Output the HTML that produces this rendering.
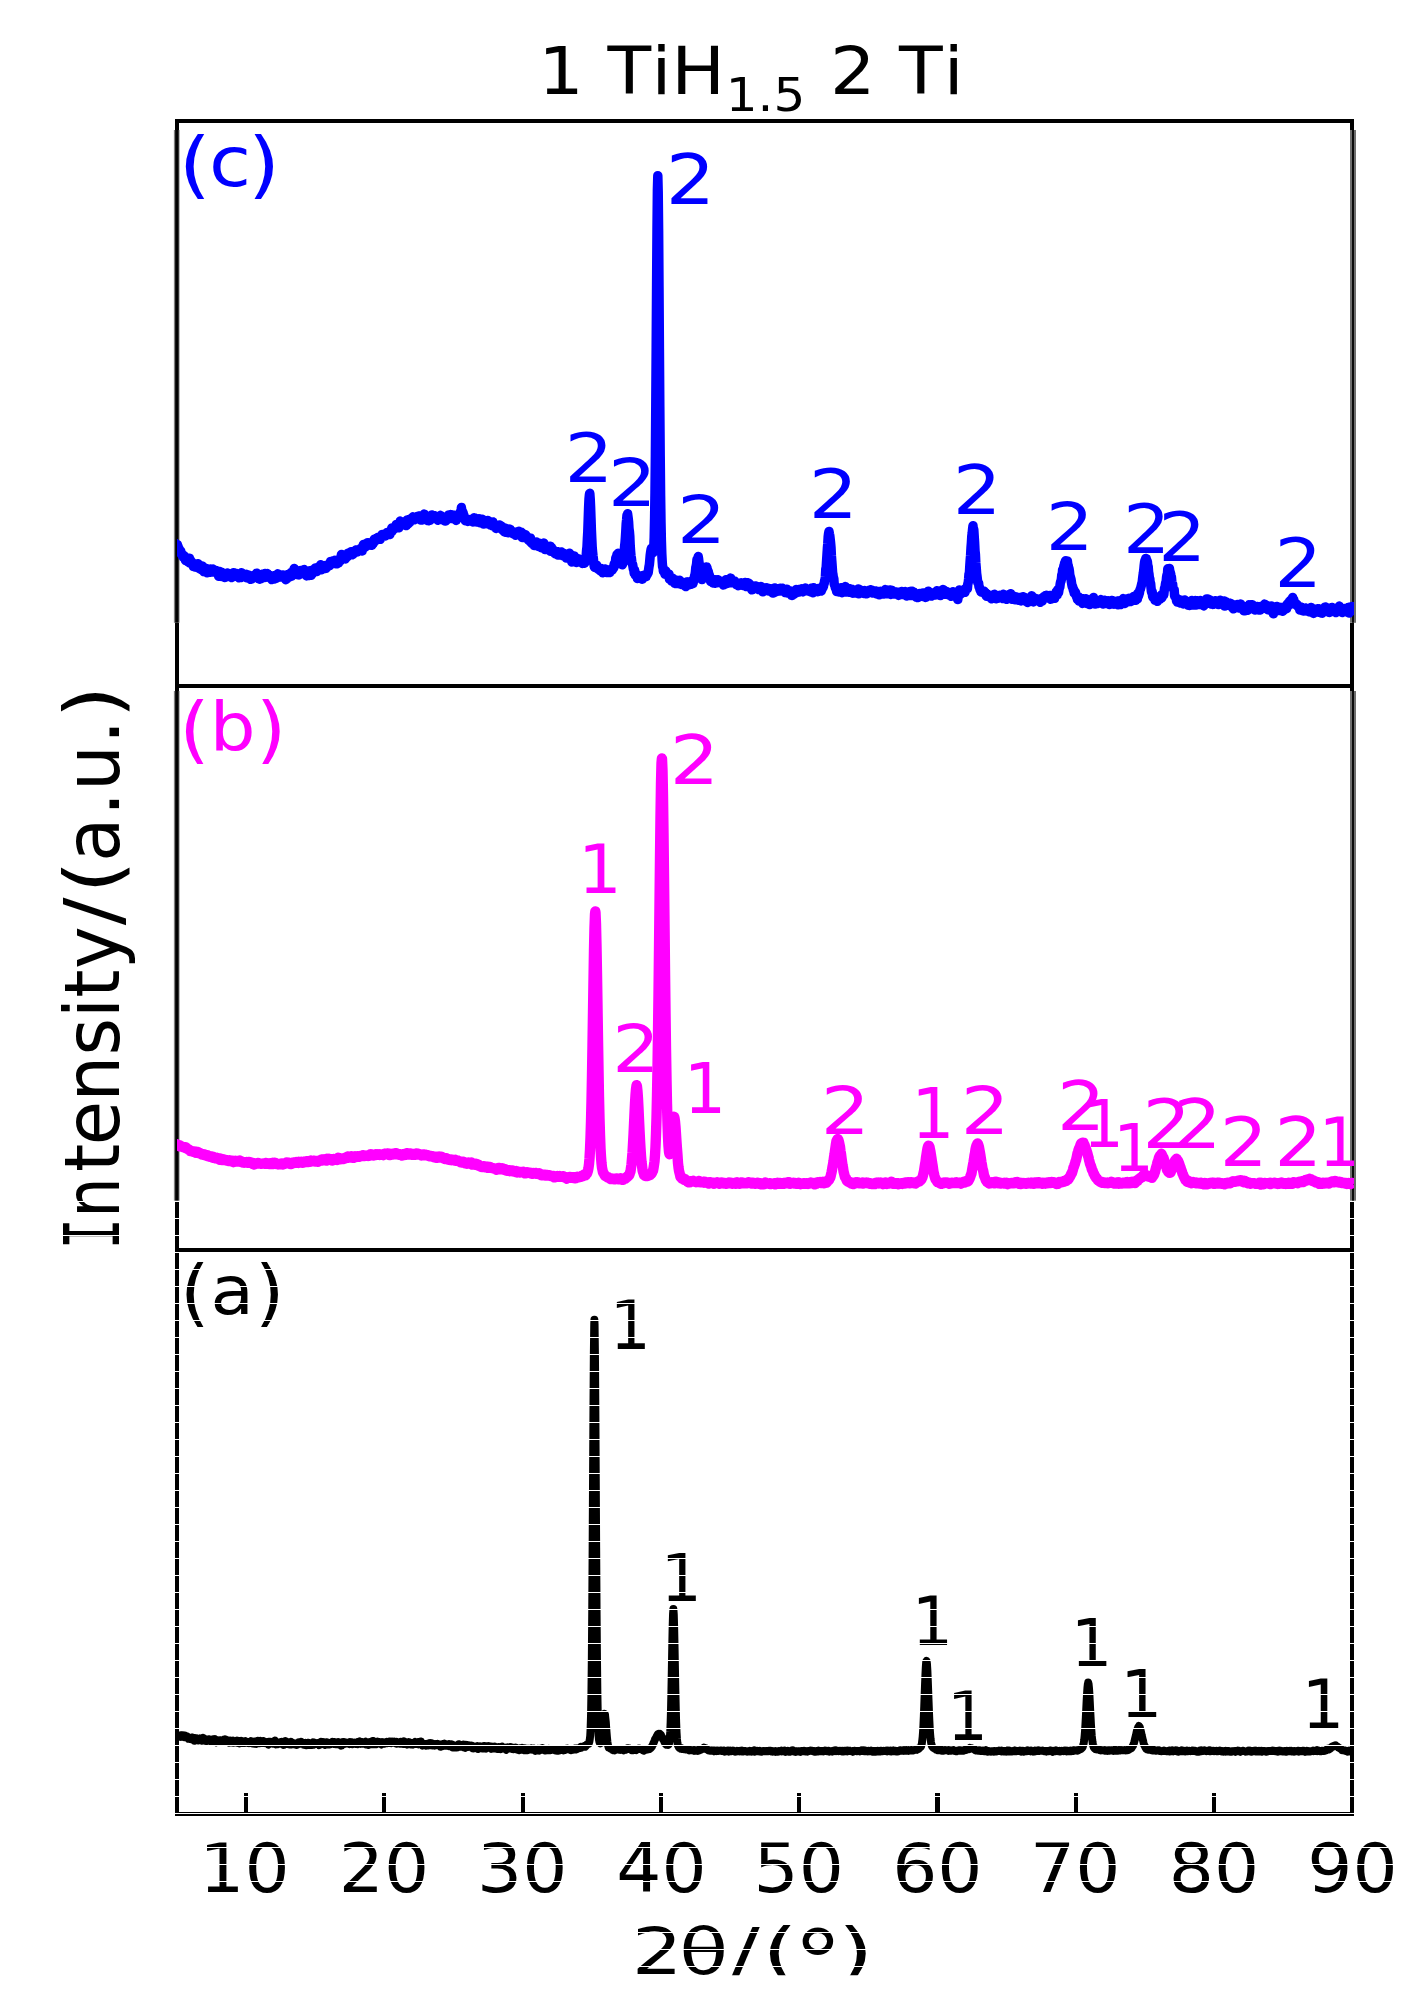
<!DOCTYPE html>
<html lang="en"><head><meta charset="utf-8"><title>XRD patterns</title>
<style>
html,body{margin:0;padding:0;background:#fff;}
svg{display:block;}
text{font-family:"DejaVu Sans","Liberation Sans",sans-serif;font-size:100px;font-kerning:none;font-variant-ligatures:none;white-space:pre;}
</style></head><body>
<svg width="1419" height="2002" viewBox="0 0 1419 2002">
<rect width="1419" height="2002" fill="#fff"/>
<defs><linearGradient id="gl" x1="0" x2="1" y1="0" y2="0"><stop offset="0" stop-color="#000" stop-opacity="0"/><stop offset="0.36" stop-color="#000"/><stop offset="0.72" stop-color="#000"/><stop offset="1" stop-color="#000" stop-opacity="0"/></linearGradient></defs>
<g fill="#000" shape-rendering="crispEdges">
<rect x="175" y="118.9" width="1178.8" height="3.9"/>
<rect x="175" y="684" width="1178.8" height="3.8"/>
<rect x="175" y="1247.8" width="1178.8" height="3.9"/>
<rect x="175" y="1811.9" width="1179.2" height="4.2"/>
<rect x="175" y="118.9" width="3.95" height="11.1"/>
<rect x="1350" y="118.9" width="3.9" height="11.1"/>
<rect x="175" y="622.8" width="3.95" height="68.2"/>
<rect x="1350" y="622.8" width="3.9" height="68.2"/>
<rect x="175" y="1200.7" width="3.95" height="615.3"/>
<rect x="1350" y="1200.7" width="4.2" height="615.3"/>
<rect x="243.9" y="1792.8" width="4.1" height="19.5"/>
<rect x="382.2" y="1792.8" width="4.1" height="19.5"/>
<rect x="520.5" y="1792.8" width="4.1" height="19.5"/>
<rect x="658.8" y="1792.8" width="4.1" height="19.5"/>
<rect x="797.1" y="1792.8" width="4.1" height="19.5"/>
<rect x="935.4" y="1792.8" width="4.1" height="19.5"/>
<rect x="1073.7" y="1792.8" width="4.1" height="19.5"/>
<rect x="1212.0" y="1792.8" width="4.1" height="19.5"/>
</g>
<rect x="173.3" y="130" width="6.7" height="492.8" fill="url(#gl)"/>
<rect x="1350" y="130" width="6" height="492.8" fill="#6e6e6e"/><rect x="1352.1" y="130" width="1.8" height="492.8" fill="#000"/>
<rect x="173.3" y="691" width="6.7" height="509.7" fill="url(#gl)"/>
<rect x="1350" y="691" width="6" height="509.7" fill="#6e6e6e"/><rect x="1352.1" y="691" width="1.8" height="509.7" fill="#000"/>
<clipPath id="cf"><rect x="177" y="100" width="1176.9" height="1720"/></clipPath><g clip-path="url(#cf)" fill="none" stroke-linejoin="round">
<path d="M175.0 548.5 L175.4 543.2 L175.8 547.0 L176.2 546.0 L176.6 546.2 L177.0 546.6 L177.4 544.6 L177.8 546.9 L178.2 546.5 L178.6 552.1 L179.0 549.0 L179.4 549.1 L179.8 550.0 L180.2 550.4 L180.6 550.7 L181.0 552.3 L181.4 553.9 L181.8 553.6 L182.2 555.6 L182.6 554.6 L183.0 555.3 L183.4 557.4 L183.8 556.5 L184.2 555.7 L184.6 556.5 L185.0 558.0 L185.4 560.3 L185.8 558.2 L186.2 558.8 L186.6 560.8 L187.0 558.9 L187.4 560.0 L187.8 561.8 L188.2 561.7 L188.6 561.4 L189.0 562.2 L189.4 558.2 L189.8 563.0 L190.2 560.8 L190.6 560.2 L191.0 562.9 L191.4 563.7 L191.8 562.7 L192.2 562.3 L192.6 564.1 L193.0 564.4 L193.4 566.5 L193.8 566.1 L194.2 565.6 L194.6 566.9 L195.0 565.4 L195.4 564.6 L195.8 566.4 L196.2 566.4 L196.6 565.6 L197.0 565.1 L197.4 566.6 L197.8 563.8 L198.2 568.0 L198.6 568.1 L199.0 565.9 L199.4 568.1 L199.8 567.0 L200.2 569.1 L200.6 565.8 L201.0 567.1 L201.4 569.1 L201.8 569.8 L202.2 566.0 L202.6 568.3 L203.0 569.5 L203.4 568.7 L203.8 571.6 L204.2 568.5 L204.6 570.6 L205.0 569.1 L205.4 572.1 L205.8 570.5 L206.2 570.2 L206.6 568.6 L207.0 572.8 L207.4 571.7 L207.8 571.7 L208.2 572.1 L208.6 571.0 L209.0 569.7 L209.4 569.4 L209.8 569.5 L210.2 572.2 L210.6 568.9 L211.0 570.1 L211.4 570.6 L211.8 571.5 L212.2 571.9 L212.6 569.7 L213.0 569.0 L213.4 570.8 L213.8 572.1 L214.2 571.5 L214.6 570.8 L215.0 570.3 L215.4 571.2 L215.8 570.8 L216.2 572.4 L216.6 570.7 L217.0 572.1 L217.4 572.1 L217.8 573.2 L218.2 573.1 L218.6 576.2 L219.0 575.3 L219.4 575.6 L219.8 571.6 L220.2 573.9 L220.6 573.8 L221.0 575.4 L221.4 572.2 L221.8 576.5 L222.2 576.5 L222.6 573.7 L223.0 574.2 L223.4 574.4 L223.8 575.4 L224.2 576.0 L224.6 577.5 L225.0 574.6 L225.4 575.4 L225.8 574.4 L226.2 576.2 L226.6 574.9 L227.0 575.7 L227.4 573.0 L227.8 574.2 L228.2 573.7 L228.6 576.6 L229.0 575.7 L229.4 574.5 L229.8 574.4 L230.2 575.5 L230.6 574.1 L231.0 573.7 L231.4 575.3 L231.8 577.5 L232.2 574.2 L232.6 573.8 L233.0 573.0 L233.4 572.7 L233.8 574.9 L234.2 575.3 L234.6 574.4 L235.0 574.9 L235.4 574.8 L235.8 575.1 L236.2 573.4 L236.6 575.0 L237.0 576.0 L237.4 575.3 L237.8 575.9 L238.2 575.8 L238.6 576.4 L239.0 577.8 L239.4 576.1 L239.8 576.2 L240.2 577.0 L240.6 576.6 L241.0 577.6 L241.4 572.8 L241.8 576.2 L242.2 574.5 L242.6 575.1 L243.0 575.8 L243.4 576.0 L243.8 575.9 L244.2 574.8 L244.6 576.5 L245.0 574.3 L245.4 574.5 L245.8 575.8 L246.2 574.3 L246.6 577.7 L247.0 576.4 L247.4 577.9 L247.8 575.3 L248.2 575.0 L248.6 575.9 L249.0 576.9 L249.4 575.6 L249.8 577.1 L250.2 577.0 L250.6 579.3 L251.0 576.9 L251.4 579.1 L251.8 577.1 L252.2 576.5 L252.6 576.5 L253.0 575.6 L253.4 576.8 L253.8 577.4 L254.2 576.0 L254.6 576.2 L255.0 577.1 L255.4 575.3 L255.8 575.2 L256.2 574.7 L256.6 573.2 L257.0 576.3 L257.4 573.7 L257.8 577.1 L258.2 576.9 L258.6 578.8 L259.0 578.0 L259.4 577.5 L259.8 579.2 L260.2 578.2 L260.6 578.6 L261.0 578.7 L261.4 578.2 L261.8 577.7 L262.2 576.5 L262.6 576.8 L263.0 574.1 L263.4 576.2 L263.8 574.8 L264.2 577.5 L264.6 577.5 L265.0 573.5 L265.4 575.9 L265.8 575.5 L266.2 574.3 L266.6 576.2 L267.0 575.0 L267.4 573.5 L267.8 575.4 L268.2 575.7 L268.6 576.2 L269.0 574.9 L269.4 577.4 L269.8 577.8 L270.2 575.9 L270.6 576.7 L271.0 577.5 L271.4 576.9 L271.8 579.6 L272.2 577.6 L272.6 575.9 L273.0 575.9 L273.4 576.5 L273.8 579.1 L274.2 575.9 L274.6 576.1 L275.0 576.5 L275.4 575.7 L275.8 578.4 L276.2 574.9 L276.6 576.4 L277.0 575.5 L277.4 576.0 L277.8 573.8 L278.2 577.4 L278.6 575.2 L279.0 575.6 L279.4 574.6 L279.8 574.9 L280.2 576.5 L280.6 576.9 L281.0 576.5 L281.4 576.9 L281.8 576.1 L282.2 575.1 L282.6 576.0 L283.0 575.8 L283.4 575.1 L283.8 576.4 L284.2 577.5 L284.6 576.7 L285.0 576.5 L285.4 578.1 L285.8 579.7 L286.2 577.2 L286.6 577.3 L287.0 577.1 L287.4 578.4 L287.8 574.4 L288.2 576.7 L288.6 577.3 L289.0 574.5 L289.4 576.9 L289.8 575.5 L290.2 574.0 L290.6 574.8 L291.0 572.6 L291.4 573.5 L291.8 576.0 L292.2 572.4 L292.6 575.2 L293.0 572.3 L293.4 573.1 L293.8 571.5 L294.2 568.4 L294.6 570.2 L295.0 571.2 L295.4 569.8 L295.8 570.0 L296.2 572.6 L296.6 572.0 L297.0 571.2 L297.4 572.8 L297.8 574.8 L298.2 573.1 L298.6 574.6 L299.0 575.0 L299.4 572.9 L299.8 571.2 L300.2 570.6 L300.6 571.9 L301.0 572.8 L301.4 571.9 L301.8 572.2 L302.2 570.9 L302.6 571.7 L303.0 570.8 L303.4 570.9 L303.8 569.8 L304.2 569.6 L304.6 571.0 L305.0 570.3 L305.4 570.6 L305.8 572.8 L306.2 572.1 L306.6 575.9 L307.0 573.8 L307.4 572.2 L307.8 574.1 L308.2 574.0 L308.6 573.0 L309.0 575.5 L309.4 573.4 L309.8 570.7 L310.2 575.2 L310.6 573.2 L311.0 575.3 L311.4 572.2 L311.8 571.0 L312.2 573.8 L312.6 570.1 L313.0 571.1 L313.4 572.1 L313.8 570.1 L314.2 569.5 L314.6 569.5 L315.0 570.2 L315.4 568.0 L315.8 569.6 L316.2 569.5 L316.6 571.6 L317.0 568.4 L317.4 567.6 L317.8 569.4 L318.2 567.9 L318.6 568.5 L319.0 568.1 L319.4 569.1 L319.8 566.9 L320.2 567.6 L320.6 564.7 L321.0 566.8 L321.4 569.8 L321.8 567.2 L322.2 567.3 L322.6 566.6 L323.0 568.6 L323.4 567.8 L323.8 565.8 L324.2 567.8 L324.6 567.0 L325.0 567.4 L325.4 565.6 L325.8 568.4 L326.2 566.7 L326.6 566.0 L327.0 565.4 L327.4 565.5 L327.8 566.5 L328.2 564.8 L328.6 566.1 L329.0 565.2 L329.4 565.8 L329.8 565.0 L330.2 563.8 L330.6 561.4 L331.0 563.9 L331.4 564.2 L331.8 563.2 L332.2 563.3 L332.6 561.8 L333.0 561.6 L333.4 560.7 L333.8 563.3 L334.2 561.9 L334.6 561.2 L335.0 560.3 L335.4 561.8 L335.8 563.8 L336.2 562.7 L336.6 561.2 L337.0 563.8 L337.4 563.7 L337.8 563.1 L338.2 562.7 L338.6 562.8 L339.0 561.6 L339.4 561.4 L339.8 558.9 L340.2 560.9 L340.6 558.6 L341.0 560.0 L341.4 554.5 L341.8 557.4 L342.2 557.5 L342.6 555.9 L343.0 557.0 L343.4 557.6 L343.8 557.7 L344.2 556.7 L344.6 557.3 L345.0 558.8 L345.4 558.9 L345.8 557.2 L346.2 556.8 L346.6 556.4 L347.0 557.0 L347.4 554.0 L347.8 553.3 L348.2 554.7 L348.6 552.9 L349.0 553.2 L349.4 553.8 L349.8 554.2 L350.2 552.3 L350.6 554.7 L351.0 551.7 L351.4 554.6 L351.8 552.1 L352.2 552.5 L352.6 554.8 L353.0 553.4 L353.4 552.7 L353.8 552.7 L354.2 553.3 L354.6 552.1 L355.0 551.6 L355.4 552.5 L355.8 550.1 L356.2 550.2 L356.6 549.9 L357.0 551.8 L357.4 551.5 L357.8 551.7 L358.2 550.1 L358.6 549.9 L359.0 551.0 L359.4 549.4 L359.8 550.7 L360.2 550.4 L360.6 548.4 L361.0 548.8 L361.4 548.4 L361.8 550.3 L362.2 551.0 L362.6 547.5 L363.0 547.4 L363.4 544.4 L363.8 547.2 L364.2 546.8 L364.6 545.3 L365.0 547.2 L365.4 544.0 L365.8 545.2 L366.2 545.2 L366.6 543.2 L367.0 545.5 L367.4 545.6 L367.8 542.7 L368.2 542.7 L368.6 545.2 L369.0 544.4 L369.4 542.9 L369.8 543.9 L370.2 544.0 L370.6 543.8 L371.0 544.7 L371.4 543.9 L371.8 545.3 L372.2 544.5 L372.6 543.4 L373.0 543.5 L373.4 543.4 L373.8 542.1 L374.2 539.2 L374.6 541.1 L375.0 539.5 L375.4 540.9 L375.8 538.6 L376.2 538.8 L376.6 538.4 L377.0 539.9 L377.4 538.1 L377.8 537.5 L378.2 538.2 L378.6 537.4 L379.0 538.0 L379.4 537.7 L379.8 537.7 L380.2 539.3 L380.6 536.2 L381.0 536.4 L381.4 535.8 L381.8 536.7 L382.2 534.4 L382.6 534.9 L383.0 535.7 L383.4 536.3 L383.8 535.5 L384.2 534.7 L384.6 534.0 L385.0 535.3 L385.4 536.0 L385.8 534.4 L386.2 534.0 L386.6 534.2 L387.0 532.5 L387.4 533.2 L387.8 533.3 L388.2 533.9 L388.6 533.5 L389.0 531.9 L389.4 534.4 L389.8 534.6 L390.2 531.7 L390.6 532.0 L391.0 531.2 L391.4 531.2 L391.8 527.9 L392.2 531.1 L392.6 528.2 L393.0 529.9 L393.4 528.2 L393.8 527.4 L394.2 527.6 L394.6 528.7 L395.0 526.4 L395.4 526.7 L395.8 526.2 L396.2 524.5 L396.6 527.8 L397.0 526.8 L397.4 525.9 L397.8 527.2 L398.2 524.6 L398.6 525.7 L399.0 527.8 L399.4 526.8 L399.8 522.7 L400.2 521.1 L400.6 523.5 L401.0 525.5 L401.4 523.2 L401.8 523.2 L402.2 524.0 L402.6 522.2 L403.0 523.5 L403.4 524.2 L403.8 523.7 L404.2 523.6 L404.6 522.3 L405.0 523.5 L405.4 522.2 L405.8 524.2 L406.2 525.6 L406.6 521.6 L407.0 520.0 L407.4 522.1 L407.8 523.1 L408.2 523.8 L408.6 523.5 L409.0 520.9 L409.4 520.4 L409.8 522.3 L410.2 519.0 L410.6 521.2 L411.0 519.1 L411.4 519.9 L411.8 519.4 L412.2 519.2 L412.6 519.0 L413.0 516.8 L413.4 518.4 L413.8 518.1 L414.2 518.6 L414.6 519.8 L415.0 518.0 L415.4 517.5 L415.8 517.4 L416.2 517.7 L416.6 518.8 L417.0 516.6 L417.4 518.7 L417.8 517.6 L418.2 517.1 L418.6 515.9 L419.0 518.1 L419.4 518.9 L419.8 516.1 L420.2 519.6 L420.6 519.9 L421.0 518.1 L421.4 518.0 L421.8 520.1 L422.2 518.5 L422.6 515.9 L423.0 516.8 L423.4 516.6 L423.8 516.7 L424.2 514.1 L424.6 518.0 L425.0 516.4 L425.4 517.5 L425.8 517.3 L426.2 518.6 L426.6 517.5 L427.0 517.2 L427.4 519.2 L427.8 520.6 L428.2 518.8 L428.6 520.8 L429.0 519.4 L429.4 518.2 L429.8 520.3 L430.2 517.1 L430.6 518.9 L431.0 516.6 L431.4 517.3 L431.8 515.0 L432.2 515.3 L432.6 517.6 L433.0 516.6 L433.4 516.6 L433.8 516.3 L434.2 517.6 L434.6 515.7 L435.0 516.3 L435.4 517.6 L435.8 517.0 L436.2 517.2 L436.6 518.1 L437.0 518.0 L437.4 517.9 L437.8 520.2 L438.2 519.4 L438.6 519.7 L439.0 518.1 L439.4 517.4 L439.8 516.2 L440.2 517.5 L440.6 515.3 L441.0 517.0 L441.4 518.6 L441.8 519.7 L442.2 518.9 L442.6 516.8 L443.0 518.5 L443.4 517.0 L443.8 519.0 L444.2 517.9 L444.6 519.1 L445.0 521.1 L445.4 519.2 L445.8 520.9 L446.2 518.3 L446.6 517.6 L447.0 519.4 L447.4 519.6 L447.8 516.5 L448.2 517.0 L448.6 514.9 L449.0 516.2 L449.4 517.3 L449.8 516.1 L450.2 515.6 L450.6 514.6 L451.0 516.7 L451.4 517.3 L451.8 517.1 L452.2 516.7 L452.6 515.0 L453.0 518.7 L453.4 516.7 L453.8 516.9 L454.2 518.4 L454.6 515.3 L455.0 518.3 L455.4 518.5 L455.8 519.3 L456.2 520.4 L456.6 519.2 L457.0 516.2 L457.4 517.8 L457.8 518.3 L458.2 518.0 L458.6 516.0 L459.0 515.1 L459.4 517.2 L459.8 516.1 L460.2 514.7 L460.6 511.4 L461.0 514.3 L461.4 507.6 L461.8 510.2 L461.8 513.0 L462.2 510.8 L462.6 512.4 L463.0 512.3 L463.4 516.9 L463.8 515.0 L464.2 517.9 L464.6 518.6 L465.0 517.9 L465.4 520.8 L465.8 518.4 L466.2 519.5 L466.6 520.4 L467.0 520.0 L467.4 521.0 L467.8 521.4 L468.2 519.8 L468.6 519.4 L469.0 519.4 L469.4 519.6 L469.8 521.0 L470.2 519.9 L470.6 520.7 L471.0 520.2 L471.4 519.4 L471.8 521.4 L472.2 519.1 L472.6 520.2 L473.0 521.9 L473.4 518.6 L473.8 519.7 L474.2 517.8 L474.6 519.0 L475.0 517.9 L475.4 519.3 L475.8 519.2 L476.2 520.1 L476.6 521.9 L477.0 520.5 L477.4 521.1 L477.8 520.4 L478.2 520.3 L478.6 519.7 L479.0 518.7 L479.4 520.9 L479.8 522.7 L480.2 521.2 L480.6 519.9 L481.0 522.5 L481.4 520.0 L481.8 519.8 L482.2 519.3 L482.6 519.8 L483.0 521.0 L483.4 524.1 L483.8 521.8 L484.2 521.1 L484.6 521.9 L485.0 522.5 L485.4 520.8 L485.8 523.0 L486.2 523.5 L486.6 522.9 L487.0 523.2 L487.4 520.9 L487.8 520.4 L488.2 524.1 L488.6 524.0 L489.0 521.1 L489.4 523.5 L489.8 523.7 L490.2 524.8 L490.6 524.8 L491.0 524.4 L491.4 525.5 L491.8 525.6 L492.2 525.4 L492.6 523.3 L493.0 521.9 L493.4 524.6 L493.8 523.6 L494.2 526.0 L494.6 526.8 L495.0 526.5 L495.4 526.1 L495.8 527.0 L496.2 528.5 L496.6 526.3 L497.0 528.2 L497.4 527.7 L497.8 526.9 L498.2 528.1 L498.6 525.3 L499.0 527.2 L499.4 525.0 L499.8 525.4 L500.2 525.2 L500.6 527.4 L501.0 526.0 L501.4 527.4 L501.8 526.2 L502.2 529.0 L502.6 530.1 L503.0 528.3 L503.4 530.3 L503.8 529.3 L504.2 531.7 L504.6 529.7 L505.0 528.2 L505.4 532.3 L505.8 530.7 L506.2 529.8 L506.6 530.4 L507.0 529.2 L507.4 530.9 L507.8 529.7 L508.2 532.7 L508.6 531.8 L509.0 529.1 L509.4 529.4 L509.8 530.8 L510.2 529.3 L510.6 531.6 L511.0 531.6 L511.4 530.7 L511.8 531.0 L512.2 532.3 L512.6 533.5 L513.0 533.8 L513.4 532.4 L513.8 533.8 L514.2 532.3 L514.6 534.1 L515.0 532.9 L515.4 535.2 L515.8 533.0 L516.2 533.3 L516.6 534.2 L517.0 534.5 L517.4 531.7 L517.8 532.4 L518.2 532.8 L518.6 532.6 L519.0 531.2 L519.4 532.4 L519.8 532.3 L520.2 534.7 L520.6 534.3 L521.0 532.7 L521.4 532.3 L521.8 535.7 L522.2 537.5 L522.6 536.6 L523.0 537.6 L523.4 536.0 L523.8 534.9 L524.2 537.4 L524.6 536.4 L525.0 537.1 L525.4 534.6 L525.8 536.6 L526.2 535.8 L526.6 537.9 L527.0 536.6 L527.4 536.9 L527.8 537.2 L528.2 539.8 L528.6 538.7 L529.0 538.1 L529.4 538.1 L529.8 538.4 L530.2 541.8 L530.6 538.3 L531.0 540.0 L531.4 542.4 L531.8 543.5 L532.2 542.4 L532.6 543.9 L533.0 544.1 L533.4 544.6 L533.8 543.5 L534.2 545.5 L534.6 543.9 L535.0 545.5 L535.4 542.4 L535.8 544.9 L536.2 542.3 L536.6 542.1 L537.0 544.6 L537.4 543.1 L537.8 544.8 L538.2 543.0 L538.6 546.4 L539.0 544.5 L539.4 543.3 L539.8 545.0 L540.2 546.0 L540.6 544.2 L541.0 545.9 L541.4 547.8 L541.8 546.5 L542.2 545.7 L542.6 545.2 L543.0 546.8 L543.4 544.6 L543.8 543.0 L544.2 546.2 L544.6 546.0 L545.0 549.6 L545.4 547.9 L545.8 546.8 L546.2 546.7 L546.6 548.7 L547.0 547.1 L547.4 547.4 L547.8 548.0 L548.2 548.2 L548.6 548.2 L549.0 548.2 L549.4 549.6 L549.8 550.2 L550.2 546.2 L550.6 551.3 L551.0 548.5 L551.4 549.9 L551.8 547.7 L552.2 549.3 L552.6 549.6 L553.0 550.0 L553.4 551.5 L553.8 551.9 L554.2 550.6 L554.6 552.2 L555.0 553.6 L555.4 554.0 L555.8 552.9 L556.2 553.1 L556.6 553.2 L557.0 552.0 L557.4 551.7 L557.8 555.1 L558.2 552.7 L558.6 553.2 L559.0 552.1 L559.4 554.4 L559.8 554.9 L560.2 552.4 L560.6 553.3 L561.0 551.9 L561.4 555.2 L561.8 554.4 L562.2 552.7 L562.6 555.6 L563.0 554.9 L563.4 555.4 L563.8 555.7 L564.2 554.8 L564.6 555.1 L565.0 556.6 L565.4 555.8 L565.8 554.6 L566.2 558.0 L566.6 555.1 L567.0 554.4 L567.4 553.9 L567.8 555.3 L568.2 555.6 L568.6 554.8 L569.0 555.8 L569.4 553.3 L569.8 555.2 L570.2 555.7 L570.6 556.8 L571.0 557.9 L571.4 555.4 L571.8 561.9 L572.2 557.3 L572.6 558.9 L573.0 559.6 L573.4 559.8 L573.8 559.3 L574.2 555.9 L574.6 558.6 L575.0 561.3 L575.4 559.6 L575.8 559.7 L576.2 558.2 L576.6 562.5 L577.0 561.5 L577.4 559.6 L577.8 560.3 L578.2 560.2 L578.6 558.9 L579.0 559.8 L579.4 560.5 L579.8 561.0 L580.2 562.1 L580.6 560.8 L581.0 560.5 L581.4 561.7 L581.8 560.7 L582.2 560.2 L582.6 563.4 L583.0 561.8 L583.4 562.6 L583.8 563.3 L584.2 561.2 L584.6 563.1 L585.0 562.4 L585.4 560.8 L585.8 559.8 L586.2 555.8 L586.6 550.2 L587.0 546.9 L587.4 538.6 L587.8 531.4 L588.2 519.8 L588.6 507.9 L589.0 499.1 L589.4 494.9 L589.6 493.6 L589.8 493.3 L590.2 498.8 L590.6 507.3 L591.0 518.4 L591.4 530.1 L591.8 539.0 L592.2 547.5 L592.6 551.9 L593.0 555.8 L593.4 558.9 L593.8 562.7 L594.2 566.3 L594.6 567.2 L595.0 565.2 L595.4 564.9 L595.8 567.8 L596.2 567.4 L596.6 565.2 L597.0 568.2 L597.4 567.3 L597.8 569.0 L598.2 568.3 L598.6 569.5 L599.0 569.2 L599.4 568.1 L599.8 569.4 L600.2 569.1 L600.6 571.1 L601.0 569.1 L601.4 568.6 L601.8 571.4 L602.2 572.1 L602.6 572.7 L603.0 572.5 L603.4 569.5 L603.8 570.6 L604.2 570.9 L604.6 571.5 L605.0 568.9 L605.4 571.4 L605.8 571.7 L606.2 570.1 L606.6 571.2 L607.0 572.4 L607.4 571.0 L607.8 572.2 L608.2 572.1 L608.6 571.4 L609.0 571.4 L609.4 570.6 L609.8 572.5 L610.2 570.4 L610.6 569.9 L611.0 571.2 L611.4 569.0 L611.8 569.9 L612.2 570.1 L612.6 568.4 L613.0 568.0 L613.4 568.5 L613.8 567.7 L614.2 564.1 L614.6 563.4 L615.0 565.3 L615.4 562.7 L615.8 558.0 L616.2 557.2 L616.6 557.1 L617.0 554.5 L617.4 555.3 L617.8 554.5 L617.8 555.0 L618.2 553.3 L618.6 556.4 L619.0 559.3 L619.4 557.6 L619.8 561.7 L620.2 562.6 L620.6 563.4 L621.0 563.4 L621.4 562.6 L621.8 563.1 L622.2 564.8 L622.6 564.1 L623.0 562.9 L623.4 560.3 L623.8 557.2 L624.2 551.8 L624.6 546.3 L625.0 542.8 L625.4 537.5 L625.8 531.2 L626.2 523.7 L626.6 520.0 L627.0 515.2 L627.4 515.3 L627.6 513.8 L627.8 515.4 L628.2 518.3 L628.6 522.0 L629.0 528.7 L629.4 531.5 L629.8 536.2 L630.2 545.6 L630.6 551.4 L631.0 556.0 L631.4 558.4 L631.8 561.9 L632.2 563.9 L632.6 564.2 L633.0 566.7 L633.4 569.3 L633.8 569.2 L634.2 573.3 L634.6 570.2 L635.0 572.5 L635.4 575.2 L635.8 573.9 L636.2 574.0 L636.6 574.3 L637.0 575.5 L637.4 578.5 L637.8 577.4 L638.2 577.7 L638.6 576.6 L639.0 578.2 L639.4 577.2 L639.8 575.9 L640.2 576.3 L640.6 577.0 L641.0 578.1 L641.4 576.6 L641.8 577.3 L642.2 579.2 L642.6 575.9 L643.0 575.4 L643.4 578.0 L643.8 577.3 L644.2 576.5 L644.6 576.8 L645.0 575.9 L645.4 576.7 L645.8 575.5 L646.2 576.6 L646.6 574.0 L647.0 573.9 L647.4 574.3 L647.8 572.5 L648.2 572.5 L648.6 569.7 L649.0 566.6 L649.4 564.6 L649.8 560.3 L650.2 555.5 L650.6 552.5 L651.0 549.9 L651.4 548.3 L651.6 548.6 L651.8 549.7 L652.2 549.9 L652.6 552.6 L653.0 552.6 L653.4 549.7 L653.8 547.5 L654.2 537.3 L654.6 518.1 L655.0 492.1 L655.4 454.8 L655.8 404.4 L656.2 347.4 L656.6 285.8 L657.0 230.8 L657.4 190.0 L657.8 176.5 L657.8 175.7 L658.2 191.8 L658.6 229.0 L659.0 287.1 L659.4 349.4 L659.8 406.9 L660.2 456.2 L660.6 495.9 L661.0 522.4 L661.4 541.4 L661.8 553.9 L662.2 561.4 L662.6 567.0 L663.0 567.3 L663.4 571.2 L663.8 569.1 L664.2 570.8 L664.6 572.3 L665.0 574.2 L665.4 572.5 L665.8 571.1 L666.2 574.4 L666.6 574.1 L667.0 573.0 L667.4 573.2 L667.8 573.9 L668.2 575.2 L668.6 576.3 L669.0 574.2 L669.4 579.1 L669.8 576.8 L670.2 576.7 L670.6 578.3 L671.0 578.0 L671.4 580.9 L671.8 579.6 L672.2 578.1 L672.6 578.4 L673.0 578.6 L673.4 579.3 L673.8 581.0 L674.2 579.9 L674.6 583.2 L675.0 581.6 L675.4 582.0 L675.8 583.6 L676.2 580.3 L676.6 581.7 L677.0 583.6 L677.4 582.9 L677.8 582.8 L678.2 583.3 L678.6 582.0 L679.0 582.5 L679.4 581.0 L679.8 580.3 L680.2 584.1 L680.6 581.5 L681.0 581.9 L681.4 584.5 L681.8 584.2 L682.2 582.5 L682.6 582.7 L683.0 583.5 L683.4 582.8 L683.8 584.9 L684.2 584.6 L684.6 584.7 L685.0 585.4 L685.4 585.3 L685.8 586.6 L686.2 586.1 L686.6 582.1 L687.0 585.1 L687.4 582.5 L687.8 582.0 L688.2 584.5 L688.6 582.8 L689.0 583.2 L689.4 584.7 L689.8 582.5 L690.2 582.0 L690.6 583.3 L691.0 584.3 L691.4 583.4 L691.8 580.7 L692.2 581.6 L692.6 581.8 L693.0 583.7 L693.4 581.6 L693.8 580.4 L694.2 579.4 L694.6 575.8 L695.0 574.7 L695.4 572.2 L695.8 567.7 L696.2 566.0 L696.6 563.8 L697.0 559.3 L697.4 559.6 L697.8 558.4 L698.0 558.6 L698.2 556.6 L698.6 558.9 L699.0 562.5 L699.4 564.4 L699.8 565.3 L700.2 569.3 L700.6 573.3 L701.0 573.6 L701.4 575.8 L701.8 579.6 L702.2 577.3 L702.6 577.5 L703.0 576.3 L703.4 576.2 L703.8 577.9 L704.2 574.7 L704.6 572.0 L705.0 570.7 L705.4 570.2 L705.8 569.8 L706.2 567.0 L706.6 568.4 L706.6 566.9 L707.0 568.3 L707.4 569.5 L707.8 570.9 L708.2 571.2 L708.6 573.2 L709.0 575.6 L709.4 575.0 L709.8 578.2 L710.2 579.8 L710.6 581.4 L711.0 580.9 L711.4 581.3 L711.8 582.1 L712.2 581.4 L712.6 582.1 L713.0 582.9 L713.4 582.8 L713.8 581.1 L714.2 581.9 L714.6 579.7 L715.0 583.2 L715.4 581.6 L715.8 582.5 L716.2 580.7 L716.6 581.8 L717.0 582.2 L717.4 582.7 L717.8 579.8 L718.2 582.3 L718.6 581.1 L719.0 580.5 L719.4 582.2 L719.8 581.4 L720.2 581.7 L720.6 581.6 L721.0 583.0 L721.4 583.1 L721.8 583.1 L722.2 582.4 L722.6 583.0 L723.0 584.1 L723.4 585.0 L723.8 583.3 L724.2 584.6 L724.6 582.4 L725.0 580.6 L725.4 582.2 L725.8 579.8 L726.2 581.2 L726.6 581.8 L727.0 580.1 L727.4 580.3 L727.8 583.4 L728.2 580.8 L728.6 581.0 L729.0 581.7 L729.4 580.7 L729.8 580.7 L730.2 581.3 L730.6 578.1 L731.0 582.8 L731.4 580.1 L731.8 580.4 L732.2 582.6 L732.6 582.2 L733.0 580.8 L733.4 582.7 L733.8 581.2 L734.2 581.9 L734.6 581.1 L735.0 582.1 L735.4 583.7 L735.8 583.6 L736.2 584.0 L736.6 584.8 L737.0 583.8 L737.4 583.1 L737.8 583.5 L738.2 585.7 L738.6 583.7 L739.0 583.9 L739.4 583.3 L739.8 583.6 L740.2 583.8 L740.6 583.4 L741.0 583.4 L741.4 582.8 L741.8 583.0 L742.2 584.7 L742.6 585.2 L743.0 585.5 L743.4 584.5 L743.8 583.4 L744.2 585.1 L744.6 585.1 L745.0 582.5 L745.4 585.3 L745.8 585.1 L746.2 586.5 L746.6 583.3 L747.0 583.2 L747.4 585.8 L747.8 582.8 L748.2 584.2 L748.6 584.0 L749.0 584.3 L749.4 583.6 L749.8 586.0 L750.2 587.8 L750.6 587.6 L751.0 588.0 L751.4 587.4 L751.8 589.8 L752.2 588.9 L752.6 589.6 L753.0 586.5 L753.4 588.6 L753.8 586.6 L754.2 588.2 L754.6 587.7 L755.0 585.9 L755.4 587.4 L755.8 588.6 L756.2 587.9 L756.6 588.1 L757.0 586.5 L757.4 586.9 L757.8 586.6 L758.2 588.2 L758.6 589.5 L759.0 588.7 L759.4 588.2 L759.8 587.0 L760.2 589.0 L760.6 588.4 L761.0 586.6 L761.4 587.1 L761.8 589.0 L762.2 588.5 L762.6 591.7 L763.0 589.7 L763.4 588.3 L763.8 588.9 L764.2 591.1 L764.6 587.9 L765.0 589.7 L765.4 589.2 L765.8 590.2 L766.2 589.0 L766.6 587.8 L767.0 588.8 L767.4 588.3 L767.8 589.4 L768.2 588.3 L768.6 590.9 L769.0 588.6 L769.4 589.6 L769.8 588.5 L770.2 589.8 L770.6 590.0 L771.0 590.5 L771.4 591.8 L771.8 590.4 L772.2 590.3 L772.6 592.9 L773.0 591.3 L773.4 590.8 L773.8 592.9 L774.2 592.2 L774.6 587.9 L775.0 590.3 L775.4 591.3 L775.8 591.0 L776.2 589.2 L776.6 591.5 L777.0 588.6 L777.4 589.3 L777.8 589.7 L778.2 589.6 L778.6 590.6 L779.0 590.9 L779.4 589.5 L779.8 591.0 L780.2 588.3 L780.6 588.7 L781.0 590.8 L781.4 588.7 L781.8 589.9 L782.2 588.2 L782.6 588.6 L783.0 589.1 L783.4 589.8 L783.8 589.6 L784.2 590.5 L784.6 591.6 L785.0 592.5 L785.4 591.3 L785.8 591.9 L786.2 592.2 L786.6 589.8 L787.0 589.2 L787.4 593.1 L787.8 592.9 L788.2 591.7 L788.6 592.3 L789.0 591.0 L789.4 590.7 L789.8 592.9 L790.2 590.9 L790.6 593.9 L791.0 592.1 L791.4 593.3 L791.8 595.4 L792.2 595.4 L792.6 592.8 L793.0 594.3 L793.4 591.7 L793.8 592.0 L794.2 592.9 L794.6 593.8 L795.0 591.1 L795.4 592.1 L795.8 591.3 L796.2 589.6 L796.6 590.8 L797.0 592.7 L797.4 590.7 L797.8 591.3 L798.2 591.5 L798.6 589.5 L799.0 591.6 L799.4 591.8 L799.8 591.9 L800.2 591.4 L800.6 589.3 L801.0 589.1 L801.4 588.9 L801.8 588.8 L802.2 589.1 L802.6 591.3 L803.0 591.9 L803.4 589.4 L803.8 591.2 L804.2 588.7 L804.6 589.7 L805.0 588.9 L805.4 588.1 L805.8 590.1 L806.2 590.2 L806.6 589.7 L807.0 589.8 L807.4 589.4 L807.8 590.6 L808.2 590.2 L808.6 591.2 L809.0 589.3 L809.4 590.9 L809.8 591.0 L810.2 591.7 L810.6 591.3 L811.0 590.2 L811.4 589.2 L811.8 587.9 L812.2 590.3 L812.6 592.2 L813.0 592.7 L813.4 587.8 L813.8 590.1 L814.2 590.7 L814.6 590.0 L815.0 591.5 L815.4 591.4 L815.8 590.7 L816.2 591.2 L816.6 589.3 L817.0 589.9 L817.4 589.8 L817.8 591.7 L818.2 588.4 L818.6 589.9 L819.0 590.9 L819.4 589.7 L819.8 590.5 L820.2 588.6 L820.6 589.6 L821.0 589.8 L821.4 591.0 L821.8 588.7 L822.2 589.0 L822.6 586.6 L823.0 585.9 L823.4 586.7 L823.8 584.2 L824.2 583.6 L824.6 580.7 L825.0 579.8 L825.4 576.8 L825.8 569.0 L826.2 567.5 L826.6 560.4 L827.0 554.7 L827.4 548.2 L827.8 543.6 L828.2 536.6 L828.6 533.4 L829.0 531.5 L829.2 532.7 L829.4 533.9 L829.8 535.8 L830.2 539.2 L830.6 543.1 L831.0 547.4 L831.4 555.8 L831.8 561.1 L832.2 566.6 L832.6 572.6 L833.0 574.7 L833.4 578.1 L833.8 578.4 L834.2 584.0 L834.6 585.1 L835.0 585.6 L835.4 588.0 L835.8 587.1 L836.2 588.1 L836.6 591.4 L837.0 590.0 L837.4 590.3 L837.8 590.0 L838.2 589.8 L838.6 589.3 L839.0 592.0 L839.4 589.4 L839.8 590.7 L840.2 589.9 L840.6 590.1 L841.0 587.8 L841.4 588.6 L841.8 592.7 L842.2 592.5 L842.6 590.0 L843.0 590.3 L843.4 590.9 L843.8 588.8 L844.2 592.0 L844.6 588.6 L845.0 589.0 L845.4 586.6 L845.8 591.7 L846.2 590.0 L846.6 591.9 L847.0 588.8 L847.4 590.4 L847.8 590.0 L848.2 590.0 L848.6 592.1 L849.0 592.2 L849.4 591.0 L849.8 588.7 L850.2 590.3 L850.6 590.9 L851.0 590.1 L851.4 590.4 L851.8 590.7 L852.2 589.4 L852.6 591.2 L853.0 593.2 L853.4 590.4 L853.8 591.9 L854.2 593.0 L854.6 590.6 L855.0 592.2 L855.4 590.5 L855.8 591.8 L856.2 590.8 L856.6 591.3 L857.0 591.6 L857.4 591.7 L857.8 591.7 L858.2 589.0 L858.6 593.8 L859.0 591.6 L859.4 590.6 L859.8 591.1 L860.2 592.2 L860.6 590.6 L861.0 591.2 L861.4 591.0 L861.8 592.2 L862.2 590.6 L862.6 592.0 L863.0 592.0 L863.4 591.6 L863.8 593.4 L864.2 592.0 L864.6 590.5 L865.0 592.1 L865.4 591.6 L865.8 591.2 L866.2 591.3 L866.6 593.8 L867.0 591.2 L867.4 591.6 L867.8 590.9 L868.2 592.8 L868.6 591.3 L869.0 590.6 L869.4 590.2 L869.8 592.4 L870.2 592.6 L870.6 589.8 L871.0 590.8 L871.4 592.4 L871.8 592.9 L872.2 590.2 L872.6 591.4 L873.0 593.1 L873.4 591.6 L873.8 591.8 L874.2 591.8 L874.6 590.9 L875.0 592.7 L875.4 593.0 L875.8 591.0 L876.2 592.8 L876.6 593.9 L877.0 592.8 L877.4 593.7 L877.8 591.9 L878.2 594.2 L878.6 591.6 L879.0 594.8 L879.4 591.9 L879.8 591.6 L880.2 591.4 L880.6 592.1 L881.0 592.1 L881.4 591.9 L881.8 592.4 L882.2 593.7 L882.6 593.9 L883.0 592.4 L883.4 594.1 L883.8 591.2 L884.2 590.9 L884.6 590.5 L885.0 592.3 L885.4 589.6 L885.8 589.8 L886.2 593.1 L886.6 593.7 L887.0 593.5 L887.4 590.3 L887.8 592.2 L888.2 593.3 L888.6 592.5 L889.0 590.3 L889.4 591.7 L889.8 589.9 L890.2 590.3 L890.6 594.4 L891.0 592.7 L891.4 590.3 L891.8 590.4 L892.2 593.0 L892.6 592.0 L893.0 593.7 L893.4 592.5 L893.8 593.3 L894.2 594.0 L894.6 592.7 L895.0 591.7 L895.4 592.7 L895.8 593.3 L896.2 593.9 L896.6 593.9 L897.0 593.7 L897.4 594.2 L897.8 592.2 L898.2 594.8 L898.6 595.4 L899.0 593.4 L899.4 593.1 L899.8 594.4 L900.2 593.6 L900.6 593.0 L901.0 592.6 L901.4 591.9 L901.8 591.4 L902.2 593.7 L902.6 594.4 L903.0 591.9 L903.4 593.4 L903.8 594.0 L904.2 593.4 L904.6 593.1 L905.0 593.5 L905.4 591.6 L905.8 593.7 L906.2 593.3 L906.6 596.0 L907.0 594.5 L907.4 592.7 L907.8 593.0 L908.2 595.0 L908.6 594.8 L909.0 593.2 L909.4 592.9 L909.8 591.5 L910.2 593.0 L910.6 593.3 L911.0 592.7 L911.4 595.6 L911.8 591.3 L912.2 593.3 L912.6 593.9 L913.0 593.9 L913.4 595.5 L913.8 592.0 L914.2 593.2 L914.6 594.7 L915.0 595.2 L915.4 595.0 L915.8 594.8 L916.2 597.1 L916.6 594.6 L917.0 595.0 L917.4 597.3 L917.8 597.6 L918.2 596.4 L918.6 594.2 L919.0 594.1 L919.4 593.9 L919.8 593.5 L920.2 594.3 L920.6 596.2 L921.0 594.9 L921.4 593.8 L921.8 593.9 L922.2 593.6 L922.6 596.6 L923.0 593.0 L923.4 595.8 L923.8 593.8 L924.2 594.0 L924.6 593.3 L925.0 595.9 L925.4 594.3 L925.8 597.4 L926.2 592.7 L926.6 592.4 L927.0 594.4 L927.4 594.3 L927.8 593.2 L928.2 591.2 L928.6 595.5 L929.0 594.6 L929.4 594.6 L929.8 593.6 L930.2 595.2 L930.6 593.9 L931.0 594.7 L931.4 594.4 L931.8 596.1 L932.2 593.9 L932.6 593.8 L933.0 595.3 L933.4 594.1 L933.8 593.5 L934.2 593.1 L934.6 594.3 L935.0 592.2 L935.4 593.3 L935.8 594.9 L936.2 592.7 L936.6 591.2 L937.0 590.7 L937.4 592.4 L937.8 591.0 L938.2 590.9 L938.6 592.3 L939.0 592.2 L939.4 594.8 L939.8 592.1 L940.2 595.6 L940.6 592.7 L941.0 593.4 L941.4 593.8 L941.8 592.9 L942.2 593.3 L942.6 591.1 L943.0 589.5 L943.4 592.1 L943.8 590.6 L944.2 592.2 L944.6 594.3 L945.0 593.1 L945.4 592.7 L945.8 592.1 L946.2 593.1 L946.6 593.3 L947.0 591.6 L947.4 593.9 L947.8 592.2 L948.2 593.8 L948.6 593.1 L949.0 595.0 L949.4 595.0 L949.8 594.2 L950.2 594.3 L950.6 595.1 L951.0 596.3 L951.4 595.9 L951.8 594.6 L952.2 594.5 L952.6 595.8 L953.0 591.7 L953.4 594.1 L953.8 592.2 L954.2 594.9 L954.6 592.8 L955.0 593.5 L955.4 592.8 L955.8 594.6 L956.2 595.9 L956.6 597.2 L957.0 593.7 L957.4 594.6 L957.8 599.6 L958.2 595.7 L958.6 594.1 L959.0 594.2 L959.4 590.0 L959.8 594.7 L960.2 592.6 L960.6 590.5 L961.0 593.6 L961.4 591.4 L961.8 591.0 L962.2 592.9 L962.6 592.6 L963.0 591.5 L963.4 591.7 L963.8 590.0 L964.2 589.6 L964.6 592.2 L965.0 592.3 L965.4 590.9 L965.8 590.5 L966.2 589.1 L966.6 588.7 L967.0 586.7 L967.4 588.6 L967.8 584.0 L968.2 582.8 L968.6 579.2 L969.0 573.8 L969.4 573.6 L969.8 565.9 L970.2 560.1 L970.6 555.3 L971.0 547.9 L971.4 542.9 L971.8 536.1 L972.2 533.1 L972.6 529.0 L973.0 525.8 L973.1 528.7 L973.4 528.4 L973.8 529.8 L974.2 536.3 L974.6 542.4 L975.0 550.8 L975.4 554.3 L975.8 562.8 L976.2 567.4 L976.6 573.1 L977.0 576.1 L977.4 579.5 L977.8 582.7 L978.2 582.6 L978.6 583.0 L979.0 586.7 L979.4 587.2 L979.8 588.7 L980.2 590.1 L980.6 589.7 L981.0 591.9 L981.4 590.7 L981.8 591.2 L982.2 592.2 L982.6 592.1 L983.0 591.5 L983.4 591.9 L983.8 591.1 L984.2 591.4 L984.6 592.5 L985.0 593.6 L985.4 592.4 L985.8 594.2 L986.2 595.7 L986.6 596.2 L987.0 593.9 L987.4 595.4 L987.8 595.1 L988.2 595.6 L988.6 596.1 L989.0 596.1 L989.4 597.0 L989.8 596.7 L990.2 596.6 L990.6 597.5 L991.0 597.9 L991.4 598.7 L991.8 597.5 L992.2 597.6 L992.6 598.1 L993.0 594.9 L993.4 595.4 L993.8 596.2 L994.2 595.5 L994.6 594.2 L995.0 596.7 L995.4 595.7 L995.8 595.0 L996.2 598.8 L996.6 595.4 L997.0 597.2 L997.4 596.7 L997.8 597.7 L998.2 598.3 L998.6 596.5 L999.0 597.1 L999.4 596.8 L999.8 595.3 L1000.2 597.6 L1000.6 596.1 L1001.0 595.5 L1001.4 595.2 L1001.8 595.8 L1002.2 596.7 L1002.6 596.2 L1003.0 598.6 L1003.4 594.3 L1003.8 594.9 L1004.2 597.3 L1004.6 595.5 L1005.0 597.6 L1005.4 596.9 L1005.8 598.4 L1006.2 598.3 L1006.6 599.3 L1007.0 598.8 L1007.4 599.0 L1007.8 597.8 L1008.2 598.1 L1008.6 597.1 L1009.0 595.5 L1009.4 594.5 L1009.8 594.6 L1010.2 596.8 L1010.6 593.8 L1011.0 597.4 L1011.4 596.8 L1011.8 599.2 L1012.2 599.0 L1012.6 598.2 L1013.0 599.2 L1013.4 596.4 L1013.8 599.3 L1014.2 599.4 L1014.6 596.5 L1015.0 599.7 L1015.4 598.5 L1015.8 598.9 L1016.2 597.0 L1016.6 599.5 L1017.0 599.4 L1017.4 598.7 L1017.8 597.6 L1018.2 599.7 L1018.6 600.2 L1019.0 599.1 L1019.4 599.7 L1019.8 597.6 L1020.2 598.2 L1020.6 598.2 L1021.0 597.7 L1021.4 600.9 L1021.8 598.1 L1022.2 597.0 L1022.6 598.9 L1023.0 596.7 L1023.4 598.6 L1023.8 599.2 L1024.2 597.9 L1024.6 598.2 L1025.0 597.6 L1025.4 599.0 L1025.8 598.3 L1026.2 601.5 L1026.6 600.5 L1027.0 599.7 L1027.4 598.4 L1027.8 602.6 L1028.2 601.5 L1028.6 600.2 L1029.0 599.5 L1029.4 599.1 L1029.8 598.0 L1030.2 600.7 L1030.6 598.7 L1031.0 596.8 L1031.4 597.9 L1031.8 595.8 L1032.2 600.0 L1032.6 600.3 L1033.0 601.6 L1033.4 602.0 L1033.8 598.6 L1034.2 600.0 L1034.6 600.5 L1035.0 600.1 L1035.4 598.4 L1035.8 600.0 L1036.2 599.7 L1036.6 600.8 L1037.0 599.3 L1037.4 599.2 L1037.8 599.1 L1038.2 599.6 L1038.6 599.3 L1039.0 600.0 L1039.4 601.2 L1039.8 601.3 L1040.2 602.3 L1040.6 601.9 L1041.0 601.2 L1041.4 598.8 L1041.8 600.7 L1042.2 601.1 L1042.6 597.8 L1043.0 597.6 L1043.4 597.3 L1043.8 596.8 L1044.2 597.4 L1044.6 596.4 L1045.0 597.7 L1045.4 595.6 L1045.8 596.7 L1046.2 596.1 L1046.6 595.3 L1047.0 597.6 L1047.4 596.3 L1047.8 596.9 L1048.2 596.0 L1048.6 597.4 L1049.0 597.6 L1049.4 597.0 L1049.8 595.4 L1050.2 599.0 L1050.6 599.2 L1051.0 598.8 L1051.4 598.9 L1051.8 598.6 L1052.2 598.4 L1052.6 596.6 L1053.0 597.3 L1053.4 597.4 L1053.8 595.9 L1054.2 595.2 L1054.6 598.3 L1055.0 596.6 L1055.4 595.3 L1055.8 594.8 L1056.2 591.9 L1056.6 592.9 L1057.0 593.6 L1057.4 594.7 L1057.8 589.7 L1058.2 590.3 L1058.6 592.4 L1059.0 589.6 L1059.4 587.9 L1059.8 587.2 L1060.2 583.9 L1060.6 581.9 L1061.0 581.0 L1061.4 579.0 L1061.8 574.6 L1062.2 575.7 L1062.6 569.8 L1063.0 569.2 L1063.4 572.1 L1063.8 566.3 L1064.2 566.3 L1064.6 563.0 L1065.0 562.6 L1065.4 561.1 L1065.8 560.7 L1066.2 561.5 L1066.3 562.5 L1066.6 561.5 L1067.0 562.7 L1067.4 561.2 L1067.8 564.8 L1068.2 565.4 L1068.6 568.4 L1069.0 568.4 L1069.4 570.9 L1069.8 575.2 L1070.2 576.5 L1070.6 578.1 L1071.0 579.3 L1071.4 582.0 L1071.8 584.6 L1072.2 586.6 L1072.6 586.6 L1073.0 588.2 L1073.4 590.4 L1073.8 589.6 L1074.2 593.1 L1074.6 593.0 L1075.0 593.8 L1075.4 592.1 L1075.8 594.0 L1076.2 595.5 L1076.6 596.9 L1077.0 596.9 L1077.4 599.1 L1077.8 599.1 L1078.2 598.8 L1078.6 596.8 L1079.0 601.0 L1079.4 599.1 L1079.8 600.2 L1080.2 598.9 L1080.6 599.9 L1081.0 601.0 L1081.4 600.7 L1081.8 601.9 L1082.2 600.7 L1082.6 603.4 L1083.0 598.8 L1083.4 600.4 L1083.8 602.3 L1084.2 600.8 L1084.6 600.5 L1085.0 598.9 L1085.4 602.4 L1085.8 598.7 L1086.2 601.6 L1086.6 601.5 L1087.0 602.7 L1087.4 603.8 L1087.8 601.7 L1088.2 601.9 L1088.6 602.9 L1089.0 601.4 L1089.4 604.5 L1089.8 602.9 L1090.2 603.4 L1090.6 601.5 L1091.0 602.5 L1091.4 601.3 L1091.8 601.5 L1092.2 599.9 L1092.6 602.2 L1093.0 599.9 L1093.4 597.5 L1093.8 601.4 L1094.2 600.4 L1094.6 599.9 L1095.0 604.1 L1095.4 601.3 L1095.8 600.1 L1096.2 601.2 L1096.6 602.5 L1097.0 601.8 L1097.4 603.6 L1097.8 603.2 L1098.2 600.8 L1098.6 601.6 L1099.0 602.1 L1099.4 600.8 L1099.8 600.6 L1100.2 602.2 L1100.6 601.7 L1101.0 599.6 L1101.4 600.8 L1101.8 601.2 L1102.2 601.8 L1102.6 601.3 L1103.0 604.0 L1103.4 601.5 L1103.8 601.5 L1104.2 603.1 L1104.6 600.2 L1105.0 601.6 L1105.4 603.4 L1105.8 600.9 L1106.2 601.3 L1106.6 603.4 L1107.0 602.4 L1107.4 601.8 L1107.8 601.8 L1108.2 600.7 L1108.6 601.8 L1109.0 601.2 L1109.4 604.5 L1109.8 602.3 L1110.2 601.4 L1110.6 601.9 L1111.0 602.1 L1111.4 600.5 L1111.8 601.3 L1112.2 604.1 L1112.6 600.6 L1113.0 601.6 L1113.4 603.6 L1113.8 604.2 L1114.2 601.1 L1114.6 604.0 L1115.0 601.7 L1115.4 604.0 L1115.8 602.5 L1116.2 601.6 L1116.6 602.8 L1117.0 602.7 L1117.4 601.1 L1117.8 604.8 L1118.2 601.9 L1118.6 603.9 L1119.0 602.2 L1119.4 600.7 L1119.8 601.5 L1120.2 602.6 L1120.6 603.4 L1121.0 604.5 L1121.4 602.3 L1121.8 601.7 L1122.2 600.4 L1122.6 601.6 L1123.0 601.8 L1123.4 598.6 L1123.8 602.6 L1124.2 602.2 L1124.6 603.5 L1125.0 599.5 L1125.4 600.6 L1125.8 600.5 L1126.2 598.9 L1126.6 599.4 L1127.0 599.1 L1127.4 600.8 L1127.8 600.6 L1128.2 601.7 L1128.6 599.5 L1129.0 598.3 L1129.4 600.5 L1129.8 600.4 L1130.2 600.8 L1130.6 601.6 L1131.0 599.4 L1131.4 601.0 L1131.8 598.6 L1132.2 599.7 L1132.6 600.1 L1133.0 598.7 L1133.4 598.7 L1133.8 596.4 L1134.2 597.0 L1134.6 597.7 L1135.0 595.9 L1135.4 596.3 L1135.8 600.2 L1136.2 597.7 L1136.6 596.4 L1137.0 596.1 L1137.4 598.8 L1137.8 593.4 L1138.2 595.6 L1138.6 595.9 L1139.0 593.3 L1139.4 593.3 L1139.8 590.0 L1140.2 589.8 L1140.6 588.4 L1141.0 586.8 L1141.4 585.3 L1141.8 583.4 L1142.2 582.5 L1142.6 578.5 L1143.0 575.4 L1143.4 572.8 L1143.8 569.7 L1144.2 565.3 L1144.6 562.1 L1145.0 560.4 L1145.4 560.6 L1145.8 558.4 L1146.2 558.5 L1146.2 562.6 L1146.6 561.0 L1147.0 560.6 L1147.4 561.9 L1147.8 566.6 L1148.2 566.7 L1148.6 572.0 L1149.0 574.2 L1149.4 578.2 L1149.8 578.7 L1150.2 583.6 L1150.6 583.1 L1151.0 587.6 L1151.4 591.4 L1151.8 592.9 L1152.2 591.7 L1152.6 596.3 L1153.0 597.3 L1153.4 597.6 L1153.8 597.5 L1154.2 598.4 L1154.6 598.3 L1155.0 600.2 L1155.4 599.6 L1155.8 600.2 L1156.2 599.7 L1156.6 597.2 L1157.0 598.9 L1157.4 601.3 L1157.8 597.4 L1158.2 599.1 L1158.6 597.7 L1159.0 597.4 L1159.4 598.6 L1159.8 599.2 L1160.2 598.7 L1160.6 598.1 L1161.0 598.5 L1161.4 595.1 L1161.8 597.8 L1162.2 597.0 L1162.6 595.8 L1163.0 595.4 L1163.4 593.5 L1163.8 594.7 L1164.2 590.8 L1164.6 588.0 L1165.0 587.6 L1165.4 584.5 L1165.8 582.5 L1166.2 581.7 L1166.6 577.0 L1167.0 574.8 L1167.4 575.0 L1167.8 568.7 L1168.2 569.5 L1168.6 569.7 L1169.0 570.1 L1169.0 571.2 L1169.4 568.4 L1169.8 571.2 L1170.2 572.1 L1170.6 573.7 L1171.0 575.6 L1171.4 577.0 L1171.8 581.5 L1172.2 584.1 L1172.6 584.0 L1173.0 588.2 L1173.4 588.6 L1173.8 589.9 L1174.2 589.7 L1174.6 595.8 L1175.0 596.8 L1175.4 596.9 L1175.8 598.0 L1176.2 598.0 L1176.6 601.0 L1177.0 600.9 L1177.4 602.0 L1177.8 601.9 L1178.2 600.0 L1178.6 599.9 L1179.0 602.3 L1179.4 599.7 L1179.8 602.1 L1180.2 602.9 L1180.6 600.3 L1181.0 602.8 L1181.4 602.1 L1181.8 602.7 L1182.2 601.3 L1182.6 601.9 L1183.0 602.3 L1183.4 603.9 L1183.8 602.5 L1184.2 602.2 L1184.6 600.0 L1185.0 602.0 L1185.4 600.9 L1185.8 601.8 L1186.2 602.4 L1186.6 603.6 L1187.0 603.4 L1187.4 603.2 L1187.8 603.2 L1188.2 605.2 L1188.6 602.7 L1189.0 603.9 L1189.4 605.4 L1189.8 603.4 L1190.2 604.4 L1190.6 604.2 L1191.0 605.2 L1191.4 604.0 L1191.8 600.5 L1192.2 602.4 L1192.6 602.8 L1193.0 603.5 L1193.4 603.1 L1193.8 605.0 L1194.2 604.2 L1194.6 601.6 L1195.0 602.3 L1195.4 600.6 L1195.8 605.1 L1196.2 602.8 L1196.6 602.6 L1197.0 600.7 L1197.4 602.0 L1197.8 603.0 L1198.2 601.9 L1198.6 601.9 L1199.0 601.5 L1199.4 604.6 L1199.8 601.6 L1200.2 600.5 L1200.6 601.8 L1201.0 602.1 L1201.4 602.5 L1201.8 602.5 L1202.2 601.6 L1202.6 602.9 L1203.0 603.9 L1203.4 601.8 L1203.8 605.9 L1204.2 605.4 L1204.6 600.9 L1205.0 602.4 L1205.4 603.7 L1205.8 603.7 L1206.2 603.8 L1206.6 599.0 L1207.0 599.6 L1207.4 600.1 L1207.8 601.3 L1208.2 599.2 L1208.6 601.2 L1209.0 601.4 L1209.4 602.0 L1209.8 599.9 L1210.2 602.1 L1210.6 602.2 L1211.0 601.9 L1211.4 604.1 L1211.8 602.2 L1212.2 604.3 L1212.6 601.7 L1213.0 604.4 L1213.4 604.2 L1213.8 601.1 L1214.2 602.4 L1214.6 602.3 L1215.0 600.7 L1215.4 602.8 L1215.8 602.6 L1216.2 600.8 L1216.6 602.0 L1217.0 603.1 L1217.4 602.0 L1217.8 601.5 L1218.2 604.5 L1218.6 601.5 L1219.0 603.2 L1219.4 604.1 L1219.8 603.6 L1220.2 600.3 L1220.6 602.0 L1221.0 602.2 L1221.4 602.1 L1221.8 603.1 L1222.2 603.1 L1222.6 602.8 L1223.0 603.1 L1223.4 604.2 L1223.8 604.7 L1224.2 601.0 L1224.6 606.1 L1225.0 602.9 L1225.4 604.6 L1225.8 601.8 L1226.2 603.3 L1226.6 602.5 L1227.0 605.4 L1227.4 605.2 L1227.8 604.1 L1228.2 604.0 L1228.6 604.7 L1229.0 603.2 L1229.4 603.7 L1229.8 603.6 L1230.2 605.7 L1230.6 604.9 L1231.0 603.5 L1231.4 605.7 L1231.8 606.1 L1232.2 607.4 L1232.6 605.3 L1233.0 606.6 L1233.4 608.8 L1233.8 605.9 L1234.2 605.8 L1234.6 606.7 L1235.0 605.3 L1235.4 605.8 L1235.8 605.1 L1236.2 604.7 L1236.6 606.7 L1237.0 605.3 L1237.4 604.5 L1237.8 605.5 L1238.2 605.7 L1238.6 606.2 L1239.0 607.0 L1239.4 608.1 L1239.8 604.5 L1240.2 605.8 L1240.6 604.1 L1241.0 606.9 L1241.4 607.6 L1241.8 606.5 L1242.2 606.5 L1242.6 606.6 L1243.0 606.2 L1243.4 608.9 L1243.8 610.7 L1244.2 607.1 L1244.6 610.7 L1245.0 608.7 L1245.4 607.3 L1245.8 609.7 L1246.2 609.9 L1246.6 609.4 L1247.0 608.3 L1247.4 610.3 L1247.8 607.6 L1248.2 608.5 L1248.6 608.3 L1249.0 606.2 L1249.4 604.9 L1249.8 605.0 L1250.2 606.5 L1250.6 607.3 L1251.0 604.7 L1251.4 605.9 L1251.8 608.7 L1252.2 604.7 L1252.6 607.6 L1253.0 607.7 L1253.4 608.5 L1253.8 606.1 L1254.2 608.6 L1254.6 606.7 L1255.0 610.1 L1255.4 607.4 L1255.8 608.9 L1256.2 607.4 L1256.6 608.5 L1257.0 606.4 L1257.4 608.6 L1257.8 608.9 L1258.2 608.2 L1258.6 610.1 L1259.0 608.6 L1259.4 609.0 L1259.8 608.5 L1260.2 609.9 L1260.6 606.6 L1261.0 606.9 L1261.4 606.8 L1261.8 607.8 L1262.2 607.4 L1262.6 608.1 L1263.0 607.5 L1263.4 606.5 L1263.8 607.0 L1264.2 607.6 L1264.6 604.1 L1265.0 608.4 L1265.4 606.0 L1265.8 606.2 L1266.2 607.0 L1266.6 606.6 L1267.0 605.4 L1267.4 607.2 L1267.8 609.6 L1268.2 609.5 L1268.6 609.9 L1269.0 607.8 L1269.4 608.2 L1269.8 609.6 L1270.2 610.0 L1270.6 608.1 L1271.0 606.9 L1271.4 605.9 L1271.8 610.3 L1272.2 607.1 L1272.6 609.8 L1273.0 610.7 L1273.4 613.8 L1273.8 610.1 L1274.2 609.7 L1274.6 610.3 L1275.0 610.1 L1275.4 611.0 L1275.8 610.0 L1276.2 608.1 L1276.6 606.4 L1277.0 609.3 L1277.4 608.0 L1277.8 610.5 L1278.2 607.0 L1278.6 608.8 L1279.0 607.5 L1279.4 607.3 L1279.8 610.4 L1280.2 608.6 L1280.6 608.1 L1281.0 609.3 L1281.4 607.5 L1281.8 608.1 L1282.2 607.9 L1282.6 611.2 L1283.0 609.3 L1283.4 609.7 L1283.8 610.3 L1284.2 608.7 L1284.6 608.8 L1285.0 606.8 L1285.4 609.1 L1285.8 608.5 L1286.2 607.2 L1286.6 608.6 L1287.0 604.3 L1287.4 606.4 L1287.8 603.6 L1288.2 603.2 L1288.6 603.8 L1289.0 605.2 L1289.4 601.5 L1289.8 601.3 L1290.2 600.5 L1290.6 604.1 L1291.0 601.8 L1291.4 601.2 L1291.8 603.0 L1292.2 600.5 L1292.6 597.5 L1292.7 599.6 L1293.0 599.0 L1293.4 603.5 L1293.8 599.8 L1294.2 602.7 L1294.6 602.3 L1295.0 603.1 L1295.4 604.3 L1295.8 604.6 L1296.2 604.4 L1296.6 604.0 L1297.0 605.1 L1297.4 604.9 L1297.8 605.3 L1298.2 606.8 L1298.6 606.7 L1299.0 607.7 L1299.4 607.1 L1299.8 610.1 L1300.2 607.0 L1300.6 607.0 L1301.0 609.8 L1301.4 607.9 L1301.8 609.2 L1302.2 610.5 L1302.6 609.4 L1303.0 609.2 L1303.4 611.0 L1303.8 610.3 L1304.2 609.2 L1304.6 608.4 L1305.0 609.5 L1305.4 607.9 L1305.8 608.9 L1306.2 608.7 L1306.6 610.4 L1307.0 611.1 L1307.4 609.5 L1307.8 610.0 L1308.2 609.3 L1308.6 609.1 L1309.0 610.4 L1309.4 611.8 L1309.8 611.7 L1310.2 611.8 L1310.6 610.6 L1311.0 607.5 L1311.4 611.9 L1311.8 612.1 L1312.2 611.4 L1312.6 611.3 L1313.0 611.4 L1313.4 613.4 L1313.8 610.5 L1314.2 612.1 L1314.6 611.2 L1315.0 611.2 L1315.4 610.3 L1315.8 610.2 L1316.2 609.2 L1316.6 611.3 L1317.0 610.1 L1317.4 608.8 L1317.8 609.3 L1318.2 608.7 L1318.6 612.2 L1319.0 609.9 L1319.4 610.5 L1319.8 609.1 L1320.2 609.5 L1320.6 612.2 L1321.0 610.7 L1321.4 611.3 L1321.8 613.1 L1322.2 613.2 L1322.6 611.0 L1323.0 610.4 L1323.4 609.6 L1323.8 608.7 L1324.2 611.4 L1324.6 607.3 L1325.0 608.9 L1325.4 606.9 L1325.8 608.1 L1326.2 610.7 L1326.6 611.2 L1327.0 611.5 L1327.4 611.0 L1327.8 610.7 L1328.2 610.9 L1328.6 610.9 L1329.0 612.4 L1329.4 612.5 L1329.8 610.8 L1330.2 609.3 L1330.6 608.6 L1331.0 610.0 L1331.4 609.3 L1331.8 607.4 L1332.2 611.6 L1332.6 610.0 L1333.0 609.8 L1333.4 609.3 L1333.8 609.4 L1334.2 611.7 L1334.6 609.5 L1335.0 610.8 L1335.4 611.3 L1335.8 612.6 L1336.2 610.8 L1336.6 609.6 L1337.0 608.7 L1337.4 609.9 L1337.8 609.6 L1338.2 607.5 L1338.6 608.5 L1339.0 607.6 L1339.4 606.0 L1339.8 607.3 L1340.2 610.2 L1340.6 611.8 L1341.0 611.5 L1341.4 610.9 L1341.8 610.7 L1342.2 612.5 L1342.6 612.2 L1343.0 609.6 L1343.4 612.1 L1343.8 610.1 L1344.2 611.4 L1344.6 610.9 L1345.0 610.8 L1345.4 611.0 L1345.8 610.4 L1346.2 608.2 L1346.6 608.2 L1347.0 610.8 L1347.4 610.2 L1347.8 607.9 L1348.2 607.5 L1348.6 611.3 L1349.0 613.1 L1349.4 611.5 L1349.8 610.2 L1350.2 610.8 L1350.6 606.9 L1351.0 608.7 L1351.4 610.9 L1351.8 610.5 L1352.2 606.5 L1352.6 610.5 L1353.0 609.6 L1353.4 610.2 L1353.8 608.9" stroke="#0000ff" stroke-width="9.5"/>
<path d="M175.0 1143.5 L175.5 1144.3 L176.0 1144.5 L176.5 1144.3 L177.0 1144.7 L177.5 1144.9 L178.0 1145.6 L178.5 1145.5 L179.0 1145.9 L179.5 1145.1 L180.0 1146.4 L180.5 1145.9 L181.0 1146.4 L181.5 1146.3 L182.0 1146.5 L182.5 1147.0 L183.0 1147.2 L183.5 1147.0 L184.0 1147.1 L184.5 1147.6 L185.0 1147.2 L185.5 1147.2 L186.0 1148.2 L186.5 1148.2 L187.0 1148.2 L187.5 1148.9 L188.0 1149.4 L188.5 1149.4 L189.0 1149.6 L189.5 1150.3 L190.0 1150.9 L190.5 1150.7 L191.0 1150.6 L191.5 1151.2 L192.0 1151.4 L192.5 1151.2 L193.0 1151.6 L193.5 1151.8 L194.0 1151.5 L194.5 1151.5 L195.0 1152.1 L195.5 1152.2 L196.0 1152.7 L196.5 1152.0 L197.0 1152.3 L197.5 1152.3 L198.0 1152.1 L198.5 1152.9 L199.0 1153.2 L199.5 1152.9 L200.0 1153.8 L200.5 1153.8 L201.0 1154.0 L201.5 1154.2 L202.0 1154.6 L202.5 1154.0 L203.0 1154.8 L203.5 1155.0 L204.0 1154.2 L204.5 1155.0 L205.0 1154.9 L205.5 1155.4 L206.0 1155.1 L206.5 1155.5 L207.0 1155.8 L207.5 1155.5 L208.0 1156.2 L208.5 1156.1 L209.0 1156.5 L209.5 1156.3 L210.0 1156.9 L210.5 1156.8 L211.0 1156.6 L211.5 1157.0 L212.0 1157.3 L212.5 1157.7 L213.0 1156.7 L213.5 1157.8 L214.0 1157.9 L214.5 1157.8 L215.0 1157.6 L215.5 1158.4 L216.0 1157.6 L216.5 1158.4 L217.0 1158.8 L217.5 1158.0 L218.0 1158.7 L218.5 1158.5 L219.0 1159.1 L219.5 1159.6 L220.0 1159.8 L220.5 1158.5 L221.0 1159.0 L221.5 1159.5 L222.0 1160.0 L222.5 1159.7 L223.0 1159.4 L223.5 1159.9 L224.0 1159.8 L224.5 1159.9 L225.0 1159.8 L225.5 1160.3 L226.0 1160.5 L226.5 1160.5 L227.0 1160.5 L227.5 1160.2 L228.0 1160.5 L228.5 1161.1 L229.0 1160.6 L229.5 1160.1 L230.0 1161.0 L230.5 1160.8 L231.0 1161.4 L231.5 1160.9 L232.0 1160.9 L232.5 1160.7 L233.0 1161.8 L233.5 1162.2 L234.0 1161.0 L234.5 1161.0 L235.0 1161.4 L235.5 1160.8 L236.0 1161.0 L236.5 1160.9 L237.0 1161.1 L237.5 1161.5 L238.0 1161.1 L238.5 1161.5 L239.0 1161.1 L239.5 1161.4 L240.0 1160.7 L240.5 1161.0 L241.0 1161.9 L241.5 1161.5 L242.0 1162.0 L242.5 1162.1 L243.0 1162.6 L243.5 1162.5 L244.0 1162.7 L244.5 1162.4 L245.0 1162.2 L245.5 1162.2 L246.0 1162.3 L246.5 1162.1 L247.0 1162.4 L247.5 1162.6 L248.0 1162.8 L248.5 1162.6 L249.0 1162.0 L249.5 1162.6 L250.0 1162.7 L250.5 1163.0 L251.0 1162.9 L251.5 1162.6 L252.0 1162.8 L252.5 1163.9 L253.0 1163.7 L253.5 1164.1 L254.0 1164.3 L254.5 1163.3 L255.0 1163.7 L255.5 1163.7 L256.0 1163.7 L256.5 1163.7 L257.0 1163.6 L257.5 1163.5 L258.0 1162.9 L258.5 1163.4 L259.0 1163.3 L259.5 1163.6 L260.0 1163.4 L260.5 1163.8 L261.0 1163.8 L261.5 1163.6 L262.0 1163.7 L262.5 1163.6 L263.0 1163.5 L263.5 1163.6 L264.0 1163.5 L264.5 1163.8 L265.0 1163.6 L265.5 1163.7 L266.0 1163.0 L266.5 1163.8 L267.0 1163.3 L267.5 1163.4 L268.0 1163.7 L268.5 1163.6 L269.0 1163.9 L269.5 1163.5 L270.0 1163.3 L270.5 1163.4 L271.0 1164.1 L271.5 1163.7 L272.0 1163.2 L272.5 1163.6 L273.0 1162.9 L273.5 1164.0 L274.0 1162.8 L274.5 1163.5 L275.0 1163.5 L275.5 1162.9 L276.0 1163.7 L276.5 1164.1 L277.0 1164.1 L277.5 1164.1 L278.0 1164.4 L278.5 1164.2 L279.0 1164.2 L279.5 1164.1 L280.0 1164.3 L280.5 1163.7 L281.0 1164.3 L281.5 1163.8 L282.0 1163.6 L282.5 1164.0 L283.0 1164.4 L283.5 1164.1 L284.0 1163.6 L284.5 1163.9 L285.0 1163.4 L285.5 1163.4 L286.0 1163.4 L286.5 1162.4 L287.0 1163.3 L287.5 1162.8 L288.0 1162.9 L288.5 1162.7 L289.0 1162.8 L289.5 1163.0 L290.0 1163.7 L290.5 1164.1 L291.0 1163.5 L291.5 1163.8 L292.0 1163.3 L292.5 1162.6 L293.0 1163.2 L293.5 1163.1 L294.0 1162.7 L294.5 1162.8 L295.0 1162.8 L295.5 1162.2 L296.0 1162.0 L296.5 1162.5 L297.0 1162.5 L297.5 1162.4 L298.0 1162.8 L298.5 1162.9 L299.0 1161.9 L299.5 1162.1 L300.0 1162.1 L300.5 1162.0 L301.0 1162.2 L301.5 1161.9 L302.0 1162.4 L302.5 1162.9 L303.0 1162.4 L303.5 1161.9 L304.0 1162.2 L304.5 1162.3 L305.0 1161.8 L305.5 1161.4 L306.0 1162.1 L306.5 1161.1 L307.0 1161.7 L307.5 1161.6 L308.0 1161.2 L308.5 1162.0 L309.0 1161.7 L309.5 1161.1 L310.0 1161.7 L310.5 1161.2 L311.0 1160.6 L311.5 1160.9 L312.0 1161.2 L312.5 1161.2 L313.0 1160.9 L313.5 1160.8 L314.0 1160.9 L314.5 1160.7 L315.0 1161.3 L315.5 1161.0 L316.0 1161.2 L316.5 1161.5 L317.0 1161.0 L317.5 1161.1 L318.0 1161.8 L318.5 1161.2 L319.0 1160.8 L319.5 1160.7 L320.0 1160.2 L320.5 1160.2 L321.0 1159.8 L321.5 1160.2 L322.0 1159.5 L322.5 1160.6 L323.0 1160.1 L323.5 1159.7 L324.0 1160.1 L324.5 1160.0 L325.0 1160.0 L325.5 1159.3 L326.0 1159.6 L326.5 1160.6 L327.0 1158.8 L327.5 1159.3 L328.0 1159.1 L328.5 1159.4 L329.0 1158.9 L329.5 1159.2 L330.0 1159.8 L330.5 1159.6 L331.0 1160.2 L331.5 1159.3 L332.0 1159.6 L332.5 1160.5 L333.0 1159.1 L333.5 1159.0 L334.0 1159.3 L334.5 1159.2 L335.0 1159.5 L335.5 1159.2 L336.0 1158.9 L336.5 1159.2 L337.0 1160.0 L337.5 1159.4 L338.0 1157.8 L338.5 1158.7 L339.0 1158.3 L339.5 1158.8 L340.0 1158.5 L340.5 1159.2 L341.0 1158.8 L341.5 1158.8 L342.0 1158.6 L342.5 1158.5 L343.0 1158.6 L343.5 1158.9 L344.0 1158.5 L344.5 1158.1 L345.0 1158.4 L345.5 1157.8 L346.0 1157.5 L346.5 1157.1 L347.0 1157.1 L347.5 1157.1 L348.0 1156.4 L348.5 1157.7 L349.0 1157.5 L349.5 1157.2 L350.0 1157.5 L350.5 1157.1 L351.0 1157.1 L351.5 1156.1 L352.0 1157.0 L352.5 1157.3 L353.0 1157.8 L353.5 1157.9 L354.0 1157.7 L354.5 1156.7 L355.0 1156.2 L355.5 1157.1 L356.0 1156.8 L356.5 1157.1 L357.0 1156.8 L357.5 1156.9 L358.0 1156.3 L358.5 1156.9 L359.0 1156.4 L359.5 1156.6 L360.0 1156.4 L360.5 1156.0 L361.0 1155.9 L361.5 1155.6 L362.0 1155.7 L362.5 1155.6 L363.0 1155.2 L363.5 1155.2 L364.0 1156.1 L364.5 1155.5 L365.0 1156.0 L365.5 1155.9 L366.0 1155.7 L366.5 1155.6 L367.0 1155.9 L367.5 1155.9 L368.0 1156.0 L368.5 1155.2 L369.0 1155.3 L369.5 1155.3 L370.0 1155.7 L370.5 1154.2 L371.0 1155.1 L371.5 1154.7 L372.0 1155.0 L372.5 1154.7 L373.0 1155.1 L373.5 1155.5 L374.0 1155.1 L374.5 1155.1 L375.0 1155.0 L375.5 1154.5 L376.0 1154.9 L376.5 1154.5 L377.0 1154.3 L377.5 1154.6 L378.0 1154.5 L378.5 1154.8 L379.0 1154.5 L379.5 1154.3 L380.0 1155.0 L380.5 1154.8 L381.0 1154.9 L381.5 1154.7 L382.0 1154.5 L382.5 1154.5 L383.0 1154.5 L383.5 1155.0 L384.0 1154.6 L384.5 1154.0 L385.0 1154.3 L385.5 1153.7 L386.0 1154.1 L386.5 1153.6 L387.0 1153.5 L387.5 1154.1 L388.0 1154.1 L388.5 1153.7 L389.0 1154.6 L389.5 1155.1 L390.0 1153.8 L390.5 1155.0 L391.0 1154.0 L391.5 1154.1 L392.0 1154.1 L392.5 1153.6 L393.0 1154.5 L393.5 1154.2 L394.0 1153.7 L394.5 1153.8 L395.0 1153.3 L395.5 1153.7 L396.0 1154.2 L396.5 1153.3 L397.0 1153.8 L397.5 1154.1 L398.0 1154.5 L398.5 1154.7 L399.0 1154.1 L399.5 1154.1 L400.0 1154.6 L400.5 1154.4 L401.0 1154.6 L401.5 1155.2 L402.0 1155.5 L402.5 1155.1 L403.0 1154.9 L403.5 1155.0 L404.0 1153.9 L404.5 1154.3 L405.0 1153.8 L405.5 1154.8 L406.0 1154.2 L406.5 1154.0 L407.0 1153.9 L407.5 1153.1 L408.0 1154.2 L408.5 1154.5 L409.0 1153.6 L409.5 1154.1 L410.0 1154.2 L410.5 1153.5 L411.0 1154.4 L411.5 1154.7 L412.0 1154.4 L412.5 1154.3 L413.0 1154.7 L413.5 1153.9 L414.0 1154.5 L414.5 1154.9 L415.0 1154.0 L415.5 1154.8 L416.0 1154.2 L416.5 1153.5 L417.0 1154.1 L417.5 1153.8 L418.0 1154.2 L418.5 1153.7 L419.0 1154.6 L419.5 1154.1 L420.0 1154.7 L420.5 1154.5 L421.0 1154.7 L421.5 1155.3 L422.0 1155.0 L422.5 1154.7 L423.0 1154.4 L423.5 1155.2 L424.0 1155.1 L424.5 1154.8 L425.0 1155.1 L425.5 1154.7 L426.0 1154.8 L426.5 1155.0 L427.0 1155.5 L427.5 1155.6 L428.0 1155.4 L428.5 1156.0 L429.0 1156.1 L429.5 1156.0 L430.0 1156.3 L430.5 1155.9 L431.0 1156.0 L431.5 1156.3 L432.0 1156.2 L432.5 1156.6 L433.0 1156.1 L433.5 1157.2 L434.0 1156.7 L434.5 1157.1 L435.0 1156.8 L435.5 1157.6 L436.0 1157.9 L436.5 1157.9 L437.0 1157.8 L437.5 1156.8 L438.0 1157.0 L438.5 1157.0 L439.0 1156.7 L439.5 1157.3 L440.0 1157.0 L440.5 1156.9 L441.0 1157.2 L441.5 1156.8 L442.0 1157.1 L442.5 1157.3 L443.0 1158.1 L443.5 1158.3 L444.0 1158.6 L444.5 1158.9 L445.0 1158.2 L445.5 1158.5 L446.0 1158.9 L446.5 1158.4 L447.0 1158.8 L447.5 1159.5 L448.0 1159.6 L448.5 1159.7 L449.0 1159.4 L449.5 1159.4 L450.0 1159.9 L450.5 1159.5 L451.0 1159.8 L451.5 1160.2 L452.0 1159.6 L452.5 1159.6 L453.0 1160.0 L453.5 1160.3 L454.0 1160.5 L454.5 1160.5 L455.0 1160.7 L455.5 1160.0 L456.0 1160.3 L456.5 1160.7 L457.0 1160.4 L457.5 1160.4 L458.0 1160.6 L458.5 1160.9 L459.0 1161.4 L459.5 1161.3 L460.0 1161.8 L460.5 1162.4 L461.0 1161.9 L461.5 1162.4 L462.0 1162.1 L462.5 1161.7 L463.0 1162.0 L463.5 1161.8 L464.0 1162.6 L464.5 1162.1 L465.0 1163.2 L465.5 1163.1 L466.0 1162.4 L466.5 1163.4 L467.0 1163.7 L467.5 1162.9 L468.0 1163.4 L468.5 1162.5 L469.0 1163.2 L469.5 1162.6 L470.0 1163.4 L470.5 1162.7 L471.0 1162.6 L471.5 1163.8 L472.0 1164.6 L472.5 1163.8 L473.0 1164.4 L473.5 1164.3 L474.0 1164.2 L474.5 1164.5 L475.0 1164.8 L475.5 1163.8 L476.0 1164.4 L476.5 1164.5 L477.0 1164.0 L477.5 1165.2 L478.0 1165.5 L478.5 1164.7 L479.0 1165.9 L479.5 1165.6 L480.0 1165.8 L480.5 1166.6 L481.0 1166.3 L481.5 1166.5 L482.0 1167.0 L482.5 1167.0 L483.0 1166.9 L483.5 1166.1 L484.0 1166.1 L484.5 1167.2 L485.0 1166.6 L485.5 1167.0 L486.0 1166.7 L486.5 1167.0 L487.0 1166.7 L487.5 1167.7 L488.0 1166.8 L488.5 1167.2 L489.0 1167.2 L489.5 1167.8 L490.0 1167.0 L490.5 1167.6 L491.0 1167.6 L491.5 1168.0 L492.0 1168.1 L492.5 1167.9 L493.0 1168.3 L493.5 1168.3 L494.0 1168.7 L494.5 1168.7 L495.0 1168.6 L495.5 1168.9 L496.0 1169.1 L496.5 1169.8 L497.0 1168.8 L497.5 1169.0 L498.0 1169.3 L498.5 1167.9 L499.0 1167.9 L499.5 1168.0 L500.0 1168.4 L500.5 1169.4 L501.0 1168.9 L501.5 1169.3 L502.0 1169.0 L502.5 1168.3 L503.0 1168.5 L503.5 1169.7 L504.0 1169.5 L504.5 1169.1 L505.0 1170.1 L505.5 1169.3 L506.0 1170.4 L506.5 1170.6 L507.0 1170.0 L507.5 1170.0 L508.0 1170.8 L508.5 1170.2 L509.0 1171.0 L509.5 1170.3 L510.0 1171.1 L510.5 1170.9 L511.0 1170.8 L511.5 1170.8 L512.0 1171.2 L512.5 1170.5 L513.0 1171.2 L513.5 1171.1 L514.0 1171.6 L514.5 1170.9 L515.0 1172.0 L515.5 1171.3 L516.0 1171.1 L516.5 1172.0 L517.0 1172.3 L517.5 1171.7 L518.0 1171.6 L518.5 1172.0 L519.0 1171.8 L519.5 1172.0 L520.0 1172.6 L520.5 1172.2 L521.0 1172.0 L521.5 1172.1 L522.0 1171.9 L522.5 1172.3 L523.0 1172.3 L523.5 1171.9 L524.0 1172.2 L524.5 1173.2 L525.0 1172.6 L525.5 1172.5 L526.0 1173.3 L526.5 1172.7 L527.0 1172.3 L527.5 1172.9 L528.0 1172.4 L528.5 1172.5 L529.0 1172.8 L529.5 1172.7 L530.0 1172.7 L530.5 1172.9 L531.0 1173.0 L531.5 1173.7 L532.0 1173.1 L532.5 1173.1 L533.0 1173.9 L533.5 1172.9 L534.0 1173.6 L534.5 1173.6 L535.0 1173.2 L535.5 1172.9 L536.0 1173.7 L536.5 1173.8 L537.0 1173.9 L537.5 1173.6 L538.0 1173.9 L538.5 1174.0 L539.0 1173.2 L539.5 1174.3 L540.0 1174.0 L540.5 1174.0 L541.0 1174.4 L541.5 1175.3 L542.0 1175.2 L542.5 1174.4 L543.0 1175.2 L543.5 1175.3 L544.0 1175.4 L544.5 1175.3 L545.0 1174.9 L545.5 1175.6 L546.0 1174.9 L546.5 1175.1 L547.0 1175.0 L547.5 1174.9 L548.0 1175.5 L548.5 1175.4 L549.0 1175.1 L549.5 1175.1 L550.0 1175.4 L550.5 1176.0 L551.0 1175.8 L551.5 1176.0 L552.0 1176.0 L552.5 1176.2 L553.0 1176.5 L553.5 1175.9 L554.0 1177.3 L554.5 1176.5 L555.0 1176.7 L555.5 1177.3 L556.0 1176.9 L556.5 1176.7 L557.0 1176.4 L557.5 1175.9 L558.0 1176.4 L558.5 1176.8 L559.0 1176.1 L559.5 1176.9 L560.0 1176.1 L560.5 1176.3 L561.0 1176.8 L561.5 1176.6 L562.0 1176.8 L562.5 1176.3 L563.0 1176.3 L563.5 1176.2 L564.0 1176.7 L564.5 1177.1 L565.0 1177.2 L565.5 1178.0 L566.0 1177.7 L566.5 1177.3 L567.0 1178.7 L567.5 1177.4 L568.0 1177.2 L568.5 1177.9 L569.0 1177.8 L569.5 1177.0 L570.0 1176.9 L570.5 1177.1 L571.0 1177.9 L571.5 1177.4 L572.0 1177.3 L572.5 1177.6 L573.0 1178.0 L573.5 1177.1 L574.0 1177.5 L574.5 1177.1 L575.0 1178.3 L575.5 1178.2 L576.0 1177.9 L576.5 1177.5 L577.0 1177.7 L577.5 1176.7 L578.0 1177.5 L578.5 1176.9 L579.0 1176.9 L579.5 1176.9 L580.0 1176.9 L580.5 1177.0 L581.0 1176.8 L581.5 1176.3 L582.0 1175.7 L582.5 1176.1 L583.0 1175.7 L583.5 1176.0 L584.0 1175.1 L584.5 1174.3 L585.0 1174.9 L585.5 1175.4 L586.0 1174.4 L586.5 1173.7 L587.0 1173.4 L587.5 1172.2 L588.0 1170.7 L588.5 1167.9 L589.0 1164.3 L589.5 1158.6 L590.0 1149.8 L590.5 1137.7 L591.0 1122.0 L591.5 1101.3 L592.0 1075.5 L592.5 1045.7 L593.0 1013.3 L593.5 981.4 L594.0 950.7 L594.5 927.6 L595.0 914.4 L595.3 911.5 L595.5 912.6 L596.0 924.2 L596.5 946.2 L597.0 974.7 L597.5 1007.1 L598.0 1039.7 L598.5 1069.7 L599.0 1097.0 L599.5 1118.4 L600.0 1134.9 L600.5 1148.1 L601.0 1156.6 L601.5 1163.1 L602.0 1167.6 L602.5 1170.0 L603.0 1172.4 L603.5 1172.7 L604.0 1174.1 L604.5 1174.9 L605.0 1175.7 L605.5 1176.0 L606.0 1176.2 L606.5 1176.6 L607.0 1176.9 L607.5 1177.5 L608.0 1177.1 L608.5 1177.8 L609.0 1177.8 L609.5 1178.1 L610.0 1178.1 L610.5 1179.1 L611.0 1178.2 L611.5 1178.6 L612.0 1178.7 L612.5 1178.8 L613.0 1178.9 L613.5 1179.0 L614.0 1179.4 L614.5 1178.7 L615.0 1179.2 L615.5 1178.8 L616.0 1179.2 L616.5 1178.5 L617.0 1178.4 L617.5 1178.6 L618.0 1179.1 L618.5 1178.8 L619.0 1178.8 L619.5 1179.3 L620.0 1178.6 L620.5 1178.3 L621.0 1179.0 L621.5 1179.1 L622.0 1179.7 L622.5 1179.9 L623.0 1178.6 L623.5 1179.6 L624.0 1179.1 L624.5 1178.5 L625.0 1178.1 L625.5 1178.6 L626.0 1177.6 L626.5 1177.2 L627.0 1177.1 L627.5 1176.3 L628.0 1176.6 L628.5 1175.9 L629.0 1175.4 L629.5 1174.5 L630.0 1172.6 L630.5 1171.4 L631.0 1167.7 L631.5 1164.5 L632.0 1158.4 L632.5 1152.6 L633.0 1144.1 L633.5 1135.1 L634.0 1124.5 L634.5 1113.4 L635.0 1103.6 L635.5 1095.3 L636.0 1089.2 L636.5 1085.7 L636.6 1085.2 L637.0 1086.7 L637.5 1091.5 L638.0 1098.9 L638.5 1108.4 L639.0 1119.4 L639.5 1130.0 L640.0 1139.8 L640.5 1148.0 L641.0 1155.8 L641.5 1161.6 L642.0 1165.7 L642.5 1169.9 L643.0 1171.9 L643.5 1173.3 L644.0 1175.0 L644.5 1175.3 L645.0 1175.7 L645.5 1176.0 L646.0 1175.9 L646.5 1175.3 L647.0 1175.6 L647.5 1175.9 L648.0 1175.2 L648.5 1175.3 L649.0 1175.2 L649.5 1175.4 L650.0 1175.1 L650.5 1174.6 L651.0 1173.8 L651.5 1173.7 L652.0 1172.8 L652.5 1171.5 L653.0 1170.6 L653.5 1168.2 L654.0 1165.0 L654.5 1161.5 L655.0 1155.1 L655.5 1146.8 L656.0 1134.0 L656.5 1118.2 L657.0 1096.1 L657.5 1068.5 L658.0 1034.3 L658.5 996.1 L659.0 951.1 L659.5 904.7 L660.0 859.1 L660.5 817.1 L661.0 784.2 L661.5 763.2 L661.9 758.5 L662.0 758.7 L662.5 770.4 L663.0 796.2 L663.5 832.7 L664.0 876.4 L664.5 923.2 L665.0 969.7 L665.5 1012.0 L666.0 1049.2 L666.5 1079.4 L667.0 1103.9 L667.5 1123.4 L668.0 1137.1 L668.5 1146.1 L669.0 1151.9 L669.5 1154.2 L670.0 1153.8 L670.5 1151.7 L671.0 1148.0 L671.5 1142.6 L672.0 1136.2 L672.5 1130.4 L673.0 1123.6 L673.5 1119.3 L674.0 1116.8 L674.2 1116.9 L674.5 1118.0 L675.0 1121.4 L675.5 1126.9 L676.0 1134.3 L676.5 1142.0 L677.0 1148.9 L677.5 1155.4 L678.0 1163.2 L678.5 1167.4 L679.0 1170.7 L679.5 1172.8 L680.0 1174.8 L680.5 1177.0 L681.0 1176.4 L681.5 1177.9 L682.0 1178.7 L682.5 1178.8 L683.0 1179.1 L683.5 1178.9 L684.0 1179.9 L684.5 1178.9 L685.0 1179.0 L685.5 1179.8 L686.0 1180.6 L686.5 1180.5 L687.0 1181.3 L687.5 1181.1 L688.0 1181.2 L688.5 1182.3 L689.0 1182.4 L689.5 1182.4 L690.0 1181.7 L690.5 1181.3 L691.0 1181.2 L691.5 1181.4 L692.0 1181.6 L692.5 1181.5 L693.0 1180.8 L693.5 1181.4 L694.0 1181.4 L694.5 1181.6 L695.0 1181.7 L695.5 1181.8 L696.0 1182.2 L696.5 1182.1 L697.0 1182.1 L697.5 1181.7 L698.0 1182.0 L698.5 1181.7 L699.0 1181.0 L699.5 1181.9 L700.0 1181.8 L700.5 1182.3 L701.0 1182.1 L701.5 1182.3 L702.0 1182.4 L702.5 1182.3 L703.0 1182.1 L703.5 1181.6 L704.0 1182.8 L704.5 1181.6 L705.0 1182.1 L705.5 1182.6 L706.0 1182.6 L706.5 1182.7 L707.0 1182.8 L707.5 1183.0 L708.0 1182.7 L708.5 1183.6 L709.0 1182.2 L709.5 1182.6 L710.0 1182.4 L710.5 1182.3 L711.0 1182.6 L711.5 1183.1 L712.0 1182.5 L712.5 1182.6 L713.0 1183.2 L713.5 1183.2 L714.0 1183.7 L714.5 1183.3 L715.0 1183.0 L715.5 1182.8 L716.0 1182.9 L716.5 1182.8 L717.0 1182.5 L717.5 1183.1 L718.0 1183.1 L718.5 1183.2 L719.0 1183.1 L719.5 1183.8 L720.0 1183.3 L720.5 1183.3 L721.0 1182.6 L721.5 1182.4 L722.0 1182.6 L722.5 1182.9 L723.0 1182.8 L723.5 1183.0 L724.0 1183.5 L724.5 1183.4 L725.0 1183.1 L725.5 1183.4 L726.0 1183.4 L726.5 1183.7 L727.0 1183.0 L727.5 1183.1 L728.0 1183.2 L728.5 1182.8 L729.0 1182.4 L729.5 1182.6 L730.0 1183.0 L730.5 1183.3 L731.0 1183.5 L731.5 1183.3 L732.0 1182.9 L732.5 1183.8 L733.0 1183.4 L733.5 1183.4 L734.0 1183.4 L734.5 1183.0 L735.0 1183.3 L735.5 1183.6 L736.0 1183.8 L736.5 1183.5 L737.0 1182.3 L737.5 1183.2 L738.0 1183.3 L738.5 1183.5 L739.0 1183.2 L739.5 1183.8 L740.0 1183.3 L740.5 1183.3 L741.0 1183.2 L741.5 1182.4 L742.0 1183.2 L742.5 1183.2 L743.0 1182.9 L743.5 1183.3 L744.0 1183.3 L744.5 1183.0 L745.0 1183.2 L745.5 1183.2 L746.0 1183.3 L746.5 1183.0 L747.0 1183.3 L747.5 1182.4 L748.0 1182.9 L748.5 1182.3 L749.0 1182.7 L749.5 1183.0 L750.0 1182.8 L750.5 1182.7 L751.0 1182.8 L751.5 1183.5 L752.0 1182.6 L752.5 1183.5 L753.0 1182.8 L753.5 1183.3 L754.0 1183.6 L754.5 1183.3 L755.0 1183.7 L755.5 1183.8 L756.0 1183.1 L756.5 1183.5 L757.0 1183.4 L757.5 1182.8 L758.0 1183.3 L758.5 1183.1 L759.0 1183.8 L759.5 1183.1 L760.0 1184.0 L760.5 1183.3 L761.0 1184.3 L761.5 1183.9 L762.0 1183.9 L762.5 1184.0 L763.0 1184.0 L763.5 1184.2 L764.0 1184.2 L764.5 1183.3 L765.0 1182.9 L765.5 1182.4 L766.0 1183.2 L766.5 1183.6 L767.0 1183.5 L767.5 1183.5 L768.0 1183.4 L768.5 1183.4 L769.0 1183.5 L769.5 1183.8 L770.0 1183.1 L770.5 1184.1 L771.0 1183.4 L771.5 1183.9 L772.0 1183.8 L772.5 1183.9 L773.0 1183.6 L773.5 1183.5 L774.0 1183.7 L774.5 1183.3 L775.0 1184.4 L775.5 1183.3 L776.0 1183.2 L776.5 1183.3 L777.0 1183.1 L777.5 1182.6 L778.0 1183.4 L778.5 1183.7 L779.0 1183.1 L779.5 1183.6 L780.0 1183.2 L780.5 1183.6 L781.0 1183.7 L781.5 1183.7 L782.0 1183.6 L782.5 1183.1 L783.0 1183.7 L783.5 1183.2 L784.0 1183.6 L784.5 1183.7 L785.0 1183.3 L785.5 1182.9 L786.0 1183.4 L786.5 1182.6 L787.0 1182.6 L787.5 1182.4 L788.0 1183.1 L788.5 1182.8 L789.0 1182.2 L789.5 1183.3 L790.0 1183.8 L790.5 1183.7 L791.0 1182.8 L791.5 1182.9 L792.0 1183.0 L792.5 1183.2 L793.0 1183.0 L793.5 1182.7 L794.0 1183.5 L794.5 1183.6 L795.0 1183.0 L795.5 1183.4 L796.0 1183.7 L796.5 1183.6 L797.0 1183.7 L797.5 1183.7 L798.0 1183.5 L798.5 1183.2 L799.0 1182.8 L799.5 1183.5 L800.0 1183.8 L800.5 1184.1 L801.0 1183.4 L801.5 1183.4 L802.0 1183.9 L802.5 1183.8 L803.0 1183.4 L803.5 1183.6 L804.0 1183.1 L804.5 1183.7 L805.0 1183.3 L805.5 1183.6 L806.0 1183.7 L806.5 1183.7 L807.0 1183.1 L807.5 1183.6 L808.0 1183.9 L808.5 1183.7 L809.0 1183.4 L809.5 1183.5 L810.0 1183.5 L810.5 1183.4 L811.0 1182.7 L811.5 1183.0 L812.0 1183.0 L812.5 1183.0 L813.0 1182.9 L813.5 1183.5 L814.0 1183.3 L814.5 1184.4 L815.0 1183.6 L815.5 1183.4 L816.0 1183.2 L816.5 1183.8 L817.0 1182.6 L817.5 1182.7 L818.0 1182.3 L818.5 1182.5 L819.0 1182.5 L819.5 1182.8 L820.0 1182.0 L820.5 1182.4 L821.0 1183.0 L821.5 1182.3 L822.0 1182.4 L822.5 1182.2 L823.0 1181.7 L823.5 1182.7 L824.0 1183.3 L824.5 1182.8 L825.0 1182.3 L825.5 1182.9 L826.0 1182.7 L826.5 1182.6 L827.0 1182.2 L827.5 1181.3 L828.0 1181.0 L828.5 1179.7 L829.0 1180.0 L829.5 1178.8 L830.0 1178.1 L830.5 1176.8 L831.0 1174.6 L831.5 1172.6 L832.0 1170.0 L832.5 1166.8 L833.0 1164.4 L833.5 1161.3 L834.0 1157.4 L834.5 1154.4 L835.0 1150.6 L835.5 1147.3 L836.0 1143.8 L836.5 1141.0 L837.0 1140.1 L837.5 1139.2 L837.7 1139.0 L838.0 1139.1 L838.5 1140.2 L839.0 1142.1 L839.5 1144.5 L840.0 1146.9 L840.5 1151.2 L841.0 1154.0 L841.5 1158.0 L842.0 1161.5 L842.5 1165.1 L843.0 1167.5 L843.5 1171.2 L844.0 1173.3 L844.5 1175.3 L845.0 1177.1 L845.5 1177.7 L846.0 1177.9 L846.5 1179.9 L847.0 1180.9 L847.5 1181.4 L848.0 1181.2 L848.5 1181.7 L849.0 1182.1 L849.5 1181.6 L850.0 1182.2 L850.5 1182.5 L851.0 1183.4 L851.5 1182.8 L852.0 1183.7 L852.5 1183.2 L853.0 1182.7 L853.5 1184.1 L854.0 1182.9 L854.5 1183.3 L855.0 1183.5 L855.5 1182.5 L856.0 1182.2 L856.5 1183.0 L857.0 1182.6 L857.5 1182.3 L858.0 1182.4 L858.5 1182.7 L859.0 1183.1 L859.5 1182.7 L860.0 1182.9 L860.5 1183.3 L861.0 1183.2 L861.5 1183.3 L862.0 1183.4 L862.5 1182.5 L863.0 1183.6 L863.5 1183.4 L864.0 1183.2 L864.5 1182.8 L865.0 1182.6 L865.5 1182.7 L866.0 1183.0 L866.5 1182.5 L867.0 1182.6 L867.5 1182.7 L868.0 1183.2 L868.5 1182.9 L869.0 1183.1 L869.5 1183.7 L870.0 1183.2 L870.5 1183.7 L871.0 1183.3 L871.5 1184.0 L872.0 1184.0 L872.5 1184.1 L873.0 1183.9 L873.5 1183.6 L874.0 1183.8 L874.5 1183.6 L875.0 1184.0 L875.5 1183.7 L876.0 1182.8 L876.5 1183.3 L877.0 1182.8 L877.5 1183.1 L878.0 1182.7 L878.5 1182.5 L879.0 1183.4 L879.5 1183.3 L880.0 1182.8 L880.5 1182.6 L881.0 1183.2 L881.5 1183.0 L882.0 1183.4 L882.5 1183.8 L883.0 1184.2 L883.5 1183.5 L884.0 1184.0 L884.5 1183.8 L885.0 1183.1 L885.5 1182.5 L886.0 1183.3 L886.5 1183.2 L887.0 1183.9 L887.5 1183.6 L888.0 1183.3 L888.5 1183.6 L889.0 1182.6 L889.5 1182.9 L890.0 1182.6 L890.5 1183.2 L891.0 1182.8 L891.5 1181.7 L892.0 1183.5 L892.5 1183.0 L893.0 1183.8 L893.5 1183.6 L894.0 1183.9 L894.5 1183.9 L895.0 1183.7 L895.5 1183.1 L896.0 1183.8 L896.5 1183.4 L897.0 1183.3 L897.5 1183.6 L898.0 1183.2 L898.5 1184.2 L899.0 1183.7 L899.5 1183.8 L900.0 1183.8 L900.5 1183.4 L901.0 1183.3 L901.5 1183.7 L902.0 1183.7 L902.5 1183.9 L903.0 1183.6 L903.5 1183.0 L904.0 1183.5 L904.5 1183.5 L905.0 1183.5 L905.5 1183.2 L906.0 1182.5 L906.5 1183.3 L907.0 1182.6 L907.5 1183.1 L908.0 1182.3 L908.5 1183.1 L909.0 1182.5 L909.5 1183.1 L910.0 1183.3 L910.5 1183.0 L911.0 1182.2 L911.5 1182.3 L912.0 1182.3 L912.5 1183.0 L913.0 1183.0 L913.5 1183.0 L914.0 1183.2 L914.5 1183.3 L915.0 1183.3 L915.5 1183.6 L916.0 1182.8 L916.5 1182.7 L917.0 1181.8 L917.5 1181.7 L918.0 1181.7 L918.5 1181.3 L919.0 1181.5 L919.5 1181.6 L920.0 1180.8 L920.5 1180.4 L921.0 1179.8 L921.5 1179.3 L922.0 1178.1 L922.5 1177.1 L923.0 1175.4 L923.5 1173.3 L924.0 1171.0 L924.5 1167.8 L925.0 1164.7 L925.5 1161.8 L926.0 1157.7 L926.5 1154.6 L927.0 1151.2 L927.5 1148.5 L928.0 1146.7 L928.5 1145.7 L928.7 1145.9 L929.0 1145.9 L929.5 1147.1 L930.0 1149.7 L930.5 1151.9 L931.0 1155.4 L931.5 1158.4 L932.0 1162.0 L932.5 1164.8 L933.0 1168.2 L933.5 1171.9 L934.0 1173.8 L934.5 1176.0 L935.0 1177.6 L935.5 1179.2 L936.0 1179.6 L936.5 1180.5 L937.0 1181.5 L937.5 1182.1 L938.0 1182.1 L938.5 1182.5 L939.0 1182.8 L939.5 1183.2 L940.0 1183.2 L940.5 1183.3 L941.0 1183.9 L941.5 1183.3 L942.0 1183.4 L942.5 1183.3 L943.0 1182.9 L943.5 1183.2 L944.0 1182.8 L944.5 1182.9 L945.0 1182.5 L945.5 1182.5 L946.0 1182.9 L946.5 1182.8 L947.0 1182.6 L947.5 1182.9 L948.0 1183.0 L948.5 1183.1 L949.0 1183.7 L949.5 1183.1 L950.0 1183.4 L950.5 1183.4 L951.0 1183.1 L951.5 1182.6 L952.0 1183.2 L952.5 1183.0 L953.0 1183.0 L953.5 1183.0 L954.0 1183.0 L954.5 1182.7 L955.0 1183.1 L955.5 1182.4 L956.0 1183.0 L956.5 1182.4 L957.0 1182.7 L957.5 1183.0 L958.0 1182.7 L958.5 1182.6 L959.0 1183.0 L959.5 1182.8 L960.0 1182.8 L960.5 1182.8 L961.0 1183.5 L961.5 1183.2 L962.0 1183.0 L962.5 1182.3 L963.0 1182.7 L963.5 1181.9 L964.0 1182.4 L964.5 1181.6 L965.0 1182.5 L965.5 1181.1 L966.0 1182.0 L966.5 1181.7 L967.0 1180.6 L967.5 1181.0 L968.0 1181.3 L968.5 1180.8 L969.0 1179.3 L969.5 1178.9 L970.0 1177.6 L970.5 1176.2 L971.0 1174.6 L971.5 1173.5 L972.0 1170.5 L972.5 1167.7 L973.0 1164.8 L973.5 1162.2 L974.0 1159.1 L974.5 1155.4 L975.0 1153.2 L975.5 1149.4 L976.0 1147.2 L976.5 1145.5 L977.0 1144.7 L977.5 1143.4 L978.0 1144.0 L978.5 1145.6 L979.0 1147.3 L979.5 1150.1 L980.0 1153.0 L980.5 1155.9 L981.0 1159.3 L981.5 1162.6 L982.0 1165.3 L982.5 1168.7 L983.0 1170.0 L983.5 1172.6 L984.0 1175.4 L984.5 1176.7 L985.0 1177.7 L985.5 1179.3 L986.0 1180.5 L986.5 1180.7 L987.0 1181.9 L987.5 1182.1 L988.0 1182.6 L988.5 1182.9 L989.0 1183.5 L989.5 1182.8 L990.0 1183.0 L990.5 1183.4 L991.0 1182.6 L991.5 1182.3 L992.0 1182.9 L992.5 1182.6 L993.0 1182.4 L993.5 1182.5 L994.0 1182.0 L994.5 1183.4 L995.0 1182.1 L995.5 1182.3 L996.0 1181.9 L996.5 1182.3 L997.0 1183.0 L997.5 1182.5 L998.0 1182.8 L998.5 1182.5 L999.0 1183.4 L999.5 1183.0 L1000.0 1182.6 L1000.5 1183.5 L1001.0 1183.1 L1001.5 1183.5 L1002.0 1183.4 L1002.5 1183.4 L1003.0 1183.4 L1003.5 1183.0 L1004.0 1182.8 L1004.5 1183.6 L1005.0 1183.2 L1005.5 1183.4 L1006.0 1183.2 L1006.5 1182.8 L1007.0 1183.1 L1007.5 1184.2 L1008.0 1183.5 L1008.5 1183.7 L1009.0 1183.3 L1009.5 1183.5 L1010.0 1183.5 L1010.5 1183.4 L1011.0 1183.4 L1011.5 1183.0 L1012.0 1183.0 L1012.5 1183.1 L1013.0 1183.1 L1013.5 1182.9 L1014.0 1183.4 L1014.5 1182.7 L1015.0 1182.6 L1015.5 1182.2 L1016.0 1182.8 L1016.5 1182.1 L1017.0 1182.0 L1017.5 1182.4 L1018.0 1183.1 L1018.5 1182.7 L1019.0 1183.7 L1019.5 1183.3 L1020.0 1182.8 L1020.5 1183.3 L1021.0 1184.1 L1021.5 1183.1 L1022.0 1182.9 L1022.5 1183.4 L1023.0 1183.6 L1023.5 1183.5 L1024.0 1183.0 L1024.5 1183.2 L1025.0 1183.2 L1025.5 1183.5 L1026.0 1183.9 L1026.5 1183.1 L1027.0 1183.5 L1027.5 1182.9 L1028.0 1183.3 L1028.5 1182.8 L1029.0 1182.9 L1029.5 1183.4 L1030.0 1182.9 L1030.5 1183.5 L1031.0 1182.8 L1031.5 1182.9 L1032.0 1182.7 L1032.5 1182.6 L1033.0 1182.7 L1033.5 1183.1 L1034.0 1183.9 L1034.5 1182.5 L1035.0 1183.1 L1035.5 1182.9 L1036.0 1182.6 L1036.5 1183.0 L1037.0 1182.6 L1037.5 1182.8 L1038.0 1183.3 L1038.5 1182.2 L1039.0 1183.0 L1039.5 1183.1 L1040.0 1182.7 L1040.5 1183.2 L1041.0 1183.2 L1041.5 1183.1 L1042.0 1183.7 L1042.5 1182.8 L1043.0 1183.5 L1043.5 1183.2 L1044.0 1183.0 L1044.5 1183.3 L1045.0 1183.3 L1045.5 1183.7 L1046.0 1182.8 L1046.5 1183.1 L1047.0 1182.9 L1047.5 1183.4 L1048.0 1182.4 L1048.5 1183.2 L1049.0 1182.2 L1049.5 1183.0 L1050.0 1182.8 L1050.5 1183.0 L1051.0 1182.5 L1051.5 1182.0 L1052.0 1182.0 L1052.5 1182.9 L1053.0 1182.6 L1053.5 1182.2 L1054.0 1183.0 L1054.5 1182.6 L1055.0 1182.8 L1055.5 1182.7 L1056.0 1183.7 L1056.5 1184.0 L1057.0 1182.9 L1057.5 1183.2 L1058.0 1183.4 L1058.5 1183.7 L1059.0 1182.0 L1059.5 1182.7 L1060.0 1182.8 L1060.5 1181.9 L1061.0 1182.4 L1061.5 1182.2 L1062.0 1182.2 L1062.5 1181.6 L1063.0 1181.9 L1063.5 1181.4 L1064.0 1181.7 L1064.5 1181.4 L1065.0 1181.0 L1065.5 1180.3 L1066.0 1181.1 L1066.5 1180.6 L1067.0 1180.2 L1067.5 1179.3 L1068.0 1179.0 L1068.5 1179.2 L1069.0 1178.3 L1069.5 1177.0 L1070.0 1176.6 L1070.5 1175.7 L1071.0 1174.7 L1071.5 1173.3 L1072.0 1172.9 L1072.5 1171.3 L1073.0 1169.6 L1073.5 1167.6 L1074.0 1166.4 L1074.5 1164.9 L1075.0 1163.6 L1075.5 1161.5 L1076.0 1160.3 L1076.5 1158.1 L1077.0 1155.9 L1077.5 1153.3 L1078.0 1151.9 L1078.5 1150.0 L1079.0 1148.8 L1079.5 1147.5 L1080.0 1146.5 L1080.5 1144.9 L1081.0 1143.6 L1081.5 1144.2 L1082.0 1143.0 L1082.5 1142.7 L1083.0 1142.8 L1083.5 1142.8 L1084.0 1144.1 L1084.5 1144.9 L1085.0 1146.5 L1085.5 1147.6 L1086.0 1149.0 L1086.5 1150.7 L1087.0 1152.0 L1087.5 1153.8 L1088.0 1155.9 L1088.5 1157.4 L1089.0 1159.8 L1089.5 1161.6 L1090.0 1163.7 L1090.5 1165.1 L1091.0 1166.0 L1091.5 1168.1 L1092.0 1170.0 L1092.5 1170.2 L1093.0 1171.8 L1093.5 1173.3 L1094.0 1173.9 L1094.5 1175.2 L1095.0 1176.3 L1095.5 1176.6 L1096.0 1177.9 L1096.5 1178.6 L1097.0 1178.6 L1097.5 1179.6 L1098.0 1180.4 L1098.5 1180.4 L1099.0 1181.0 L1099.5 1181.4 L1100.0 1181.5 L1100.5 1182.2 L1101.0 1182.3 L1101.5 1182.0 L1102.0 1182.6 L1102.5 1182.8 L1103.0 1182.8 L1103.5 1182.2 L1104.0 1182.6 L1104.5 1183.0 L1105.0 1182.6 L1105.5 1183.0 L1106.0 1183.1 L1106.5 1182.7 L1107.0 1183.0 L1107.5 1182.7 L1108.0 1183.2 L1108.5 1182.8 L1109.0 1182.7 L1109.5 1182.8 L1110.0 1182.6 L1110.5 1182.7 L1111.0 1182.6 L1111.5 1181.9 L1112.0 1182.1 L1112.5 1182.6 L1113.0 1182.7 L1113.5 1182.7 L1114.0 1183.6 L1114.5 1183.2 L1115.0 1182.9 L1115.5 1183.2 L1116.0 1183.4 L1116.5 1183.1 L1117.0 1182.4 L1117.5 1183.0 L1118.0 1183.0 L1118.5 1183.7 L1119.0 1182.3 L1119.5 1183.5 L1120.0 1182.9 L1120.5 1183.4 L1121.0 1183.0 L1121.5 1183.2 L1122.0 1183.5 L1122.5 1183.1 L1123.0 1183.3 L1123.5 1182.8 L1124.0 1182.7 L1124.5 1182.7 L1125.0 1182.5 L1125.5 1182.7 L1126.0 1183.2 L1126.5 1182.3 L1127.0 1182.1 L1127.5 1182.7 L1128.0 1183.3 L1128.5 1183.1 L1129.0 1183.2 L1129.5 1183.3 L1130.0 1182.7 L1130.5 1183.0 L1131.0 1182.0 L1131.5 1182.6 L1132.0 1182.8 L1132.5 1181.9 L1133.0 1181.6 L1133.5 1181.7 L1134.0 1182.2 L1134.5 1182.5 L1135.0 1183.0 L1135.5 1182.5 L1136.0 1181.3 L1136.5 1180.7 L1137.0 1181.2 L1137.5 1181.0 L1138.0 1179.6 L1138.5 1179.5 L1139.0 1179.0 L1139.5 1178.7 L1140.0 1178.2 L1140.5 1178.0 L1141.0 1177.8 L1141.5 1177.1 L1142.0 1176.9 L1142.5 1176.9 L1143.0 1175.5 L1143.5 1175.2 L1144.0 1175.6 L1144.5 1176.0 L1145.0 1175.3 L1145.5 1175.7 L1146.0 1175.2 L1146.5 1175.7 L1147.0 1175.3 L1147.5 1175.9 L1148.0 1176.0 L1148.5 1176.2 L1149.0 1176.7 L1149.5 1176.8 L1150.0 1176.4 L1150.5 1177.0 L1151.0 1176.2 L1151.5 1177.2 L1152.0 1177.7 L1152.5 1176.7 L1153.0 1176.3 L1153.5 1175.5 L1154.0 1174.8 L1154.5 1173.1 L1155.0 1171.9 L1155.5 1169.8 L1156.0 1167.9 L1156.5 1166.3 L1157.0 1164.4 L1157.5 1162.0 L1158.0 1161.7 L1158.5 1159.5 L1159.0 1157.3 L1159.5 1157.0 L1160.0 1155.6 L1160.5 1155.0 L1161.0 1154.9 L1161.2 1154.4 L1161.5 1153.8 L1162.0 1155.2 L1162.5 1156.0 L1163.0 1157.3 L1163.5 1157.9 L1164.0 1159.4 L1164.5 1161.2 L1165.0 1162.7 L1165.5 1164.5 L1166.0 1166.4 L1166.5 1167.5 L1167.0 1169.9 L1167.5 1170.2 L1168.0 1171.5 L1168.5 1172.0 L1169.0 1172.3 L1169.5 1172.8 L1170.0 1172.8 L1170.5 1172.5 L1171.0 1171.4 L1171.5 1170.1 L1172.0 1169.3 L1172.5 1167.2 L1173.0 1166.3 L1173.5 1165.1 L1174.0 1163.7 L1174.5 1161.8 L1175.0 1160.6 L1175.5 1160.8 L1176.0 1159.4 L1176.5 1158.8 L1176.8 1158.9 L1177.0 1159.5 L1177.5 1160.4 L1178.0 1160.7 L1178.5 1162.2 L1179.0 1163.1 L1179.5 1164.6 L1180.0 1166.2 L1180.5 1167.3 L1181.0 1169.1 L1181.5 1170.4 L1182.0 1171.8 L1182.5 1173.6 L1183.0 1174.4 L1183.5 1176.0 L1184.0 1176.8 L1184.5 1178.1 L1185.0 1178.8 L1185.5 1180.1 L1186.0 1180.4 L1186.5 1180.8 L1187.0 1181.7 L1187.5 1180.4 L1188.0 1181.3 L1188.5 1180.9 L1189.0 1182.1 L1189.5 1182.5 L1190.0 1182.8 L1190.5 1182.7 L1191.0 1182.4 L1191.5 1183.3 L1192.0 1182.7 L1192.5 1182.5 L1193.0 1182.2 L1193.5 1182.8 L1194.0 1182.6 L1194.5 1182.7 L1195.0 1182.9 L1195.5 1183.0 L1196.0 1182.7 L1196.5 1183.4 L1197.0 1182.8 L1197.5 1182.8 L1198.0 1183.4 L1198.5 1183.4 L1199.0 1183.5 L1199.5 1183.3 L1200.0 1183.4 L1200.5 1183.2 L1201.0 1182.8 L1201.5 1183.7 L1202.0 1183.1 L1202.5 1183.4 L1203.0 1183.7 L1203.5 1183.5 L1204.0 1184.4 L1204.5 1183.0 L1205.0 1183.3 L1205.5 1183.7 L1206.0 1184.3 L1206.5 1183.8 L1207.0 1183.4 L1207.5 1184.3 L1208.0 1183.5 L1208.5 1183.5 L1209.0 1183.7 L1209.5 1183.0 L1210.0 1183.0 L1210.5 1183.2 L1211.0 1183.0 L1211.5 1183.1 L1212.0 1182.7 L1212.5 1183.0 L1213.0 1182.8 L1213.5 1182.7 L1214.0 1183.9 L1214.5 1183.6 L1215.0 1183.8 L1215.5 1183.1 L1216.0 1183.4 L1216.5 1183.2 L1217.0 1182.7 L1217.5 1183.3 L1218.0 1182.8 L1218.5 1183.0 L1219.0 1182.6 L1219.5 1183.6 L1220.0 1183.6 L1220.5 1183.5 L1221.0 1183.1 L1221.5 1183.2 L1222.0 1183.9 L1222.5 1183.5 L1223.0 1183.7 L1223.5 1183.8 L1224.0 1183.4 L1224.5 1184.4 L1225.0 1183.1 L1225.5 1183.8 L1226.0 1183.6 L1226.5 1183.0 L1227.0 1183.6 L1227.5 1183.6 L1228.0 1183.3 L1228.5 1182.9 L1229.0 1183.2 L1229.5 1183.3 L1230.0 1182.8 L1230.5 1183.1 L1231.0 1182.6 L1231.5 1182.3 L1232.0 1182.3 L1232.5 1181.4 L1233.0 1181.3 L1233.5 1181.5 L1234.0 1181.5 L1234.5 1181.8 L1235.0 1181.7 L1235.5 1181.4 L1236.0 1181.4 L1236.5 1181.2 L1237.0 1181.0 L1237.5 1180.8 L1238.0 1181.1 L1238.5 1180.6 L1238.6 1180.6 L1239.0 1180.8 L1239.5 1180.6 L1240.0 1180.9 L1240.5 1180.3 L1241.0 1181.3 L1241.5 1181.2 L1242.0 1181.4 L1242.5 1181.5 L1243.0 1180.7 L1243.5 1182.2 L1244.0 1181.4 L1244.5 1181.5 L1245.0 1180.9 L1245.5 1182.0 L1246.0 1182.1 L1246.5 1182.1 L1247.0 1182.6 L1247.5 1183.2 L1248.0 1182.7 L1248.5 1182.6 L1249.0 1183.4 L1249.5 1183.0 L1250.0 1182.9 L1250.5 1183.8 L1251.0 1183.1 L1251.5 1183.1 L1252.0 1183.3 L1252.5 1183.2 L1253.0 1183.4 L1253.5 1183.4 L1254.0 1183.2 L1254.5 1183.3 L1255.0 1183.6 L1255.5 1183.6 L1256.0 1183.8 L1256.5 1183.9 L1257.0 1183.8 L1257.5 1183.9 L1258.0 1183.5 L1258.5 1183.5 L1259.0 1183.8 L1259.5 1182.7 L1260.0 1183.5 L1260.5 1184.5 L1261.0 1182.8 L1261.5 1184.1 L1262.0 1183.0 L1262.5 1183.8 L1263.0 1184.2 L1263.5 1184.2 L1264.0 1183.2 L1264.5 1183.0 L1265.0 1182.9 L1265.5 1183.5 L1266.0 1183.1 L1266.5 1183.2 L1267.0 1183.2 L1267.5 1183.3 L1268.0 1183.4 L1268.5 1183.4 L1269.0 1182.9 L1269.5 1184.0 L1270.0 1182.6 L1270.5 1184.1 L1271.0 1183.5 L1271.5 1183.7 L1272.0 1183.5 L1272.5 1183.4 L1273.0 1183.3 L1273.5 1183.1 L1274.0 1182.6 L1274.5 1183.2 L1275.0 1182.7 L1275.5 1183.5 L1276.0 1183.2 L1276.5 1183.2 L1277.0 1183.7 L1277.5 1183.9 L1278.0 1183.3 L1278.5 1183.5 L1279.0 1183.9 L1279.5 1183.0 L1280.0 1182.9 L1280.5 1183.2 L1281.0 1182.7 L1281.5 1182.4 L1282.0 1182.7 L1282.5 1183.5 L1283.0 1183.7 L1283.5 1183.7 L1284.0 1183.7 L1284.5 1183.2 L1285.0 1183.8 L1285.5 1184.0 L1286.0 1183.4 L1286.5 1183.9 L1287.0 1183.4 L1287.5 1183.6 L1288.0 1183.6 L1288.5 1182.8 L1289.0 1183.8 L1289.5 1182.9 L1290.0 1183.2 L1290.5 1183.0 L1291.0 1183.4 L1291.5 1183.4 L1292.0 1183.2 L1292.5 1183.7 L1293.0 1183.3 L1293.5 1183.0 L1294.0 1182.1 L1294.5 1182.9 L1295.0 1182.9 L1295.5 1182.6 L1296.0 1182.6 L1296.5 1183.0 L1297.0 1183.0 L1297.5 1183.2 L1298.0 1182.8 L1298.5 1182.1 L1299.0 1182.3 L1299.5 1181.7 L1300.0 1182.3 L1300.5 1182.1 L1301.0 1181.7 L1301.5 1181.7 L1302.0 1181.5 L1302.5 1181.2 L1303.0 1181.7 L1303.5 1182.1 L1304.0 1181.0 L1304.5 1180.9 L1305.0 1180.4 L1305.5 1180.0 L1306.0 1180.8 L1306.5 1179.8 L1307.0 1180.0 L1307.5 1179.7 L1308.0 1179.8 L1308.5 1179.5 L1309.0 1179.6 L1309.5 1178.8 L1310.0 1179.2 L1310.5 1179.9 L1311.0 1179.2 L1311.5 1179.6 L1312.0 1180.7 L1312.5 1180.6 L1313.0 1181.2 L1313.5 1180.4 L1314.0 1181.5 L1314.5 1181.2 L1315.0 1181.4 L1315.5 1182.2 L1316.0 1182.6 L1316.5 1181.7 L1317.0 1182.0 L1317.5 1182.3 L1318.0 1182.6 L1318.5 1182.3 L1319.0 1183.7 L1319.5 1183.2 L1320.0 1182.9 L1320.5 1182.9 L1321.0 1183.9 L1321.5 1183.9 L1322.0 1182.9 L1322.5 1183.2 L1323.0 1183.5 L1323.5 1182.7 L1324.0 1182.9 L1324.5 1183.6 L1325.0 1182.9 L1325.5 1183.0 L1326.0 1182.7 L1326.5 1182.9 L1327.0 1183.4 L1327.5 1182.8 L1328.0 1182.6 L1328.5 1182.8 L1329.0 1183.5 L1329.5 1182.8 L1330.0 1182.4 L1330.5 1182.5 L1331.0 1182.4 L1331.5 1182.2 L1332.0 1181.5 L1332.5 1182.2 L1333.0 1182.0 L1333.5 1182.3 L1334.0 1181.5 L1334.5 1182.3 L1334.8 1181.6 L1335.0 1181.0 L1335.5 1182.0 L1336.0 1181.3 L1336.5 1181.7 L1337.0 1181.6 L1337.5 1182.2 L1338.0 1182.3 L1338.5 1182.5 L1339.0 1182.5 L1339.5 1181.8 L1340.0 1181.9 L1340.5 1182.6 L1341.0 1182.4 L1341.5 1183.0 L1342.0 1183.0 L1342.5 1182.5 L1343.0 1182.7 L1343.5 1182.8 L1344.0 1182.9 L1344.5 1183.2 L1345.0 1183.5 L1345.5 1183.7 L1346.0 1182.9 L1346.5 1183.2 L1347.0 1184.0 L1347.5 1183.9 L1348.0 1183.8 L1348.5 1182.9 L1349.0 1183.4 L1349.5 1183.7 L1350.0 1183.3 L1350.5 1184.1 L1351.0 1183.3 L1351.5 1183.3 L1352.0 1182.9 L1352.5 1183.0 L1353.0 1183.2 L1353.5 1183.3 L1354.0 1183.5" stroke="#ff00ff" stroke-width="10.4"/>
<path d="M175.0 1735.3 L175.4 1735.6 L175.8 1735.3 L176.2 1734.9 L176.6 1735.3 L177.0 1735.0 L177.4 1736.0 L177.8 1737.1 L178.2 1735.8 L178.6 1735.8 L179.0 1736.8 L179.4 1736.7 L179.8 1736.4 L180.2 1735.5 L180.6 1736.2 L181.0 1736.8 L181.4 1735.4 L181.8 1736.3 L182.2 1735.3 L182.6 1735.9 L183.0 1735.5 L183.4 1736.8 L183.8 1736.1 L184.2 1737.4 L184.6 1737.4 L185.0 1737.2 L185.4 1735.5 L185.8 1737.1 L186.2 1737.5 L186.6 1737.6 L187.0 1736.3 L187.4 1737.2 L187.8 1736.8 L188.2 1737.1 L188.6 1738.8 L189.0 1737.5 L189.4 1738.2 L189.8 1739.0 L190.2 1737.8 L190.6 1738.2 L191.0 1738.4 L191.4 1738.5 L191.8 1737.5 L192.2 1738.6 L192.6 1739.8 L193.0 1737.6 L193.4 1739.7 L193.8 1739.2 L194.2 1738.7 L194.6 1740.8 L195.0 1739.7 L195.4 1738.0 L195.8 1738.8 L196.2 1739.1 L196.6 1738.4 L197.0 1739.2 L197.4 1738.8 L197.8 1739.6 L198.2 1740.4 L198.6 1738.9 L199.0 1739.6 L199.4 1739.0 L199.8 1739.4 L200.2 1738.4 L200.6 1739.0 L201.0 1739.5 L201.4 1740.5 L201.8 1740.7 L202.2 1738.7 L202.6 1739.0 L203.0 1740.0 L203.4 1737.8 L203.8 1739.1 L204.2 1739.5 L204.6 1740.7 L205.0 1740.3 L205.4 1739.5 L205.8 1739.4 L206.2 1739.6 L206.6 1741.1 L207.0 1739.6 L207.4 1739.9 L207.8 1740.5 L208.2 1740.1 L208.6 1740.1 L209.0 1739.3 L209.4 1740.2 L209.8 1739.8 L210.2 1741.1 L210.6 1740.7 L211.0 1740.2 L211.4 1740.8 L211.8 1740.1 L212.2 1741.2 L212.6 1740.4 L213.0 1740.8 L213.4 1739.4 L213.8 1740.8 L214.2 1739.3 L214.6 1739.1 L215.0 1740.5 L215.4 1740.0 L215.8 1740.8 L216.2 1742.4 L216.6 1739.8 L217.0 1740.0 L217.4 1740.7 L217.8 1741.0 L218.2 1740.6 L218.6 1740.7 L219.0 1741.5 L219.4 1741.4 L219.8 1740.2 L220.2 1741.0 L220.6 1741.2 L221.0 1740.4 L221.4 1741.5 L221.8 1740.6 L222.2 1742.0 L222.6 1741.3 L223.0 1741.2 L223.4 1740.7 L223.8 1741.0 L224.2 1739.5 L224.6 1740.1 L225.0 1741.3 L225.4 1739.3 L225.8 1741.7 L226.2 1739.6 L226.6 1741.7 L227.0 1740.5 L227.4 1741.9 L227.8 1741.5 L228.2 1740.3 L228.6 1742.5 L229.0 1742.7 L229.4 1741.4 L229.8 1741.2 L230.2 1741.3 L230.6 1740.7 L231.0 1742.4 L231.4 1741.1 L231.8 1741.5 L232.2 1741.0 L232.6 1741.2 L233.0 1740.7 L233.4 1742.8 L233.8 1741.7 L234.2 1742.6 L234.6 1741.9 L235.0 1741.4 L235.4 1741.8 L235.8 1741.5 L236.2 1741.9 L236.6 1741.5 L237.0 1741.5 L237.4 1740.6 L237.8 1741.1 L238.2 1743.1 L238.6 1741.4 L239.0 1741.2 L239.4 1742.4 L239.8 1743.3 L240.2 1741.1 L240.6 1742.1 L241.0 1741.7 L241.4 1740.9 L241.8 1742.9 L242.2 1742.3 L242.6 1742.4 L243.0 1741.8 L243.4 1742.8 L243.8 1742.0 L244.2 1742.2 L244.6 1741.2 L245.0 1741.0 L245.4 1743.0 L245.8 1741.6 L246.2 1742.5 L246.6 1742.4 L247.0 1742.2 L247.4 1742.1 L247.8 1742.9 L248.2 1742.1 L248.6 1742.2 L249.0 1742.3 L249.4 1743.2 L249.8 1742.7 L250.2 1742.4 L250.6 1741.7 L251.0 1741.1 L251.4 1743.1 L251.8 1743.3 L252.2 1742.5 L252.6 1743.0 L253.0 1743.2 L253.4 1743.2 L253.8 1743.3 L254.2 1742.2 L254.6 1743.8 L255.0 1741.5 L255.4 1743.2 L255.8 1742.8 L256.2 1743.0 L256.6 1743.8 L257.0 1743.4 L257.4 1741.3 L257.8 1740.9 L258.2 1743.0 L258.6 1741.6 L259.0 1742.5 L259.4 1743.2 L259.8 1741.3 L260.2 1741.0 L260.6 1743.0 L261.0 1742.9 L261.4 1742.6 L261.8 1742.8 L262.2 1742.0 L262.6 1741.4 L263.0 1742.5 L263.4 1741.8 L263.8 1741.2 L264.2 1743.0 L264.6 1742.6 L265.0 1743.0 L265.4 1741.9 L265.8 1742.2 L266.2 1742.0 L266.6 1742.1 L267.0 1743.0 L267.4 1742.3 L267.8 1743.3 L268.2 1743.3 L268.6 1744.6 L269.0 1741.7 L269.4 1743.5 L269.8 1742.7 L270.2 1742.8 L270.6 1741.7 L271.0 1742.6 L271.4 1743.5 L271.8 1742.8 L272.2 1742.9 L272.6 1742.6 L273.0 1743.8 L273.4 1743.0 L273.8 1741.4 L274.2 1742.6 L274.6 1741.5 L275.0 1740.5 L275.4 1742.8 L275.8 1744.4 L276.2 1743.5 L276.6 1742.6 L277.0 1742.7 L277.4 1744.3 L277.8 1743.4 L278.2 1743.3 L278.6 1743.1 L279.0 1743.1 L279.4 1743.6 L279.8 1743.3 L280.2 1743.0 L280.6 1742.0 L281.0 1743.3 L281.4 1742.3 L281.8 1743.7 L282.2 1741.8 L282.6 1742.7 L283.0 1743.0 L283.4 1742.2 L283.8 1744.9 L284.2 1744.8 L284.6 1743.2 L285.0 1744.0 L285.4 1743.6 L285.8 1741.1 L286.2 1743.3 L286.6 1743.1 L287.0 1743.3 L287.4 1742.4 L287.8 1743.1 L288.2 1743.2 L288.6 1744.2 L289.0 1743.6 L289.4 1743.3 L289.8 1744.5 L290.2 1742.7 L290.6 1742.8 L291.0 1741.7 L291.4 1744.5 L291.8 1744.1 L292.2 1744.1 L292.6 1743.9 L293.0 1743.5 L293.4 1743.5 L293.8 1743.1 L294.2 1743.1 L294.6 1743.3 L295.0 1744.5 L295.4 1743.8 L295.8 1743.4 L296.2 1743.1 L296.6 1743.1 L297.0 1744.9 L297.4 1744.0 L297.8 1743.5 L298.2 1743.1 L298.6 1742.4 L299.0 1743.2 L299.4 1743.9 L299.8 1742.9 L300.2 1743.0 L300.6 1743.0 L301.0 1743.3 L301.4 1741.9 L301.8 1743.0 L302.2 1742.5 L302.6 1743.9 L303.0 1742.7 L303.4 1743.8 L303.8 1744.7 L304.2 1743.4 L304.6 1743.2 L305.0 1743.9 L305.4 1743.8 L305.8 1742.9 L306.2 1744.0 L306.6 1745.2 L307.0 1743.4 L307.4 1743.4 L307.8 1742.8 L308.2 1743.9 L308.6 1742.7 L309.0 1742.9 L309.4 1744.9 L309.8 1743.1 L310.2 1744.7 L310.6 1744.9 L311.0 1743.8 L311.4 1743.9 L311.8 1745.0 L312.2 1743.3 L312.6 1743.0 L313.0 1742.4 L313.4 1743.5 L313.8 1744.7 L314.2 1744.3 L314.6 1742.8 L315.0 1742.8 L315.4 1743.1 L315.8 1743.8 L316.2 1743.4 L316.6 1743.7 L317.0 1743.7 L317.4 1743.2 L317.8 1743.5 L318.2 1743.7 L318.6 1743.5 L319.0 1744.0 L319.4 1745.1 L319.8 1744.1 L320.2 1743.7 L320.6 1742.2 L321.0 1743.7 L321.4 1741.8 L321.8 1742.2 L322.2 1744.0 L322.6 1744.0 L323.0 1743.4 L323.4 1742.0 L323.8 1743.0 L324.2 1742.6 L324.6 1743.7 L325.0 1745.0 L325.4 1743.4 L325.8 1742.7 L326.2 1742.4 L326.6 1743.3 L327.0 1743.2 L327.4 1742.5 L327.8 1743.6 L328.2 1742.6 L328.6 1744.5 L329.0 1744.4 L329.4 1744.5 L329.8 1743.2 L330.2 1744.0 L330.6 1743.5 L331.0 1743.2 L331.4 1743.2 L331.8 1742.3 L332.2 1742.0 L332.6 1743.7 L333.0 1742.8 L333.4 1743.2 L333.8 1743.9 L334.2 1741.9 L334.6 1742.8 L335.0 1743.6 L335.4 1743.8 L335.8 1743.2 L336.2 1744.3 L336.6 1743.7 L337.0 1742.6 L337.4 1742.8 L337.8 1744.2 L338.2 1743.9 L338.6 1742.0 L339.0 1744.5 L339.4 1743.7 L339.8 1744.3 L340.2 1742.9 L340.6 1743.1 L341.0 1742.6 L341.4 1745.7 L341.8 1743.6 L342.2 1745.0 L342.6 1743.1 L343.0 1743.5 L343.4 1741.9 L343.8 1742.9 L344.2 1744.0 L344.6 1742.2 L345.0 1744.0 L345.4 1743.4 L345.8 1742.4 L346.2 1742.8 L346.6 1743.0 L347.0 1743.3 L347.4 1742.9 L347.8 1742.7 L348.2 1743.0 L348.6 1742.5 L349.0 1742.3 L349.4 1743.3 L349.8 1744.0 L350.2 1742.1 L350.6 1743.3 L351.0 1742.8 L351.4 1742.5 L351.8 1743.9 L352.2 1742.7 L352.6 1744.2 L353.0 1742.5 L353.4 1743.5 L353.8 1743.0 L354.2 1742.7 L354.6 1743.7 L355.0 1743.2 L355.4 1743.9 L355.8 1743.4 L356.2 1742.7 L356.6 1743.4 L357.0 1743.5 L357.4 1744.1 L357.8 1742.5 L358.2 1743.1 L358.6 1741.7 L359.0 1743.5 L359.4 1742.1 L359.8 1741.5 L360.2 1742.9 L360.6 1743.9 L361.0 1741.9 L361.4 1742.3 L361.8 1742.6 L362.2 1742.3 L362.6 1743.6 L363.0 1742.7 L363.4 1742.7 L363.8 1743.8 L364.2 1742.7 L364.6 1743.7 L365.0 1742.6 L365.4 1742.3 L365.8 1741.7 L366.2 1744.5 L366.6 1742.7 L367.0 1743.3 L367.4 1743.2 L367.8 1743.6 L368.2 1743.6 L368.6 1745.0 L369.0 1742.6 L369.4 1742.1 L369.8 1742.6 L370.2 1742.4 L370.6 1744.2 L371.0 1744.2 L371.4 1742.6 L371.8 1742.0 L372.2 1742.7 L372.6 1744.1 L373.0 1740.9 L373.4 1743.7 L373.8 1742.5 L374.2 1744.3 L374.6 1742.6 L375.0 1743.2 L375.4 1742.1 L375.8 1742.5 L376.2 1744.3 L376.6 1743.9 L377.0 1742.9 L377.4 1742.5 L377.8 1741.7 L378.2 1742.8 L378.6 1743.0 L379.0 1742.9 L379.4 1742.9 L379.8 1742.2 L380.2 1743.1 L380.6 1743.1 L381.0 1744.1 L381.4 1744.5 L381.8 1742.8 L382.2 1742.2 L382.6 1742.8 L383.0 1742.4 L383.4 1742.4 L383.8 1743.0 L384.2 1742.3 L384.6 1743.6 L385.0 1743.0 L385.4 1743.3 L385.8 1742.8 L386.2 1742.3 L386.6 1742.0 L387.0 1742.6 L387.4 1742.4 L387.8 1743.1 L388.2 1742.8 L388.6 1741.7 L389.0 1742.9 L389.4 1741.9 L389.8 1742.6 L390.2 1742.9 L390.6 1741.5 L391.0 1743.2 L391.4 1743.2 L391.8 1742.8 L392.2 1742.4 L392.6 1742.3 L393.0 1741.6 L393.4 1742.1 L393.8 1741.9 L394.2 1742.5 L394.6 1741.7 L395.0 1743.1 L395.4 1743.2 L395.8 1743.1 L396.2 1742.9 L396.6 1743.7 L397.0 1741.8 L397.4 1743.3 L397.8 1743.1 L398.2 1743.1 L398.6 1743.3 L399.0 1742.5 L399.4 1742.9 L399.8 1743.7 L400.2 1743.6 L400.6 1743.3 L401.0 1741.9 L401.4 1743.5 L401.8 1743.9 L402.2 1743.8 L402.6 1743.3 L403.0 1741.9 L403.4 1744.0 L403.8 1743.2 L404.2 1741.3 L404.6 1743.6 L405.0 1742.0 L405.4 1742.1 L405.8 1742.6 L406.2 1744.1 L406.6 1742.9 L407.0 1743.4 L407.4 1744.6 L407.8 1744.4 L408.2 1742.9 L408.6 1742.8 L409.0 1742.0 L409.4 1742.6 L409.8 1743.7 L410.2 1743.8 L410.6 1743.6 L411.0 1744.3 L411.4 1742.9 L411.8 1743.5 L412.2 1744.2 L412.6 1744.1 L413.0 1744.5 L413.4 1743.8 L413.8 1743.1 L414.2 1743.6 L414.6 1742.5 L415.0 1742.0 L415.4 1743.9 L415.8 1743.4 L416.2 1743.7 L416.6 1742.2 L417.0 1743.3 L417.4 1743.1 L417.8 1743.0 L418.2 1742.0 L418.6 1743.6 L419.0 1744.5 L419.4 1744.1 L419.8 1743.2 L420.2 1743.6 L420.6 1744.1 L421.0 1741.4 L421.4 1743.6 L421.8 1744.3 L422.2 1744.6 L422.6 1745.6 L423.0 1745.2 L423.4 1744.6 L423.8 1744.5 L424.2 1744.9 L424.6 1743.8 L425.0 1744.1 L425.4 1744.8 L425.8 1745.6 L426.2 1744.0 L426.6 1744.2 L427.0 1744.5 L427.4 1745.4 L427.8 1744.3 L428.2 1745.5 L428.6 1743.5 L429.0 1744.2 L429.4 1744.1 L429.8 1744.9 L430.2 1745.1 L430.6 1743.1 L431.0 1743.7 L431.4 1744.8 L431.8 1744.1 L432.2 1743.5 L432.6 1745.5 L433.0 1745.0 L433.4 1745.0 L433.8 1744.2 L434.2 1745.4 L434.6 1744.5 L435.0 1745.6 L435.4 1744.1 L435.8 1744.2 L436.2 1744.9 L436.6 1744.1 L437.0 1745.2 L437.4 1744.8 L437.8 1743.9 L438.2 1744.8 L438.6 1744.4 L439.0 1745.5 L439.4 1744.3 L439.8 1744.5 L440.2 1745.9 L440.6 1746.8 L441.0 1746.7 L441.4 1745.2 L441.8 1745.3 L442.2 1746.3 L442.6 1744.8 L443.0 1744.1 L443.4 1745.0 L443.8 1745.3 L444.2 1744.3 L444.6 1743.7 L445.0 1743.9 L445.4 1745.7 L445.8 1744.6 L446.2 1745.2 L446.6 1745.5 L447.0 1745.7 L447.4 1744.8 L447.8 1745.4 L448.2 1744.3 L448.6 1744.7 L449.0 1744.3 L449.4 1746.2 L449.8 1745.4 L450.2 1745.0 L450.6 1745.3 L451.0 1745.4 L451.4 1746.1 L451.8 1744.3 L452.2 1744.8 L452.6 1745.3 L453.0 1747.6 L453.4 1746.3 L453.8 1745.5 L454.2 1746.2 L454.6 1747.4 L455.0 1745.7 L455.4 1745.7 L455.8 1746.9 L456.2 1746.3 L456.6 1746.5 L457.0 1745.6 L457.4 1747.4 L457.8 1747.2 L458.2 1746.3 L458.6 1746.3 L459.0 1744.2 L459.4 1746.3 L459.8 1745.7 L460.2 1746.2 L460.6 1746.4 L461.0 1745.8 L461.4 1745.0 L461.8 1746.8 L462.2 1746.2 L462.6 1746.5 L463.0 1746.2 L463.4 1746.3 L463.8 1744.6 L464.2 1747.3 L464.6 1746.5 L465.0 1747.2 L465.4 1747.8 L465.8 1746.3 L466.2 1744.8 L466.6 1745.6 L467.0 1745.5 L467.4 1746.3 L467.8 1746.8 L468.2 1745.2 L468.6 1747.0 L469.0 1745.4 L469.4 1746.7 L469.8 1746.4 L470.2 1746.3 L470.6 1746.6 L471.0 1746.3 L471.4 1746.4 L471.8 1745.6 L472.2 1746.9 L472.6 1748.4 L473.0 1748.5 L473.4 1748.0 L473.8 1747.5 L474.2 1746.4 L474.6 1748.0 L475.0 1746.9 L475.4 1746.9 L475.8 1746.8 L476.2 1747.0 L476.6 1746.6 L477.0 1746.8 L477.4 1746.2 L477.8 1746.9 L478.2 1749.0 L478.6 1747.3 L479.0 1747.2 L479.4 1747.7 L479.8 1747.7 L480.2 1746.4 L480.6 1747.1 L481.0 1748.0 L481.4 1747.5 L481.8 1747.4 L482.2 1748.4 L482.6 1746.8 L483.0 1747.4 L483.4 1747.0 L483.8 1748.5 L484.2 1745.9 L484.6 1746.9 L485.0 1747.1 L485.4 1748.0 L485.8 1747.9 L486.2 1748.5 L486.6 1746.2 L487.0 1748.0 L487.4 1747.3 L487.8 1747.1 L488.2 1748.0 L488.6 1746.9 L489.0 1746.1 L489.4 1747.5 L489.8 1746.7 L490.2 1747.4 L490.6 1748.1 L491.0 1748.0 L491.4 1748.9 L491.8 1747.6 L492.2 1746.7 L492.6 1747.3 L493.0 1747.2 L493.4 1747.0 L493.8 1748.2 L494.2 1747.5 L494.6 1746.5 L495.0 1748.5 L495.4 1747.8 L495.8 1748.1 L496.2 1747.9 L496.6 1748.3 L497.0 1748.0 L497.4 1749.0 L497.8 1748.5 L498.2 1748.5 L498.6 1748.5 L499.0 1747.1 L499.4 1747.9 L499.8 1747.8 L500.2 1748.1 L500.6 1747.0 L501.0 1749.2 L501.4 1748.1 L501.8 1747.2 L502.2 1746.8 L502.6 1747.8 L503.0 1747.9 L503.4 1747.4 L503.8 1748.1 L504.2 1747.7 L504.6 1748.6 L505.0 1747.8 L505.4 1748.2 L505.8 1748.9 L506.2 1750.0 L506.6 1747.5 L507.0 1747.9 L507.4 1747.7 L507.8 1748.8 L508.2 1747.5 L508.6 1748.0 L509.0 1748.3 L509.4 1747.7 L509.8 1747.7 L510.2 1748.1 L510.6 1747.0 L511.0 1747.6 L511.4 1748.4 L511.8 1748.9 L512.2 1748.7 L512.6 1747.5 L513.0 1748.4 L513.4 1749.2 L513.8 1749.0 L514.2 1748.5 L514.6 1747.9 L515.0 1748.8 L515.4 1748.0 L515.8 1747.6 L516.2 1747.8 L516.6 1749.4 L517.0 1748.8 L517.4 1749.6 L517.8 1748.7 L518.2 1749.7 L518.6 1748.6 L519.0 1748.8 L519.4 1750.3 L519.8 1749.1 L520.2 1748.3 L520.6 1748.6 L521.0 1748.9 L521.4 1749.5 L521.8 1748.5 L522.2 1747.9 L522.6 1748.9 L523.0 1749.2 L523.4 1749.3 L523.8 1750.1 L524.2 1749.5 L524.6 1749.7 L525.0 1748.4 L525.4 1749.5 L525.8 1750.2 L526.2 1749.5 L526.6 1749.2 L527.0 1749.2 L527.4 1750.3 L527.8 1748.7 L528.2 1749.3 L528.6 1749.7 L529.0 1749.8 L529.4 1749.0 L529.8 1749.3 L530.2 1748.9 L530.6 1749.1 L531.0 1748.9 L531.4 1748.3 L531.8 1749.0 L532.2 1749.6 L532.6 1748.6 L533.0 1749.1 L533.4 1749.6 L533.8 1748.6 L534.2 1749.4 L534.6 1748.9 L535.0 1750.2 L535.4 1750.8 L535.8 1750.5 L536.2 1749.2 L536.6 1749.6 L537.0 1749.3 L537.4 1749.4 L537.8 1750.3 L538.2 1748.9 L538.6 1750.3 L539.0 1749.8 L539.4 1750.5 L539.8 1749.7 L540.2 1749.0 L540.6 1749.4 L541.0 1749.5 L541.4 1749.1 L541.8 1749.3 L542.2 1748.9 L542.6 1748.2 L543.0 1749.8 L543.4 1749.9 L543.8 1749.7 L544.2 1749.7 L544.6 1750.2 L545.0 1749.5 L545.4 1749.5 L545.8 1749.7 L546.2 1750.4 L546.6 1749.1 L547.0 1750.3 L547.4 1749.4 L547.8 1749.1 L548.2 1750.3 L548.6 1749.6 L549.0 1749.0 L549.4 1749.4 L549.8 1750.0 L550.2 1750.2 L550.6 1749.5 L551.0 1749.8 L551.4 1749.9 L551.8 1749.2 L552.2 1749.6 L552.6 1749.3 L553.0 1749.2 L553.4 1749.3 L553.8 1749.6 L554.2 1749.6 L554.6 1749.4 L555.0 1749.6 L555.4 1750.3 L555.8 1749.9 L556.2 1750.2 L556.6 1750.3 L557.0 1750.0 L557.4 1750.7 L557.8 1749.4 L558.2 1750.2 L558.6 1749.8 L559.0 1750.7 L559.4 1750.5 L559.8 1748.9 L560.2 1749.3 L560.6 1749.9 L561.0 1750.0 L561.4 1750.0 L561.8 1749.8 L562.2 1750.0 L562.6 1750.2 L563.0 1749.9 L563.4 1750.4 L563.8 1749.1 L564.2 1750.1 L564.6 1749.3 L565.0 1749.9 L565.4 1749.3 L565.8 1749.0 L566.2 1749.5 L566.6 1749.0 L567.0 1749.0 L567.4 1748.7 L567.8 1749.3 L568.2 1749.4 L568.6 1749.5 L569.0 1749.1 L569.4 1749.5 L569.8 1749.2 L570.2 1749.3 L570.6 1749.7 L571.0 1750.1 L571.4 1749.7 L571.8 1749.7 L572.2 1749.6 L572.6 1749.6 L573.0 1749.1 L573.4 1749.6 L573.8 1749.0 L574.2 1749.2 L574.6 1748.7 L575.0 1749.0 L575.4 1749.0 L575.8 1748.6 L576.2 1749.4 L576.6 1748.8 L577.0 1749.2 L577.4 1748.9 L577.8 1748.2 L578.2 1748.2 L578.6 1748.4 L579.0 1748.2 L579.4 1748.1 L579.8 1747.9 L580.2 1747.3 L580.6 1747.7 L581.0 1746.9 L581.4 1747.7 L581.8 1747.3 L582.2 1747.1 L582.6 1747.1 L583.0 1747.1 L583.4 1746.4 L583.8 1746.2 L584.2 1746.3 L584.6 1745.8 L585.0 1746.0 L585.4 1746.6 L585.8 1745.5 L586.2 1745.7 L586.6 1744.8 L587.0 1744.9 L587.4 1744.4 L587.8 1744.3 L588.2 1744.1 L588.6 1744.0 L589.0 1742.8 L589.4 1741.5 L589.8 1739.1 L590.2 1735.6 L590.6 1728.0 L591.0 1714.9 L591.4 1692.2 L591.8 1658.1 L592.2 1608.6 L592.6 1547.7 L593.0 1478.7 L593.4 1410.2 L593.8 1354.9 L594.2 1323.9 L594.4 1319.6 L594.6 1324.1 L595.0 1355.8 L595.4 1410.7 L595.8 1478.1 L596.2 1547.5 L596.6 1609.0 L597.0 1657.9 L597.4 1692.0 L597.8 1714.7 L598.2 1728.6 L598.6 1736.2 L599.0 1740.0 L599.4 1741.9 L599.8 1742.8 L600.2 1743.3 L600.6 1742.8 L601.0 1742.9 L601.4 1741.3 L601.8 1739.6 L602.2 1737.1 L602.6 1733.0 L603.0 1727.8 L603.4 1723.5 L603.8 1719.1 L604.2 1715.4 L604.6 1713.9 L604.7 1714.0 L605.0 1714.4 L605.4 1718.1 L605.8 1721.6 L606.2 1727.2 L606.6 1732.7 L607.0 1737.5 L607.4 1741.5 L607.8 1744.3 L608.2 1746.0 L608.6 1747.4 L609.0 1747.2 L609.4 1748.0 L609.8 1748.1 L610.2 1748.6 L610.6 1748.7 L611.0 1748.6 L611.4 1748.8 L611.8 1749.4 L612.2 1749.5 L612.6 1749.5 L613.0 1750.2 L613.4 1750.3 L613.8 1749.4 L614.2 1749.8 L614.6 1750.3 L615.0 1749.9 L615.4 1749.7 L615.8 1749.6 L616.2 1749.4 L616.6 1749.4 L617.0 1749.3 L617.4 1749.6 L617.8 1749.4 L618.2 1749.5 L618.6 1749.5 L619.0 1749.8 L619.4 1749.7 L619.8 1749.8 L620.2 1750.0 L620.6 1749.8 L621.0 1749.8 L621.4 1749.8 L621.8 1749.8 L622.2 1749.9 L622.6 1749.9 L623.0 1750.2 L623.4 1749.7 L623.8 1750.3 L624.2 1750.0 L624.6 1749.9 L625.0 1750.0 L625.4 1749.9 L625.8 1749.8 L626.2 1749.2 L626.6 1749.3 L627.0 1748.7 L627.4 1748.3 L627.8 1748.6 L628.2 1748.4 L628.5 1748.9 L628.6 1749.0 L629.0 1748.9 L629.4 1748.4 L629.8 1748.5 L630.2 1749.2 L630.6 1749.1 L631.0 1749.4 L631.4 1749.8 L631.8 1750.3 L632.2 1750.2 L632.6 1750.0 L633.0 1750.1 L633.4 1750.2 L633.8 1750.0 L634.2 1749.9 L634.6 1750.1 L635.0 1749.8 L635.4 1749.9 L635.8 1749.8 L636.2 1750.1 L636.6 1749.2 L637.0 1749.1 L637.4 1748.9 L637.8 1749.0 L638.2 1749.1 L638.6 1748.7 L639.0 1748.6 L639.0 1748.4 L639.4 1748.6 L639.8 1749.0 L640.2 1749.0 L640.6 1748.9 L641.0 1749.2 L641.4 1749.4 L641.8 1749.7 L642.2 1749.7 L642.6 1750.0 L643.0 1749.8 L643.4 1750.0 L643.8 1750.6 L644.2 1749.7 L644.6 1749.9 L645.0 1749.9 L645.4 1749.7 L645.8 1749.6 L646.2 1749.7 L646.6 1749.7 L647.0 1749.6 L647.4 1749.1 L647.8 1749.4 L648.2 1749.1 L648.6 1749.2 L649.0 1749.2 L649.4 1749.1 L649.8 1748.8 L650.2 1748.2 L650.6 1748.1 L651.0 1747.7 L651.4 1747.2 L651.8 1746.8 L652.2 1745.9 L652.6 1745.1 L653.0 1744.6 L653.4 1743.2 L653.8 1742.6 L654.2 1741.4 L654.6 1740.5 L655.0 1739.3 L655.4 1738.7 L655.8 1738.0 L656.2 1737.4 L656.6 1736.6 L657.0 1735.6 L657.4 1734.9 L657.8 1734.2 L658.2 1734.1 L658.6 1733.8 L659.0 1734.0 L659.0 1734.3 L659.4 1734.1 L659.8 1733.9 L660.2 1734.3 L660.6 1734.5 L661.0 1735.0 L661.4 1736.2 L661.8 1736.7 L662.2 1737.2 L662.6 1738.5 L663.0 1739.4 L663.4 1739.9 L663.8 1740.5 L664.2 1741.4 L664.6 1742.3 L665.0 1743.1 L665.4 1743.9 L665.8 1744.4 L666.2 1744.7 L666.6 1744.9 L667.0 1744.9 L667.4 1744.6 L667.8 1745.0 L668.2 1745.0 L668.6 1744.5 L669.0 1743.8 L669.4 1741.5 L669.8 1737.7 L670.2 1731.9 L670.6 1722.1 L671.0 1708.3 L671.4 1690.6 L671.8 1669.6 L672.2 1647.5 L672.6 1627.4 L673.0 1614.0 L673.4 1609.2 L673.4 1609.0 L673.8 1614.3 L674.2 1628.2 L674.6 1647.5 L675.0 1669.4 L675.4 1691.1 L675.8 1708.7 L676.2 1722.5 L676.6 1732.6 L677.0 1739.1 L677.4 1742.6 L677.8 1745.1 L678.2 1746.1 L678.6 1746.8 L679.0 1747.5 L679.4 1747.9 L679.8 1747.7 L680.2 1748.0 L680.6 1748.0 L681.0 1748.7 L681.4 1748.2 L681.8 1748.8 L682.2 1748.6 L682.6 1748.7 L683.0 1748.9 L683.4 1749.1 L683.8 1749.3 L684.2 1749.3 L684.6 1749.2 L685.0 1749.2 L685.4 1749.4 L685.8 1749.4 L686.2 1749.6 L686.6 1749.4 L687.0 1749.6 L687.4 1749.8 L687.8 1749.7 L688.2 1749.5 L688.6 1749.7 L689.0 1749.7 L689.4 1750.4 L689.8 1749.9 L690.2 1750.3 L690.6 1750.2 L691.0 1750.4 L691.4 1750.3 L691.8 1750.1 L692.2 1750.1 L692.6 1750.1 L693.0 1750.1 L693.4 1750.0 L693.8 1750.2 L694.2 1750.7 L694.6 1750.2 L695.0 1750.7 L695.4 1750.6 L695.8 1750.8 L696.2 1750.9 L696.6 1750.7 L697.0 1750.8 L697.4 1750.3 L697.8 1750.8 L698.2 1750.5 L698.6 1750.7 L699.0 1750.5 L699.4 1749.9 L699.8 1750.1 L700.2 1750.1 L700.6 1750.1 L701.0 1749.6 L701.4 1749.3 L701.8 1748.8 L702.2 1749.1 L702.6 1749.0 L703.0 1748.3 L703.4 1748.1 L703.8 1747.6 L704.2 1748.1 L704.3 1748.5 L704.6 1748.1 L705.0 1748.4 L705.4 1748.4 L705.8 1748.3 L706.2 1749.1 L706.6 1748.8 L707.0 1749.2 L707.4 1749.6 L707.8 1750.0 L708.2 1750.2 L708.6 1750.5 L709.0 1750.5 L709.4 1750.5 L709.8 1750.7 L710.2 1750.5 L710.6 1750.4 L711.0 1750.4 L711.4 1750.7 L711.8 1750.5 L712.2 1750.6 L712.6 1750.5 L713.0 1750.9 L713.4 1750.9 L713.8 1751.2 L714.2 1750.4 L714.6 1750.5 L715.0 1750.8 L715.4 1750.6 L715.8 1750.6 L716.2 1751.0 L716.6 1750.6 L717.0 1750.4 L717.4 1750.4 L717.8 1750.9 L718.2 1751.0 L718.6 1750.7 L719.0 1750.8 L719.4 1750.9 L719.8 1750.8 L720.2 1750.5 L720.6 1750.9 L721.0 1750.9 L721.4 1750.6 L721.8 1750.9 L722.2 1751.1 L722.6 1750.9 L723.0 1750.7 L723.4 1751.1 L723.8 1751.3 L724.2 1751.5 L724.6 1750.7 L725.0 1751.6 L725.4 1750.9 L725.8 1751.3 L726.2 1751.3 L726.6 1751.2 L727.0 1751.0 L727.4 1750.7 L727.8 1751.2 L728.2 1750.9 L728.6 1750.6 L729.0 1751.6 L729.4 1751.0 L729.8 1751.1 L730.2 1750.6 L730.6 1751.1 L731.0 1751.3 L731.4 1751.4 L731.8 1751.1 L732.2 1750.9 L732.6 1751.0 L733.0 1750.5 L733.4 1750.6 L733.8 1751.0 L734.2 1750.9 L734.6 1751.1 L735.0 1751.2 L735.4 1751.7 L735.8 1751.6 L736.2 1751.2 L736.6 1751.3 L737.0 1750.8 L737.4 1750.9 L737.8 1751.2 L738.2 1750.9 L738.6 1751.1 L739.0 1750.9 L739.4 1751.0 L739.8 1751.3 L740.2 1750.8 L740.6 1751.0 L741.0 1750.7 L741.4 1750.7 L741.8 1750.6 L742.2 1751.2 L742.6 1751.5 L743.0 1751.2 L743.4 1751.0 L743.8 1751.2 L744.2 1750.9 L744.6 1751.1 L745.0 1751.0 L745.4 1751.0 L745.8 1751.2 L746.2 1751.1 L746.6 1751.3 L747.0 1751.2 L747.4 1751.6 L747.8 1751.4 L748.2 1751.6 L748.6 1751.3 L749.0 1751.4 L749.4 1751.4 L749.8 1750.9 L750.2 1751.1 L750.6 1751.1 L751.0 1751.6 L751.4 1751.8 L751.8 1751.6 L752.2 1751.3 L752.6 1751.5 L753.0 1750.8 L753.4 1751.4 L753.8 1750.9 L754.2 1750.5 L754.6 1751.7 L755.0 1751.5 L755.4 1750.9 L755.8 1751.0 L756.2 1750.9 L756.6 1751.0 L757.0 1750.7 L757.4 1751.0 L757.8 1751.3 L758.2 1751.2 L758.6 1751.2 L759.0 1751.0 L759.4 1751.4 L759.8 1750.9 L760.2 1751.2 L760.6 1750.9 L761.0 1751.1 L761.4 1751.7 L761.8 1751.2 L762.2 1751.4 L762.6 1751.2 L763.0 1750.9 L763.4 1750.9 L763.8 1750.9 L764.2 1750.9 L764.6 1751.2 L765.0 1751.2 L765.4 1751.1 L765.8 1751.0 L766.2 1751.2 L766.6 1751.0 L767.0 1751.1 L767.4 1751.3 L767.8 1751.0 L768.2 1751.0 L768.6 1751.0 L769.0 1750.8 L769.4 1750.7 L769.8 1750.6 L770.2 1750.7 L770.6 1750.9 L771.0 1751.4 L771.4 1751.3 L771.8 1751.4 L772.2 1751.1 L772.6 1751.6 L773.0 1751.2 L773.4 1751.3 L773.8 1751.2 L774.2 1751.4 L774.6 1751.2 L775.0 1751.4 L775.4 1751.8 L775.8 1751.0 L776.2 1751.5 L776.6 1751.7 L777.0 1751.6 L777.4 1751.7 L777.8 1751.8 L778.2 1751.3 L778.6 1751.4 L779.0 1751.0 L779.4 1751.1 L779.8 1751.2 L780.2 1751.3 L780.6 1751.3 L781.0 1751.3 L781.4 1750.8 L781.8 1751.5 L782.2 1751.4 L782.6 1751.4 L783.0 1751.1 L783.4 1751.1 L783.8 1751.1 L784.2 1751.1 L784.6 1750.7 L785.0 1751.3 L785.4 1751.8 L785.8 1750.8 L786.2 1751.3 L786.6 1751.1 L787.0 1751.0 L787.4 1751.4 L787.8 1750.9 L788.2 1751.3 L788.6 1751.6 L789.0 1751.3 L789.4 1751.2 L789.8 1751.3 L790.2 1751.2 L790.6 1751.5 L791.0 1750.9 L791.4 1751.2 L791.8 1750.7 L792.2 1751.0 L792.6 1750.9 L793.0 1750.4 L793.4 1750.9 L793.8 1750.7 L794.2 1750.9 L794.6 1751.5 L795.0 1751.1 L795.4 1751.2 L795.8 1751.8 L796.2 1751.4 L796.6 1751.6 L797.0 1751.3 L797.4 1751.1 L797.8 1751.3 L798.2 1751.6 L798.6 1751.5 L799.0 1751.3 L799.4 1751.2 L799.8 1751.3 L800.2 1751.2 L800.6 1751.8 L801.0 1751.3 L801.4 1750.9 L801.8 1751.0 L802.2 1751.2 L802.6 1751.2 L803.0 1751.1 L803.4 1751.1 L803.8 1751.2 L804.2 1750.8 L804.6 1750.9 L805.0 1751.3 L805.4 1751.0 L805.8 1751.2 L806.2 1751.3 L806.6 1751.2 L807.0 1751.1 L807.4 1751.6 L807.8 1751.3 L808.2 1751.0 L808.6 1751.2 L809.0 1751.1 L809.4 1750.8 L809.8 1750.9 L810.2 1750.9 L810.6 1750.5 L811.0 1750.8 L811.4 1750.9 L811.8 1751.0 L812.2 1750.8 L812.6 1751.1 L813.0 1751.2 L813.4 1751.3 L813.8 1751.1 L814.2 1751.6 L814.6 1751.3 L815.0 1751.5 L815.4 1751.7 L815.8 1751.1 L816.2 1751.0 L816.6 1751.3 L817.0 1750.9 L817.4 1751.0 L817.8 1751.1 L818.2 1751.3 L818.6 1750.7 L819.0 1751.0 L819.4 1750.9 L819.8 1750.9 L820.2 1750.9 L820.6 1750.9 L821.0 1751.2 L821.4 1750.9 L821.8 1751.1 L822.2 1751.1 L822.6 1750.9 L823.0 1751.1 L823.4 1751.4 L823.8 1751.2 L824.2 1750.9 L824.6 1750.9 L825.0 1750.6 L825.4 1750.8 L825.8 1750.9 L826.2 1750.7 L826.6 1750.9 L827.0 1751.2 L827.4 1750.9 L827.8 1751.0 L828.2 1750.7 L828.6 1750.8 L829.0 1750.9 L829.4 1751.5 L829.8 1751.1 L830.2 1751.1 L830.6 1751.1 L831.0 1751.2 L831.4 1751.3 L831.8 1751.1 L832.2 1751.5 L832.6 1751.1 L833.0 1751.3 L833.4 1751.0 L833.8 1750.9 L834.2 1750.5 L834.6 1750.7 L835.0 1750.8 L835.4 1750.8 L835.8 1750.4 L836.2 1751.0 L836.6 1750.7 L837.0 1750.8 L837.4 1751.0 L837.8 1751.1 L838.2 1751.3 L838.6 1750.9 L839.0 1750.8 L839.4 1751.0 L839.8 1750.9 L840.2 1750.8 L840.6 1750.9 L841.0 1750.9 L841.4 1751.1 L841.8 1751.4 L842.2 1751.0 L842.6 1751.6 L843.0 1751.5 L843.4 1751.2 L843.8 1751.4 L844.2 1750.8 L844.6 1750.6 L845.0 1750.6 L845.4 1750.7 L845.8 1750.7 L846.2 1750.8 L846.6 1751.0 L847.0 1750.7 L847.4 1751.3 L847.8 1751.0 L848.2 1751.1 L848.6 1751.0 L849.0 1750.7 L849.4 1750.6 L849.8 1750.7 L850.2 1750.9 L850.6 1751.1 L851.0 1751.3 L851.4 1751.1 L851.8 1751.3 L852.2 1751.4 L852.6 1751.7 L853.0 1751.1 L853.4 1751.5 L853.8 1750.9 L854.2 1750.7 L854.6 1750.8 L855.0 1750.9 L855.4 1750.9 L855.8 1751.1 L856.2 1751.0 L856.6 1751.3 L857.0 1751.2 L857.4 1750.9 L857.8 1751.1 L858.2 1750.9 L858.6 1751.0 L859.0 1750.9 L859.4 1751.1 L859.8 1751.4 L860.2 1750.9 L860.6 1751.2 L861.0 1751.1 L861.4 1751.0 L861.8 1750.5 L862.2 1750.8 L862.6 1751.0 L863.0 1750.7 L863.4 1750.9 L863.8 1750.4 L864.2 1751.1 L864.6 1750.8 L865.0 1751.1 L865.4 1750.6 L865.8 1751.1 L866.2 1751.0 L866.6 1751.2 L867.0 1750.9 L867.4 1750.9 L867.8 1751.4 L868.2 1750.7 L868.6 1750.7 L869.0 1750.9 L869.4 1750.9 L869.8 1751.4 L870.2 1751.4 L870.6 1750.9 L871.0 1750.6 L871.4 1751.3 L871.8 1751.4 L872.2 1751.4 L872.6 1751.6 L873.0 1751.1 L873.4 1751.2 L873.8 1751.0 L874.2 1751.0 L874.6 1751.5 L875.0 1751.1 L875.4 1751.7 L875.8 1751.3 L876.2 1751.2 L876.6 1751.5 L877.0 1751.6 L877.4 1751.2 L877.8 1750.8 L878.2 1751.1 L878.6 1751.4 L879.0 1751.1 L879.4 1751.2 L879.8 1751.5 L880.2 1751.2 L880.6 1750.8 L881.0 1750.9 L881.4 1750.8 L881.8 1751.0 L882.2 1751.0 L882.6 1751.3 L883.0 1751.3 L883.4 1750.8 L883.8 1751.1 L884.2 1751.1 L884.6 1750.9 L885.0 1750.9 L885.4 1750.6 L885.8 1750.6 L886.2 1751.1 L886.6 1750.8 L887.0 1750.6 L887.4 1751.3 L887.8 1750.9 L888.2 1751.0 L888.6 1750.8 L889.0 1750.8 L889.4 1751.0 L889.8 1751.2 L890.2 1751.3 L890.6 1750.8 L891.0 1751.4 L891.4 1751.0 L891.8 1751.0 L892.2 1751.3 L892.6 1751.0 L893.0 1750.6 L893.4 1751.2 L893.8 1750.6 L894.2 1750.9 L894.6 1750.9 L895.0 1751.2 L895.4 1750.9 L895.8 1751.3 L896.2 1751.0 L896.6 1751.4 L897.0 1751.0 L897.4 1751.0 L897.8 1751.4 L898.2 1751.0 L898.6 1750.8 L899.0 1751.1 L899.4 1750.6 L899.8 1750.3 L900.2 1750.6 L900.6 1750.4 L901.0 1750.9 L901.4 1750.9 L901.8 1750.6 L902.2 1750.5 L902.6 1750.7 L903.0 1750.6 L903.4 1750.4 L903.8 1750.8 L904.2 1750.2 L904.6 1750.5 L905.0 1750.4 L905.4 1750.4 L905.8 1750.6 L906.2 1750.2 L906.6 1750.6 L907.0 1750.4 L907.4 1750.3 L907.8 1750.2 L908.2 1750.3 L908.6 1750.7 L909.0 1750.3 L909.4 1750.4 L909.8 1750.4 L910.2 1750.3 L910.6 1750.3 L911.0 1750.0 L911.4 1750.0 L911.8 1750.5 L912.2 1750.4 L912.6 1750.6 L913.0 1750.4 L913.4 1750.5 L913.8 1750.3 L914.2 1750.1 L914.6 1749.9 L915.0 1749.8 L915.4 1749.7 L915.8 1749.7 L916.2 1749.8 L916.6 1749.4 L917.0 1749.7 L917.4 1749.0 L917.8 1749.0 L918.2 1748.6 L918.6 1748.4 L919.0 1748.7 L919.4 1748.1 L919.8 1747.6 L920.2 1747.3 L920.6 1746.9 L921.0 1746.8 L921.4 1745.3 L921.8 1743.8 L922.2 1740.8 L922.6 1737.2 L923.0 1732.0 L923.4 1725.3 L923.8 1716.2 L924.2 1706.4 L924.6 1695.5 L925.0 1684.3 L925.4 1674.6 L925.8 1666.7 L926.2 1661.5 L926.5 1661.0 L926.6 1661.1 L927.0 1663.9 L927.4 1670.2 L927.8 1679.9 L928.2 1690.3 L928.6 1701.4 L929.0 1712.0 L929.4 1720.9 L929.8 1728.9 L930.2 1734.6 L930.6 1739.0 L931.0 1742.1 L931.4 1744.3 L931.8 1745.9 L932.2 1746.6 L932.6 1747.1 L933.0 1747.5 L933.4 1748.0 L933.8 1748.1 L934.2 1748.4 L934.6 1748.7 L935.0 1748.8 L935.4 1749.0 L935.8 1749.1 L936.2 1749.8 L936.6 1749.8 L937.0 1749.7 L937.4 1749.6 L937.8 1750.2 L938.2 1749.9 L938.6 1749.8 L939.0 1750.0 L939.4 1749.9 L939.8 1750.2 L940.2 1749.9 L940.6 1750.4 L941.0 1749.9 L941.4 1750.3 L941.8 1750.0 L942.2 1750.7 L942.6 1750.4 L943.0 1750.5 L943.4 1750.7 L943.8 1750.7 L944.2 1750.2 L944.6 1750.4 L945.0 1750.1 L945.4 1750.4 L945.8 1750.4 L946.2 1750.3 L946.6 1750.2 L947.0 1750.3 L947.4 1750.2 L947.8 1750.6 L948.2 1750.8 L948.6 1750.2 L949.0 1750.6 L949.4 1750.6 L949.8 1750.7 L950.2 1750.5 L950.6 1750.6 L951.0 1750.4 L951.4 1750.7 L951.8 1750.5 L952.2 1750.5 L952.6 1750.6 L953.0 1750.5 L953.4 1750.2 L953.8 1750.6 L954.2 1750.6 L954.6 1750.7 L955.0 1751.1 L955.4 1751.3 L955.8 1750.9 L956.2 1750.9 L956.6 1751.3 L957.0 1751.2 L957.4 1750.7 L957.8 1750.6 L958.2 1750.7 L958.6 1750.7 L959.0 1750.3 L959.4 1750.5 L959.8 1750.2 L960.2 1750.2 L960.6 1750.7 L961.0 1750.4 L961.4 1750.6 L961.8 1750.8 L962.2 1750.8 L962.6 1750.6 L963.0 1750.6 L963.4 1750.3 L963.8 1750.7 L964.2 1750.4 L964.6 1749.9 L965.0 1750.0 L965.4 1750.0 L965.8 1749.7 L966.2 1749.9 L966.6 1749.6 L967.0 1749.1 L967.4 1749.0 L967.8 1748.7 L968.2 1748.9 L968.6 1748.7 L969.0 1749.1 L969.4 1748.5 L969.8 1748.0 L970.2 1748.3 L970.6 1748.5 L970.7 1748.2 L971.0 1748.2 L971.4 1748.2 L971.8 1748.3 L972.2 1748.4 L972.6 1748.4 L973.0 1749.0 L973.4 1749.0 L973.8 1749.3 L974.2 1749.3 L974.6 1749.6 L975.0 1750.1 L975.4 1749.8 L975.8 1750.2 L976.2 1750.5 L976.6 1750.3 L977.0 1750.5 L977.4 1750.4 L977.8 1750.9 L978.2 1750.9 L978.6 1750.7 L979.0 1750.3 L979.4 1750.3 L979.8 1750.7 L980.2 1750.9 L980.6 1750.7 L981.0 1751.0 L981.4 1750.7 L981.8 1750.8 L982.2 1750.9 L982.6 1751.0 L983.0 1750.6 L983.4 1751.1 L983.8 1751.2 L984.2 1750.7 L984.6 1750.6 L985.0 1750.8 L985.4 1750.6 L985.8 1750.3 L986.2 1751.1 L986.6 1751.1 L987.0 1751.0 L987.4 1751.6 L987.8 1751.2 L988.2 1751.0 L988.6 1751.2 L989.0 1751.0 L989.4 1751.2 L989.8 1751.5 L990.2 1751.4 L990.6 1751.4 L991.0 1751.7 L991.4 1751.4 L991.8 1751.2 L992.2 1751.1 L992.6 1751.1 L993.0 1751.4 L993.4 1751.2 L993.8 1751.6 L994.2 1751.1 L994.6 1751.2 L995.0 1751.0 L995.4 1751.2 L995.8 1751.3 L996.2 1751.5 L996.6 1751.0 L997.0 1751.2 L997.4 1751.1 L997.8 1751.1 L998.2 1751.0 L998.6 1751.1 L999.0 1750.6 L999.4 1750.9 L999.8 1750.8 L1000.2 1750.7 L1000.6 1750.8 L1001.0 1750.8 L1001.4 1751.4 L1001.8 1750.7 L1002.2 1751.3 L1002.6 1751.2 L1003.0 1751.1 L1003.4 1751.0 L1003.8 1751.5 L1004.2 1751.6 L1004.6 1751.1 L1005.0 1751.2 L1005.4 1751.4 L1005.8 1751.2 L1006.2 1751.5 L1006.6 1750.9 L1007.0 1751.1 L1007.4 1750.8 L1007.8 1751.4 L1008.2 1750.9 L1008.6 1750.5 L1009.0 1750.8 L1009.4 1750.8 L1009.8 1751.2 L1010.2 1750.8 L1010.6 1751.0 L1011.0 1751.2 L1011.4 1751.5 L1011.8 1751.2 L1012.2 1751.4 L1012.6 1751.3 L1013.0 1751.0 L1013.4 1750.9 L1013.8 1750.8 L1014.2 1750.6 L1014.6 1751.2 L1015.0 1750.8 L1015.4 1751.4 L1015.8 1751.4 L1016.2 1751.2 L1016.6 1751.0 L1017.0 1750.9 L1017.4 1751.0 L1017.8 1751.0 L1018.2 1750.9 L1018.6 1751.1 L1019.0 1750.8 L1019.4 1751.0 L1019.8 1750.7 L1020.2 1751.3 L1020.6 1751.3 L1021.0 1751.3 L1021.4 1751.7 L1021.8 1751.5 L1022.2 1750.8 L1022.6 1751.2 L1023.0 1750.9 L1023.4 1751.4 L1023.8 1751.6 L1024.2 1751.0 L1024.6 1751.1 L1025.0 1751.1 L1025.4 1751.2 L1025.8 1751.3 L1026.2 1751.3 L1026.6 1750.8 L1027.0 1751.1 L1027.4 1750.5 L1027.8 1750.8 L1028.2 1751.0 L1028.6 1750.9 L1029.0 1750.6 L1029.4 1750.6 L1029.8 1750.7 L1030.2 1750.8 L1030.6 1751.2 L1031.0 1750.8 L1031.4 1751.2 L1031.8 1751.3 L1032.2 1751.3 L1032.6 1751.4 L1033.0 1751.7 L1033.4 1751.6 L1033.8 1751.6 L1034.2 1751.4 L1034.6 1751.5 L1035.0 1750.5 L1035.4 1751.0 L1035.8 1750.6 L1036.2 1750.6 L1036.6 1750.6 L1037.0 1750.5 L1037.4 1750.8 L1037.8 1750.7 L1038.2 1750.9 L1038.6 1750.4 L1039.0 1750.9 L1039.4 1750.7 L1039.8 1750.7 L1040.2 1750.6 L1040.6 1750.7 L1041.0 1750.7 L1041.4 1750.8 L1041.8 1750.8 L1042.2 1750.8 L1042.6 1750.5 L1043.0 1750.8 L1043.4 1750.7 L1043.8 1750.9 L1044.2 1751.3 L1044.6 1751.1 L1045.0 1751.0 L1045.4 1750.9 L1045.8 1751.1 L1046.2 1751.0 L1046.6 1751.5 L1047.0 1751.1 L1047.4 1751.2 L1047.8 1751.0 L1048.2 1751.1 L1048.6 1751.3 L1049.0 1750.8 L1049.4 1750.8 L1049.8 1750.6 L1050.2 1750.9 L1050.6 1750.5 L1051.0 1750.5 L1051.4 1750.6 L1051.8 1750.8 L1052.2 1751.3 L1052.6 1751.8 L1053.0 1751.0 L1053.4 1751.3 L1053.8 1751.1 L1054.2 1750.7 L1054.6 1750.8 L1055.0 1750.8 L1055.4 1750.6 L1055.8 1751.1 L1056.2 1750.4 L1056.6 1750.9 L1057.0 1750.9 L1057.4 1750.8 L1057.8 1751.0 L1058.2 1751.3 L1058.6 1751.2 L1059.0 1751.3 L1059.4 1751.4 L1059.8 1750.8 L1060.2 1751.4 L1060.6 1751.5 L1061.0 1751.3 L1061.4 1751.3 L1061.8 1750.8 L1062.2 1751.1 L1062.6 1751.1 L1063.0 1751.1 L1063.4 1751.3 L1063.8 1750.9 L1064.2 1751.0 L1064.6 1750.6 L1065.0 1750.9 L1065.4 1751.0 L1065.8 1750.8 L1066.2 1750.8 L1066.6 1751.3 L1067.0 1750.7 L1067.4 1750.8 L1067.8 1750.9 L1068.2 1751.2 L1068.6 1751.3 L1069.0 1750.9 L1069.4 1750.6 L1069.8 1750.6 L1070.2 1751.0 L1070.6 1750.7 L1071.0 1751.3 L1071.4 1751.3 L1071.8 1751.0 L1072.2 1751.0 L1072.6 1750.9 L1073.0 1751.0 L1073.4 1750.3 L1073.8 1750.7 L1074.2 1750.3 L1074.6 1750.3 L1075.0 1750.5 L1075.4 1750.5 L1075.8 1750.4 L1076.2 1750.3 L1076.6 1750.4 L1077.0 1750.8 L1077.4 1750.8 L1077.8 1750.5 L1078.2 1750.5 L1078.6 1750.0 L1079.0 1750.0 L1079.4 1749.8 L1079.8 1749.3 L1080.2 1749.1 L1080.6 1749.1 L1081.0 1748.9 L1081.4 1748.5 L1081.8 1748.4 L1082.2 1747.8 L1082.6 1747.3 L1083.0 1746.1 L1083.4 1744.6 L1083.8 1742.7 L1084.2 1739.8 L1084.6 1735.8 L1085.0 1730.7 L1085.4 1724.6 L1085.8 1717.2 L1086.2 1709.4 L1086.6 1700.9 L1087.0 1693.9 L1087.4 1688.0 L1087.8 1684.2 L1088.2 1682.6 L1088.2 1682.5 L1088.6 1684.0 L1089.0 1687.8 L1089.4 1693.6 L1089.8 1701.5 L1090.2 1709.6 L1090.6 1717.2 L1091.0 1724.7 L1091.4 1730.5 L1091.8 1735.9 L1092.2 1739.6 L1092.6 1742.5 L1093.0 1744.7 L1093.4 1746.2 L1093.8 1747.4 L1094.2 1748.0 L1094.6 1748.4 L1095.0 1748.6 L1095.4 1748.2 L1095.8 1749.2 L1096.2 1748.9 L1096.6 1749.3 L1097.0 1749.6 L1097.4 1749.5 L1097.8 1749.4 L1098.2 1749.5 L1098.6 1749.6 L1099.0 1749.5 L1099.4 1749.6 L1099.8 1749.7 L1100.2 1750.2 L1100.6 1750.1 L1101.0 1750.4 L1101.4 1750.2 L1101.8 1750.2 L1102.2 1750.2 L1102.6 1750.4 L1103.0 1750.4 L1103.4 1750.3 L1103.8 1750.1 L1104.2 1750.1 L1104.6 1750.6 L1105.0 1750.2 L1105.4 1750.3 L1105.8 1750.7 L1106.2 1750.7 L1106.6 1750.6 L1107.0 1750.4 L1107.4 1750.9 L1107.8 1750.4 L1108.2 1750.4 L1108.6 1750.3 L1109.0 1750.2 L1109.4 1750.3 L1109.8 1750.7 L1110.2 1750.6 L1110.6 1750.4 L1111.0 1750.1 L1111.4 1750.1 L1111.8 1750.3 L1112.2 1750.2 L1112.6 1750.6 L1113.0 1750.6 L1113.4 1750.9 L1113.8 1750.4 L1114.2 1750.1 L1114.6 1750.1 L1115.0 1749.6 L1115.4 1750.3 L1115.8 1750.5 L1116.2 1750.8 L1116.6 1750.8 L1117.0 1750.8 L1117.4 1750.7 L1117.8 1750.7 L1118.2 1750.7 L1118.6 1750.1 L1119.0 1750.2 L1119.4 1750.0 L1119.8 1750.6 L1120.2 1750.5 L1120.6 1750.4 L1121.0 1750.1 L1121.4 1750.4 L1121.8 1750.3 L1122.2 1750.4 L1122.6 1750.2 L1123.0 1750.3 L1123.4 1750.1 L1123.8 1750.3 L1124.2 1750.1 L1124.6 1750.0 L1125.0 1750.1 L1125.4 1750.1 L1125.8 1750.4 L1126.2 1750.1 L1126.6 1750.2 L1127.0 1749.9 L1127.4 1749.6 L1127.8 1750.1 L1128.2 1749.6 L1128.6 1749.9 L1129.0 1749.6 L1129.4 1749.0 L1129.8 1748.9 L1130.2 1748.8 L1130.6 1748.5 L1131.0 1748.1 L1131.4 1748.2 L1131.8 1747.6 L1132.2 1747.1 L1132.6 1746.3 L1133.0 1745.7 L1133.4 1744.5 L1133.8 1743.5 L1134.2 1742.3 L1134.6 1740.7 L1135.0 1739.0 L1135.4 1737.3 L1135.8 1735.8 L1136.2 1734.0 L1136.6 1732.1 L1137.0 1730.3 L1137.4 1729.2 L1137.8 1728.4 L1138.2 1727.1 L1138.6 1726.7 L1138.8 1726.5 L1139.0 1725.9 L1139.4 1726.7 L1139.8 1727.3 L1140.2 1728.9 L1140.6 1730.1 L1141.0 1731.8 L1141.4 1733.7 L1141.8 1735.5 L1142.2 1737.1 L1142.6 1739.0 L1143.0 1740.4 L1143.4 1742.2 L1143.8 1743.8 L1144.2 1745.1 L1144.6 1745.8 L1145.0 1746.5 L1145.4 1747.5 L1145.8 1748.1 L1146.2 1748.8 L1146.6 1749.1 L1147.0 1749.2 L1147.4 1749.5 L1147.8 1749.6 L1148.2 1749.7 L1148.6 1749.8 L1149.0 1749.6 L1149.4 1749.3 L1149.8 1749.7 L1150.2 1749.5 L1150.6 1750.0 L1151.0 1750.1 L1151.4 1749.8 L1151.8 1750.4 L1152.2 1750.5 L1152.6 1750.3 L1153.0 1750.5 L1153.4 1750.5 L1153.8 1750.0 L1154.2 1750.5 L1154.6 1750.5 L1155.0 1750.6 L1155.4 1750.8 L1155.8 1750.5 L1156.2 1750.5 L1156.6 1750.5 L1157.0 1750.5 L1157.4 1750.6 L1157.8 1750.3 L1158.2 1750.3 L1158.6 1750.7 L1159.0 1750.6 L1159.4 1750.9 L1159.8 1750.6 L1160.2 1750.9 L1160.6 1751.0 L1161.0 1751.2 L1161.4 1751.1 L1161.8 1751.3 L1162.2 1751.1 L1162.6 1751.0 L1163.0 1750.9 L1163.4 1751.0 L1163.8 1750.7 L1164.2 1751.1 L1164.6 1751.0 L1165.0 1750.9 L1165.4 1751.0 L1165.8 1751.1 L1166.2 1751.2 L1166.6 1751.2 L1167.0 1751.0 L1167.4 1751.0 L1167.8 1750.9 L1168.2 1751.3 L1168.6 1751.1 L1169.0 1750.8 L1169.4 1751.4 L1169.8 1751.1 L1170.2 1750.7 L1170.6 1750.7 L1171.0 1750.5 L1171.4 1751.1 L1171.8 1750.9 L1172.2 1750.5 L1172.6 1750.9 L1173.0 1750.7 L1173.4 1751.2 L1173.8 1750.7 L1174.2 1750.5 L1174.6 1751.0 L1175.0 1750.8 L1175.4 1750.8 L1175.8 1750.4 L1176.2 1750.9 L1176.6 1751.2 L1177.0 1750.6 L1177.4 1751.3 L1177.8 1751.0 L1178.2 1751.6 L1178.6 1751.3 L1179.0 1751.2 L1179.4 1751.4 L1179.8 1751.2 L1180.2 1750.9 L1180.6 1751.0 L1181.0 1750.7 L1181.4 1750.4 L1181.8 1751.2 L1182.2 1750.9 L1182.6 1750.9 L1183.0 1751.1 L1183.4 1750.7 L1183.8 1750.8 L1184.2 1751.0 L1184.6 1751.0 L1185.0 1751.2 L1185.4 1751.4 L1185.8 1750.9 L1186.2 1750.9 L1186.6 1750.9 L1187.0 1750.5 L1187.4 1750.8 L1187.8 1750.7 L1188.2 1751.2 L1188.6 1751.1 L1189.0 1751.0 L1189.4 1750.8 L1189.8 1751.0 L1190.2 1750.9 L1190.6 1751.2 L1191.0 1751.0 L1191.4 1750.8 L1191.8 1751.1 L1192.2 1750.9 L1192.6 1750.6 L1193.0 1751.0 L1193.4 1750.9 L1193.8 1750.9 L1194.2 1751.0 L1194.6 1750.7 L1195.0 1750.8 L1195.4 1750.9 L1195.8 1751.4 L1196.2 1751.5 L1196.6 1751.3 L1197.0 1751.7 L1197.4 1751.4 L1197.8 1751.5 L1198.2 1751.5 L1198.6 1751.2 L1199.0 1751.6 L1199.4 1751.1 L1199.8 1750.7 L1200.2 1751.2 L1200.6 1750.9 L1201.0 1750.9 L1201.4 1750.4 L1201.8 1751.2 L1202.2 1751.1 L1202.6 1751.0 L1203.0 1751.0 L1203.4 1751.0 L1203.8 1750.6 L1204.2 1750.8 L1204.6 1750.4 L1205.0 1750.6 L1205.4 1751.0 L1205.8 1751.1 L1206.2 1750.8 L1206.6 1751.2 L1207.0 1751.1 L1207.4 1750.9 L1207.8 1751.1 L1208.2 1750.8 L1208.6 1750.5 L1209.0 1750.6 L1209.4 1751.1 L1209.8 1750.5 L1210.2 1751.0 L1210.6 1751.2 L1211.0 1751.2 L1211.4 1750.8 L1211.8 1750.9 L1212.2 1751.0 L1212.6 1751.1 L1213.0 1750.8 L1213.4 1750.8 L1213.8 1751.2 L1214.2 1751.2 L1214.6 1751.1 L1215.0 1750.9 L1215.4 1751.1 L1215.8 1751.1 L1216.2 1751.2 L1216.6 1750.8 L1217.0 1751.1 L1217.4 1751.2 L1217.8 1751.0 L1218.2 1751.2 L1218.6 1751.0 L1219.0 1750.8 L1219.4 1750.8 L1219.8 1750.5 L1220.2 1750.8 L1220.6 1751.0 L1221.0 1751.1 L1221.4 1751.4 L1221.8 1751.0 L1222.2 1750.9 L1222.6 1751.2 L1223.0 1751.3 L1223.4 1751.6 L1223.8 1751.3 L1224.2 1751.0 L1224.6 1751.3 L1225.0 1751.0 L1225.4 1750.8 L1225.8 1751.5 L1226.2 1751.0 L1226.6 1751.0 L1227.0 1751.0 L1227.4 1751.4 L1227.8 1751.1 L1228.2 1751.4 L1228.6 1751.0 L1229.0 1751.0 L1229.4 1751.6 L1229.8 1751.7 L1230.2 1751.5 L1230.6 1751.5 L1231.0 1751.5 L1231.4 1751.3 L1231.8 1751.7 L1232.2 1751.4 L1232.6 1751.3 L1233.0 1751.2 L1233.4 1751.4 L1233.8 1751.3 L1234.2 1751.3 L1234.6 1751.0 L1235.0 1751.3 L1235.4 1751.7 L1235.8 1751.1 L1236.2 1751.1 L1236.6 1751.3 L1237.0 1751.3 L1237.4 1751.2 L1237.8 1750.7 L1238.2 1751.1 L1238.6 1750.7 L1239.0 1750.7 L1239.4 1751.0 L1239.8 1750.9 L1240.2 1751.2 L1240.6 1751.7 L1241.0 1751.3 L1241.4 1751.2 L1241.8 1750.9 L1242.2 1750.9 L1242.6 1750.8 L1243.0 1750.9 L1243.4 1750.8 L1243.8 1751.0 L1244.2 1751.1 L1244.6 1751.1 L1245.0 1751.1 L1245.4 1751.3 L1245.8 1751.7 L1246.2 1751.6 L1246.6 1751.6 L1247.0 1751.5 L1247.4 1751.0 L1247.8 1751.1 L1248.2 1750.6 L1248.6 1751.2 L1249.0 1751.0 L1249.4 1750.7 L1249.8 1750.6 L1250.2 1751.1 L1250.6 1750.9 L1251.0 1751.3 L1251.4 1751.8 L1251.8 1751.6 L1252.2 1751.4 L1252.6 1751.5 L1253.0 1750.9 L1253.4 1751.0 L1253.8 1750.8 L1254.2 1750.8 L1254.6 1751.2 L1255.0 1750.9 L1255.4 1751.4 L1255.8 1750.9 L1256.2 1751.4 L1256.6 1750.8 L1257.0 1751.3 L1257.4 1751.0 L1257.8 1751.1 L1258.2 1751.4 L1258.6 1751.5 L1259.0 1751.0 L1259.4 1751.4 L1259.8 1751.0 L1260.2 1751.2 L1260.6 1751.3 L1261.0 1751.4 L1261.4 1751.0 L1261.8 1751.7 L1262.2 1751.5 L1262.6 1751.3 L1263.0 1751.2 L1263.4 1751.0 L1263.8 1751.0 L1264.2 1751.3 L1264.6 1751.1 L1265.0 1751.0 L1265.4 1751.1 L1265.8 1751.6 L1266.2 1751.2 L1266.6 1751.2 L1267.0 1751.6 L1267.4 1751.4 L1267.8 1751.3 L1268.2 1751.1 L1268.6 1750.9 L1269.0 1750.9 L1269.4 1751.0 L1269.8 1751.0 L1270.2 1751.0 L1270.6 1751.0 L1271.0 1750.9 L1271.4 1750.9 L1271.8 1750.8 L1272.2 1750.6 L1272.6 1751.0 L1273.0 1750.8 L1273.4 1750.8 L1273.8 1750.9 L1274.2 1750.8 L1274.6 1751.0 L1275.0 1751.2 L1275.4 1751.2 L1275.8 1751.0 L1276.2 1751.3 L1276.6 1751.1 L1277.0 1751.0 L1277.4 1751.2 L1277.8 1751.6 L1278.2 1751.0 L1278.6 1751.4 L1279.0 1751.3 L1279.4 1751.2 L1279.8 1750.6 L1280.2 1751.1 L1280.6 1750.7 L1281.0 1750.7 L1281.4 1750.9 L1281.8 1751.2 L1282.2 1751.2 L1282.6 1751.2 L1283.0 1751.5 L1283.4 1751.2 L1283.8 1751.2 L1284.2 1751.6 L1284.6 1751.6 L1285.0 1751.6 L1285.4 1751.2 L1285.8 1751.6 L1286.2 1751.4 L1286.6 1751.6 L1287.0 1751.0 L1287.4 1751.3 L1287.8 1751.2 L1288.2 1751.0 L1288.6 1751.1 L1289.0 1751.3 L1289.4 1750.9 L1289.8 1750.8 L1290.2 1751.1 L1290.6 1751.2 L1291.0 1751.2 L1291.4 1750.9 L1291.8 1751.2 L1292.2 1751.5 L1292.6 1751.3 L1293.0 1751.3 L1293.4 1751.6 L1293.8 1751.7 L1294.2 1751.2 L1294.6 1750.9 L1295.0 1751.1 L1295.4 1751.2 L1295.8 1751.4 L1296.2 1751.4 L1296.6 1751.2 L1297.0 1750.9 L1297.4 1751.0 L1297.8 1750.7 L1298.2 1750.9 L1298.6 1750.8 L1299.0 1751.5 L1299.4 1751.2 L1299.8 1751.0 L1300.2 1751.1 L1300.6 1751.3 L1301.0 1751.0 L1301.4 1751.1 L1301.8 1751.0 L1302.2 1751.2 L1302.6 1750.8 L1303.0 1750.7 L1303.4 1750.7 L1303.8 1750.8 L1304.2 1751.2 L1304.6 1751.3 L1305.0 1751.7 L1305.4 1751.3 L1305.8 1751.6 L1306.2 1751.3 L1306.6 1751.2 L1307.0 1750.8 L1307.4 1750.9 L1307.8 1751.4 L1308.2 1751.5 L1308.6 1751.3 L1309.0 1751.4 L1309.4 1751.2 L1309.8 1751.2 L1310.2 1751.2 L1310.6 1751.5 L1311.0 1751.3 L1311.4 1751.1 L1311.8 1750.9 L1312.2 1751.0 L1312.6 1750.9 L1313.0 1750.6 L1313.4 1751.1 L1313.8 1750.7 L1314.2 1750.6 L1314.6 1751.0 L1315.0 1751.0 L1315.4 1750.9 L1315.8 1751.1 L1316.2 1750.8 L1316.6 1750.8 L1317.0 1750.3 L1317.4 1751.0 L1317.8 1750.3 L1318.2 1750.9 L1318.6 1750.6 L1319.0 1750.6 L1319.4 1750.9 L1319.8 1751.0 L1320.2 1751.0 L1320.6 1751.3 L1321.0 1751.0 L1321.4 1751.1 L1321.8 1750.8 L1322.2 1751.1 L1322.6 1750.9 L1323.0 1750.8 L1323.4 1750.9 L1323.8 1751.0 L1324.2 1751.0 L1324.6 1750.9 L1325.0 1750.6 L1325.4 1750.5 L1325.8 1750.6 L1326.2 1749.9 L1326.6 1749.9 L1327.0 1750.0 L1327.4 1748.9 L1327.8 1749.1 L1328.2 1749.2 L1328.6 1748.6 L1329.0 1749.4 L1329.4 1748.3 L1329.8 1748.9 L1330.2 1748.7 L1330.6 1748.2 L1331.0 1747.6 L1331.4 1747.4 L1331.8 1746.8 L1332.2 1747.0 L1332.6 1746.4 L1333.0 1746.3 L1333.4 1746.4 L1333.8 1745.9 L1334.2 1745.9 L1334.6 1745.9 L1334.8 1745.5 L1335.0 1745.9 L1335.4 1745.8 L1335.8 1745.5 L1336.2 1746.1 L1336.6 1746.2 L1337.0 1746.4 L1337.4 1746.8 L1337.8 1746.9 L1338.2 1747.6 L1338.6 1747.5 L1339.0 1748.0 L1339.4 1748.0 L1339.8 1748.4 L1340.2 1748.4 L1340.6 1748.7 L1341.0 1749.0 L1341.4 1749.6 L1341.8 1750.0 L1342.2 1750.4 L1342.6 1750.4 L1343.0 1750.3 L1343.4 1750.3 L1343.8 1750.5 L1344.2 1750.4 L1344.6 1750.8 L1345.0 1750.8 L1345.4 1750.5 L1345.8 1750.7 L1346.2 1751.3 L1346.6 1751.3 L1347.0 1751.3 L1347.4 1751.6 L1347.8 1751.2 L1348.2 1751.1 L1348.6 1751.0 L1349.0 1750.7 L1349.4 1751.3 L1349.8 1750.9 L1350.2 1751.0 L1350.6 1750.9 L1351.0 1751.1 L1351.4 1750.8 L1351.8 1750.8 L1352.2 1750.5 L1352.6 1750.9 L1353.0 1750.6 L1353.4 1751.0 L1353.8 1751.1" stroke="#000" stroke-width="7.9"/>
</g>
<text transform="matrix(0.7691 0 0 0.6818 564.57 481.50)" fill="#0000ff">2</text>
<text transform="matrix(0.7648 0 0 0.6548 608.00 505.80)" fill="#0000ff">2</text>
<text transform="matrix(0.7777 0 0 0.6872 665.80 204.00)" fill="#0000ff">2</text>
<text transform="matrix(0.7734 0 0 0.6643 676.94 542.90)" fill="#0000ff">2</text>
<text transform="matrix(0.7734 0 0 0.6764 808.84 517.50)" fill="#0000ff">2</text>
<text transform="matrix(0.7669 0 0 0.6777 952.68 514.00)" fill="#0000ff">2</text>
<text transform="matrix(0.7540 0 0 0.6669 1045.68 549.50)" fill="#0000ff">2</text>
<text transform="matrix(0.7453 0 0 0.6737 1123.04 553.00)" fill="#0000ff">2</text>
<text transform="matrix(0.7540 0 0 0.6791 1158.18 561.40)" fill="#0000ff">2</text>
<text transform="matrix(0.7475 0 0 0.6777 1274.53 586.50)" fill="#0000ff">2</text>
<text transform="matrix(0.6888 0 0 0.6845 578.03 893.40)" fill="#ff00ff">1</text>
<text transform="matrix(0.7777 0 0 0.6777 669.80 783.90)" fill="#ff00ff">2</text>
<text transform="matrix(0.7475 0 0 0.6521 612.13 1071.70)" fill="#ff00ff">2</text>
<text transform="matrix(0.6681 0 0 0.6859 683.66 1112.50)" fill="#ff00ff">1</text>
<text transform="matrix(0.7734 0 0 0.6575 820.74 1133.60)" fill="#ff00ff">2</text>
<text transform="matrix(0.6819 0 0 0.6872 911.31 1137.80)" fill="#ff00ff">1</text>
<text transform="matrix(0.7669 0 0 0.6656 960.68 1134.20)" fill="#ff00ff">2</text>
<text transform="matrix(0.7604 0 0 0.6750 1057.03 1129.80)" fill="#ff00ff">2</text>
<text transform="matrix(0.6427 0 0 0.6612 1082.94 1147.40)" fill="#ff00ff">1</text>
<text transform="matrix(0.6381 0 0 0.6667 1113.29 1170.60)" fill="#ff00ff">1</text>
<text transform="matrix(0.7626 0 0 0.6750 1142.61 1148.10)" fill="#ff00ff">2</text>
<text transform="matrix(0.7604 0 0 0.6750 1173.23 1148.10)" fill="#ff00ff">2</text>
<text transform="matrix(0.7540 0 0 0.6710 1219.78 1166.20)" fill="#ff00ff">2</text>
<text transform="matrix(0.7475 0 0 0.6710 1274.53 1166.20)" fill="#ff00ff">2</text>
<text transform="matrix(0.6473 0 0 0.6708 1318.79 1166.20)" fill="#ff00ff">1</text>
<text transform="matrix(0.6450 0 0 0.6722 609.81 1349.00)" fill="#000">1</text>
<text transform="matrix(0.6450 0 0 0.6667 660.81 1600.80)" fill="#000">1</text>
<text transform="matrix(0.6496 0 0 0.6735 911.76 1645.00)" fill="#000">1</text>
<text transform="matrix(0.6427 0 0 0.6735 946.94 1740.10)" fill="#000">1</text>
<text transform="matrix(0.6543 0 0 0.6571 1070.71 1666.20)" fill="#000">1</text>
<text transform="matrix(0.6612 0 0 0.6653 1120.34 1717.10)" fill="#000">1</text>
<text transform="matrix(0.6750 0 0 0.6694 1301.58 1728.40)" fill="#000">1</text>
<text transform="matrix(0.7651 0 0 0.6879 0 186.33)" fill="#0000ff" y="0"><tspan font-size="107.4" x="233.5" dy="5.6">(</tspan><tspan x="273.3" dy="-5.6">c</tspan><tspan font-size="107.4" x="324.0" dy="5.6">)</tspan></text>
<text transform="matrix(0.7215 0 0 0.6822 0 751.03)" fill="#ff00ff" y="0"><tspan font-size="107.8" x="248.6" dy="5.8">(</tspan><tspan x="290.6" dy="-5.8">b</tspan><tspan font-size="107.8" x="354.7" dy="5.8">)</tspan></text>
<text transform="matrix(0.7079 0 0 0.6774 0 1313.84)" fill="#000" y="0"><tspan font-size="106.7" x="254.2" dy="5.5">(</tspan><tspan x="297.3" dy="-5.5">a</tspan><tspan font-size="106.7" x="360.3" dy="5.5">)</tspan></text>
<text transform="matrix(0.7100 0 0 0.6677 199.28 1891.55)" fill="#000">10</text>
<text transform="matrix(0.7100 0 0 0.6677 338.87 1891.55)" fill="#000">20</text>
<text transform="matrix(0.7100 0 0 0.6677 477.06 1891.55)" fill="#000">30</text>
<text transform="matrix(0.7100 0 0 0.6677 616.32 1891.55)" fill="#000">40</text>
<text transform="matrix(0.7100 0 0 0.6677 753.61 1891.55)" fill="#000">50</text>
<text transform="matrix(0.7100 0 0 0.6677 892.16 1891.55)" fill="#000">60</text>
<text transform="matrix(0.7100 0 0 0.6677 1030.01 1891.55)" fill="#000">70</text>
<text transform="matrix(0.7100 0 0 0.6677 1168.81 1891.55)" fill="#000">80</text>
<text transform="matrix(0.7100 0 0 0.6677 1307.27 1891.55)" fill="#000">90</text>
<text transform="translate(119.2 1244.1) rotate(-90) scale(0.7200 0.7709)" y="0"><tspan x="-7.1" textLength="43.4" lengthAdjust="spacingAndGlyphs" style="font-family:'DejaVu Sans Mono',monospace">I</tspan><tspan x="36.7" textLength="56.3" lengthAdjust="spacingAndGlyphs">n</tspan><tspan x="100.0">t</tspan><tspan x="137.3">e</tspan><tspan x="198.2">n</tspan><tspan x="262.1">s</tspan><tspan x="313.9">i</tspan><tspan x="342.1">t</tspan><tspan x="382.1">y</tspan><tspan x="442.9" textLength="38.7" lengthAdjust="spacingAndGlyphs">/</tspan><tspan x="487.4" textLength="44.9" lengthAdjust="spacingAndGlyphs">(</tspan><tspan x="531.0">a</tspan><tspan x="593.5" textLength="35.6" lengthAdjust="spacingAndGlyphs">.</tspan><tspan x="629.7">u</tspan><tspan x="693.2" textLength="36.4" lengthAdjust="spacingAndGlyphs">.</tspan><tspan x="730.2" textLength="44.9" lengthAdjust="spacingAndGlyphs">)</tspan></text>
<text transform="matrix(0.715 0 0 0.667 0 93.9)" y="0"><tspan x="752.8 818.2 849.7 911.3 938.8">1 TiH</tspan><tspan font-size="70" dy="26.2" x="1015.0">1.5</tspan><tspan dy="-26.2" x="1132.9 1161.0 1223.8 1257.3 1320.1"> 2 Ti</tspan></text>
<clipPath id="cx"><rect x="600" y="1900" width="320" height="75.2"/></clipPath>
<g clip-path="url(#cx)"><text transform="matrix(0.8000 0 0 0.6392 0 1974.2)" y="0"><tspan x="789.7">2</tspan><tspan x="849.0">θ</tspan><tspan x="912.5" textLength="37.2" lengthAdjust="spacingAndGlyphs">/</tspan><tspan x="952.6" textLength="44.9" lengthAdjust="spacingAndGlyphs">(</tspan><tspan x="991.5" dy="30.5" font-size="139.3" textLength="61.6" lengthAdjust="spacingAndGlyphs">°</tspan><tspan x="1047.2" dy="-30.5" textLength="44.9" lengthAdjust="spacingAndGlyphs">)</tspan></text></g>
<g fill="#fff" shape-rendering="crispEdges"><rect x="0" y="1201" width="1419" height="1"/><rect x="0" y="1218" width="1419" height="1"/><rect x="0" y="1235" width="1419" height="1"/><rect x="0" y="1252" width="1419" height="1"/><rect x="0" y="1269" width="1419" height="1"/><rect x="0" y="1286" width="1419" height="1"/><rect x="0" y="1303" width="1419" height="1"/><rect x="0" y="1320" width="1419" height="1"/><rect x="0" y="1337" width="1419" height="1"/><rect x="0" y="1354" width="1419" height="1"/><rect x="0" y="1371" width="1419" height="1"/><rect x="0" y="1388" width="1419" height="1"/><rect x="0" y="1405" width="1419" height="1"/><rect x="0" y="1422" width="1419" height="1"/><rect x="0" y="1439" width="1419" height="1"/><rect x="0" y="1456" width="1419" height="1"/><rect x="0" y="1473" width="1419" height="1"/><rect x="0" y="1490" width="1419" height="1"/><rect x="0" y="1507" width="1419" height="1"/><rect x="0" y="1524" width="1419" height="1"/><rect x="0" y="1541" width="1419" height="1"/><rect x="0" y="1558" width="1419" height="1"/><rect x="0" y="1575" width="1419" height="1"/><rect x="0" y="1592" width="1419" height="1"/><rect x="0" y="1609" width="1419" height="1"/><rect x="0" y="1626" width="1419" height="1"/><rect x="0" y="1643" width="1419" height="1"/><rect x="0" y="1660" width="1419" height="1"/><rect x="0" y="1677" width="1419" height="1"/><rect x="0" y="1694" width="1419" height="1"/><rect x="0" y="1711" width="1419" height="1"/><rect x="0" y="1728" width="1419" height="1"/><rect x="0" y="1745" width="1419" height="1"/><rect x="0" y="1762" width="1419" height="1"/><rect x="0" y="1779" width="1419" height="1"/><rect x="0" y="1796" width="1419" height="1"/><rect x="0" y="1813" width="1419" height="1"/><rect x="0" y="1830" width="1419" height="1"/><rect x="0" y="1847" width="1419" height="1"/><rect x="0" y="1864" width="1419" height="1"/><rect x="0" y="1881" width="1419" height="1"/><rect x="0" y="1898" width="1419" height="1"/><rect x="0" y="1915" width="1419" height="1"/><rect x="0" y="1932" width="1419" height="1"/><rect x="0" y="1949" width="1419" height="1"/><rect x="0" y="1966" width="1419" height="1"/><rect x="0" y="1983" width="1419" height="1"/><rect x="0" y="2000" width="1419" height="1"/></g>
</svg>
</body></html>
